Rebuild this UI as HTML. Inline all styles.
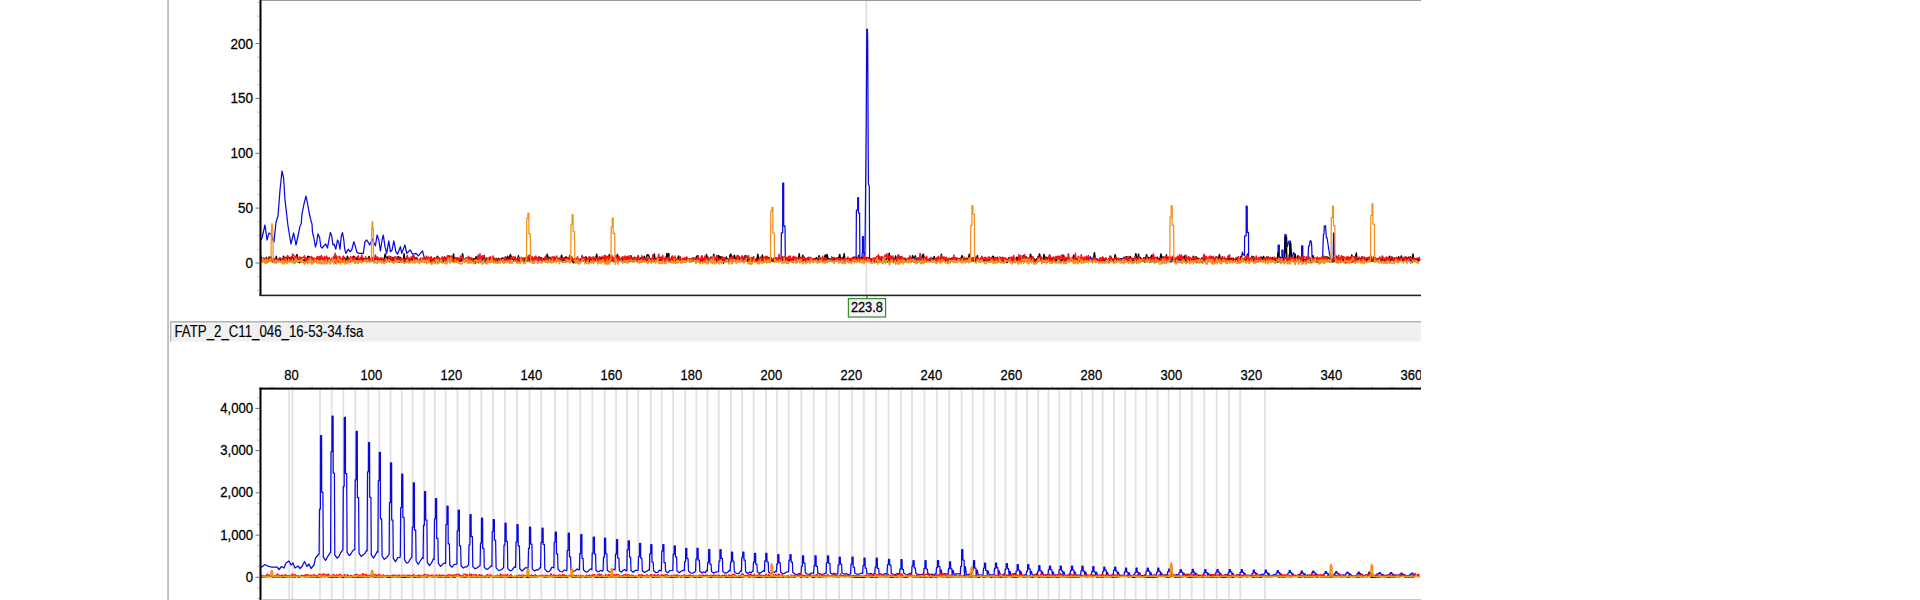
<!DOCTYPE html>
<html><head><meta charset="utf-8"><title>Electropherogram</title>
<style>
html,body{margin:0;padding:0;background:#fff;width:1920px;height:600px;overflow:hidden}
svg{display:block}
.t{font-family:"Liberation Sans",Arial,sans-serif;font-size:13.5px;fill:#000;stroke:#000;stroke-width:0.25px}
.h{font-family:"Liberation Sans",Arial,sans-serif;font-size:15px;fill:#000;stroke:#000;stroke-width:0.12px}
</style></head><body>
<svg width="1920" height="600" viewBox="0 0 1920 600">
<rect width="1920" height="600" fill="#fff"/>
<defs><clipPath id="c"><rect x="0" y="0" width="1421" height="600"/></clipPath></defs>
<g clip-path="url(#c)">
<rect x="167.3" y="0" width="1.5" height="600" fill="#b0b0b0"/>
<rect x="261.5" y="0" width="1159.5" height="1" fill="#9a9a9a"/>
<rect x="865.6" y="1" width="1.5" height="293.5" fill="#dcdcdc"/>
<rect x="257.5" y="289.9" width="2" height="1" fill="#b4b4b4"/>
<rect x="257.5" y="276.2" width="2" height="1" fill="#b4b4b4"/>
<rect x="255.5" y="262.5" width="4" height="1" fill="#707070"/>
<text transform="translate(253 268) scale(1 1.12)" class="t" text-anchor="end">0</text>
<rect x="257.5" y="248.8" width="2" height="1" fill="#b4b4b4"/>
<rect x="257.5" y="235.1" width="2" height="1" fill="#b4b4b4"/>
<rect x="257.5" y="221.3" width="2" height="1" fill="#b4b4b4"/>
<rect x="255.5" y="207.6" width="4" height="1" fill="#707070"/>
<text transform="translate(253 213.1) scale(1 1.12)" class="t" text-anchor="end">50</text>
<rect x="257.5" y="193.9" width="2" height="1" fill="#b4b4b4"/>
<rect x="257.5" y="180.2" width="2" height="1" fill="#b4b4b4"/>
<rect x="257.5" y="166.5" width="2" height="1" fill="#b4b4b4"/>
<rect x="255.5" y="152.8" width="4" height="1" fill="#707070"/>
<text transform="translate(253 158.2) scale(1 1.12)" class="t" text-anchor="end">100</text>
<rect x="257.5" y="139" width="2" height="1" fill="#b4b4b4"/>
<rect x="257.5" y="125.3" width="2" height="1" fill="#b4b4b4"/>
<rect x="257.5" y="111.6" width="2" height="1" fill="#b4b4b4"/>
<rect x="255.5" y="97.9" width="4" height="1" fill="#707070"/>
<text transform="translate(253 103.4) scale(1 1.12)" class="t" text-anchor="end">150</text>
<rect x="257.5" y="84.2" width="2" height="1" fill="#b4b4b4"/>
<rect x="257.5" y="70.4" width="2" height="1" fill="#b4b4b4"/>
<rect x="257.5" y="56.7" width="2" height="1" fill="#b4b4b4"/>
<rect x="255.5" y="43" width="4" height="1" fill="#707070"/>
<text transform="translate(253 48.5) scale(1 1.12)" class="t" text-anchor="end">200</text>
<rect x="257.5" y="29.3" width="2" height="1" fill="#b4b4b4"/>
<rect x="257.5" y="15.6" width="2" height="1" fill="#b4b4b4"/>
<rect x="257.5" y="1.8" width="2" height="1" fill="#b4b4b4"/>
<g fill="none" stroke-width="1.4" stroke-linejoin="round">
<polyline stroke="#00a000" stroke-width="0.8" points="261,261.4 263,261 265,262 267,261.8 269,261.5 271,261.1 273,261.2 275,261.9 277,261.9 279,261.3 281,261.8 283,262 285,261.6 287,261.5 289,261.5 291,262 293,261.6 295,262 297,262 299,261.5 301,261.6 303,261.1 305,261.9 307,261 309,261.2 311,261.5 313,262.1 315,261.4 317,261.7 319,261.3 321,261.3 323,262 325,261 327,261.8 329,261.2 331,261.1 333,261 335,262 337,261.8 339,260.9 341,262.1 343,261.4 345,261.6 347,261.3 349,261.4 351,261.4 353,261.3 355,261 357,261.8 359,261.2 361,262.1 363,261.1 365,261 367,261.7 369,260.9 371,261.2 373,261 375,261.8 377,262.1 379,261.2 381,260.9 383,261.2 385,261.9 387,260.9 389,261.2 391,261.2 393,261.1 395,262 397,262.1 399,262 401,261.8 403,261.5 405,261.2 407,262 409,261.3 411,261.9 413,261.9 415,261.7 417,261.2 419,262 421,262.1 423,261.7 425,262 427,262.1 429,261 431,261.7 433,261.8 435,261.2 437,262 439,262 441,261.9 443,262 445,262 447,261.7 449,262 451,261.5 453,260.9 455,261.6 457,261.9 459,261.1 461,261.8 463,260.9 465,261.9 467,261.6 469,261.8 471,261.2 473,262.1 475,261 477,262 479,261.4 481,261.8 483,262 485,261.3 487,261.4 489,261.1 491,261.1 493,261.5 495,261.6 497,261.8 499,261.3 501,261.5 503,261.5 505,261.2 507,261.3 509,262.1 511,261.7 513,261.3 515,261.5 517,261.3 519,261.8 521,261.4 523,261.8 525,261.7 527,261 529,261.9 531,262 533,261.6 535,261.6 537,261.4 539,261.1 541,261.3 543,260.9 545,262 547,261.9 549,262 551,261.6 553,261.6 555,261.8 557,261 559,261.7 561,261.6 563,261.3 565,261.4 567,262 569,261.3 571,261.3 573,262.1 575,261.4 577,261.9 579,261.4 581,261.1 583,261.7 585,261.3 587,261.6 589,261 591,262.1 593,261.6 595,261 597,261.2 599,262 601,261.1 603,261.3 605,261.1 607,261.7 609,262.1 611,261.5 613,261 615,261.3 617,261 619,261.2 621,261.7 623,261.7 625,262 627,261.6 629,261.8 631,261.5 633,261.9 635,261 637,261.9 639,261.4 641,261.9 643,261.4 645,260.9 647,260.9 649,261.1 651,261.9 653,261.2 655,261.5 657,261.1 659,262.1 661,262 663,261.4 665,261.9 667,261 669,262 671,261.7 673,261.6 675,261.7 677,261.9 679,261.3 681,261.7 683,261.9 685,262 687,261.7 689,261.6 691,262.1 693,261 695,261.5 697,261.6 699,261.1 701,261.8 703,261.7 705,262.1 707,261.5 709,261.9 711,261.6 713,261.8 715,261.5 717,261.3 719,261.8 721,261.3 723,261.6 725,261.4 727,261.8 729,261.3 731,261.8 733,261.4 735,260.9 737,262 739,261.8 741,261.7 743,261.3 745,261.2 747,260.9 749,261.2 751,261.1 753,261 755,261.1 757,261.2 759,261.7 761,261.5 763,261.3 765,262.1 767,261.2 769,261 771,261.3 773,261.7 775,261 777,261.1 779,260.9 781,261.1 783,260.9 785,261.3 787,261.6 789,262.1 791,261.2 793,262 795,262.1 797,262 799,261.7 801,261 803,261.1 805,261.6 807,261.3 809,261.9 811,260.9 813,261.2 815,261.6 817,261.6 819,261.3 821,262 823,261.3 825,261.2 827,261.1 829,261.8 831,261.5 833,261.3 835,261.4 837,261.4 839,261.3 841,261.1 843,261.8 845,261.4 847,261.3 849,262 851,262.1 853,261.1 855,261.6 857,261.8 859,261.4 861,261.1 863,261.1 865,261.4 867,261.7 869,261.3 871,261.6 873,262 875,261.3 877,261.6 879,261.9 881,261.5 883,262 885,262.1 887,261.8 889,261 891,261.9 893,262 895,261.6 897,261.2 899,261.5 901,261.2 903,261.2 905,262.1 907,261.2 909,260.9 911,261.9 913,261 915,261 917,262 919,261.9 921,261.9 923,262 925,262.1 927,260.9 929,261.5 931,261 933,261.7 935,261.5 937,261.7 939,261.4 941,261 943,261.3 945,261.2 947,261 949,261 951,261.1 953,261.6 955,261.3 957,261.8 959,261.5 961,261.6 963,261.5 965,261.6 967,261.6 969,262 971,261.8 973,261.4 975,261.3 977,261.3 979,261.2 981,261.3 983,261.7 985,261.9 987,261.3 989,261.1 991,262.1 993,260.9 995,260.9 997,261.6 999,261.2 1001,261.4 1003,261.4 1005,261.2 1007,261.8 1009,261 1011,262.1 1013,261.8 1015,262.1 1017,261.3 1019,260.9 1021,261.8 1023,261.5 1025,261.4 1027,261.4 1029,261.4 1031,260.9 1033,261.1 1035,261.8 1037,262 1039,261.7 1041,261.4 1043,261 1045,262 1047,261.9 1049,261.4 1051,262 1053,261.6 1055,261.2 1057,260.9 1059,261.7 1061,261.2 1063,261.5 1065,261.3 1067,261.4 1069,261 1071,260.9 1073,261.8 1075,261.8 1077,261.1 1079,261.2 1081,261.6 1083,262.1 1085,261.8 1087,262 1089,261.3 1091,261.8 1093,262 1095,261.7 1097,261.6 1099,261.7 1101,260.9 1103,261.9 1105,261 1107,261.8 1109,261.9 1111,261.6 1113,261 1115,261.4 1117,261.7 1119,261.9 1121,261.6 1123,260.9 1125,261.9 1127,260.9 1129,261.3 1131,261.6 1133,262 1135,261.7 1137,261.2 1139,261.9 1141,261.8 1143,261.4 1145,261.2 1147,261.4 1149,261.9 1151,261.9 1153,261.8 1155,261.7 1157,261.9 1159,261 1161,261.1 1163,261.9 1165,261.9 1167,261.6 1169,261.7 1171,260.9 1173,261.6 1175,261.2 1177,261.9 1179,261.8 1181,262.1 1183,261.4 1185,261.7 1187,261.1 1189,261.5 1191,261.3 1193,261.5 1195,261.5 1197,261.9 1199,261.1 1201,261.6 1203,262 1205,261.4 1207,261.1 1209,262 1211,261.8 1213,262.1 1215,261.1 1217,261.3 1219,261.2 1221,261.5 1223,261.1 1225,261.3 1227,261.9 1229,261.3 1231,261.7 1233,261.9 1235,261.2 1237,261.7 1239,262 1241,261.5 1243,262.1 1245,261.3 1247,261.6 1249,261.1 1251,261.1 1253,261.1 1255,261.7 1257,261.1 1259,261.7 1261,261.2 1263,261.7 1265,261.7 1267,262 1269,261.9 1271,261.5 1273,261.8 1275,261.1 1277,261.8 1279,261.3 1281,261.3 1283,261.4 1285,261.5 1287,261.8 1289,262 1291,261.3 1293,261 1295,261.1 1297,261.5 1299,261 1301,261.9 1303,261.7 1305,261.8 1307,260.9 1309,261.5 1311,262 1313,261.1 1315,261.9 1317,261.6 1319,261.9 1321,261.7 1323,261.8 1325,262 1327,260.9 1329,261.2 1331,261 1333,261.4 1335,261 1337,261 1339,261.2 1341,261 1343,261.8 1345,261.4 1347,261.1 1349,261.5 1351,261.3 1353,261.7 1355,261.5 1357,261.9 1359,261.3 1361,261.7 1363,261.4 1365,261.8 1367,261.3 1369,261.3 1371,261.3 1373,261.6 1375,262.1 1377,261.4 1379,261.7 1381,261.6 1383,261.9 1385,261.8 1387,262 1389,262 1391,261 1393,261.1 1395,261.6 1397,261.4 1399,262 1401,261.5 1403,261.1 1405,261.3 1407,261.6 1409,261.5 1411,261.6 1413,261.1 1415,261.4 1417,261.1 1419,261.3"/>
<polyline stroke="#0a0ade" stroke-width="1.25" points="261,240 262,238 265,225 267,240 269,233 271,234 274,242 276,222 278,216 280,190 282,171 283.6,178 285,200 288,226 291,244 293.6,233 296,245 298,236 300,226 301.2,224 302,214 304,204 306,196 308,206 309.2,213 310.8,220 312,224.2 312.5,232.5 313.8,237.5 315.4,247 316.7,242.5 317.9,233.8 319.6,237.5 320.8,246.7 322,248 324,245.8 325.8,244 327.5,248 329.2,238.3 330.4,232.5 331.7,235.8 333,245 334.2,244.2 335.8,249.2 337.5,240 338.8,242.5 340,249.2 341.2,236.7 342.5,232.5 343.8,240 344.6,248.3 345.8,253.3 348.3,249.2 350,251.7 351.7,250 353.8,241.7 355,245 356.7,251.7 358.3,253.3 363.3,253.3 365,241.7 366.7,240 368.3,242.5 369.6,245 370.8,242.5 372.5,239.2 373.8,242.5 375.4,245.8 377.1,235 378.8,240 380.4,250.8 382.1,240 383.3,235 385,246.7 386.7,253.3 388.8,240.8 390.4,251.7 392.1,250 393.8,240.8 395.8,251.7 397.5,254.2 400.4,246.7 401.7,253.3 405,245 406.7,253.3 410.4,250 412.5,254.2 416.2,253.3 418.3,255.8 422.5,250.8 424.2,257.5 426,260.5 427.5,260.4 429,258.7 430.5,260.9 432,260.8 433.5,259.7 435,259.9 436.5,258.6 438,259.3 439.5,260.4 441,260.5 442.5,260.1 444,258.6 445.5,259.1 447,261 448.5,259.3 450,259.9 451.5,259.1 453,260.3 454.5,260.7 456,259.5 457.5,258.9 459,259.3 460.5,258.6 462,259.4 463.5,260.6 465,259.4 466.5,260.3 468,258.7 469.5,258.3 471,259.5 472.5,258.6 474,259 475.5,259.1 477,260.8 478.5,259.4 480,259.9 481.5,258.9 483,260.5 484.5,258.7 486,258.8 487.5,260.1 489,259.4 490.5,259.9 492,259.4 493.5,258.8 495,260.3 496.5,259 498,261 499.5,259.6 501,260 502.5,259.7 504,258.7 505.5,258.7 507,260.6 508.5,260.4 510,260.1 511.5,258.9 513,259 514.5,259.3 516,261 517.5,260.9 519,259.8 520.5,259.7 522,259.6 523.5,259.5 525,260.9 526.5,259.8 528,258.8 529.5,260.5 531,259.5 532.5,260.5 534,260.2 535.5,259.5 537,259.3 538.5,260.4 540,259.3 541.5,260.2 543,258.6 544.5,259.2 546,259.7 547.5,260.2 549,259.4 550.5,260.4 552,259.4 553.5,260.7 555,260.9 556.5,259.8 558,259 559.5,260.8 561,260.3 562.5,260.4 564,260.5 565.5,260.2 567,260.1 568.5,260.1 570,258.7 571.5,259.7 573,259.1 574.5,260.1 576,259.7 577.5,258.7 579,259.4 580.5,259.1 582,259.7 583.5,260.1 585,259.2 586.5,258.6 588,259.3 589.5,258.9 591,259.5 592.5,260.1 594,259.9 595.5,260 597,260.6 598.5,260.6 600,259.5 601.5,260 603,260.9 604.5,260.1 606,260.4 607.5,260 609,258.9 610.5,260.7 612,259.6 613.5,259.3 615,259.5 616.5,260.8 618,259.2 619.5,259.8 621,259.4 622.5,259.8 624,259.7 625.5,260.1 627,259.3 628.5,259 630,259.3 631.5,260.5 633,259.2 634.5,261 636,260.1 637.5,260.1 639,260.4 640.5,260.4 642,259.9 643.5,259.3 645,259.7 646.5,260.4 648,258.7 649.5,259.7 651,260.7 652.5,258.6 654,259.6 655.5,260.3 657,259.8 658.5,259.5 660,260.6 661.5,259.3 663,258.8 664.5,260.3 666,259.3 667.5,260.8 669,259.7 670.5,259.8 672,259 673.5,260.5 675,259.2 676.5,260.5 678,258.7 679.5,260.9 681,260.3 682.5,260.6 684,260.1 685.5,260.3 687,259.3 688.5,259 690,259.6 691.5,260.1 693,258.9 694.5,258.8 696,260 697.5,260.7 699,259.6 700.5,260 702,260.9 703.5,258.7 705,259 706.5,259.8 708,259.9 709.5,259.2 711,259.2 712.5,259.8 714,259.2 715.5,260.4 717,260.3 718.5,258.8 720,258.8 721.5,260 723,260.7 724.5,259.4 726,258.7 727.5,258.7 729,260.9 730.5,259.1 732,260.9 733.5,260.6 735,260.1 736.5,259.2 738,260.1 739.5,259.5 741,260.6 742.5,260.5 744,260.6 745.5,260 747,260.4 748.5,258.8 750,259.1 751.5,260.7 753,259 754.5,260.7 756,259.6 757.5,258.8 759,259 760.5,259.5 762,259 763.5,259.3 765,259.3 766.5,259.8 768,260.8 769.5,260.9 771,260.2 772.5,260.9 774,260.2 775.5,260.2 777,259 778.5,258.7 780,258.8 781.1,259.5 781.4,232.8 782.7,232.8 782.7,183.2 783.7,183.2 783.7,225.9 785,225.9 785.3,259.5 786,260.3 787.5,259.2 789,260.9 790.5,259.6 792,258.6 793.5,260.5 795,258.7 796.5,261 798,259.4 799.5,258.8 801,259.8 802.5,258.7 804,258.7 805.5,258.7 807,259.6 808.5,258.7 810,260.9 811.5,259.8 813,259.9 814.5,259.4 816,259.9 817.5,260 819,257.5 820.5,259.8 822,259.5 823.5,260.3 825,259.3 826.5,260.6 828,258.9 829.5,258.8 831,260.6 832.5,258.9 834,259.2 835.5,259.6 837,259.2 838.5,260.3 840,259.1 841.5,259.5 843,259.6 844.5,260.4 846,260.8 847.5,260.4 849,259.7 850.5,260.2 852,260.3 853.5,259.2 855,259.5 856.1,259.5 856.4,210.1 857.7,210.1 857.7,197.7 858.5,197.7 858.5,213.1 859.6,213.1 859.9,259.5 861,260.4 861.9,259.5 862.2,252.6 862.5,252.6 862.5,236.6 863.5,236.6 863.5,252.6 863.8,252.6 864.1,259.5 864.9,259.5 865.5,200 866.2,130 866.8,29 867.4,29 867.7,40 868.1,130 868.4,184 869.3,186 869.6,259.5 871.5,260.6 873,258.8 874.5,259 876,259.7 877.5,260.5 879,259.4 880.5,259.7 882,259.7 883.5,260.8 885,260.9 886.5,258.8 888,259.6 889.5,260.9 891,260 892.5,260.7 894,259.1 895.5,259.1 897,259.5 898.5,259.2 900,259.2 901.5,260.6 903,260.1 904.5,258.9 906,259.8 907.5,259 909,260.3 910.5,259.1 912,259.4 913.5,260.7 915,260.5 916.5,258.6 918,260 919.5,259.5 921,258.7 922.5,259.5 924,260.3 925.5,261 927,260.8 928.5,260.2 930,260.5 931.5,260 933,259.9 934.5,258.8 936,259.5 937.5,260.4 939,259.3 940.5,259.3 942,258.8 943.5,260.2 945,260.8 946.5,260.6 948,260.1 949.5,259.8 951,259.2 952.5,259.9 954,258.6 955.5,259 957,260.8 958.5,260.1 960,258.9 961.5,259.9 963,259.5 964.5,259.1 966,259.2 967.5,260.8 969,260.1 970.5,259.1 972,260 973.5,260.7 975,259.6 976.5,259.9 978,259.3 979.5,260.1 981,259 982.5,258.9 984,260 985.5,259.1 987,260.2 988.5,260.3 990,259.8 991.5,260.9 993,260.6 994.5,260.8 996,260.3 997.5,259.7 999,259.1 1000.5,258.8 1002,260.1 1003.5,260.4 1005,260.6 1006.5,260.3 1008,260.9 1009.5,260.9 1011,258.8 1012.5,259.1 1014,259.7 1015.5,260.4 1017,259.6 1018.5,259.5 1020,260 1021.5,260.2 1023,260.9 1024.5,258.8 1026,260.3 1027.5,258.9 1029,259.4 1030.5,260.8 1032,259.3 1033.5,260.3 1035,260 1036.5,259.4 1038,259.8 1039.5,259.6 1041,260.2 1042.5,259.3 1044,259.7 1045.5,259.9 1047,260.8 1048.5,259.5 1050,258.6 1051.5,258.7 1053,259.7 1054.5,259.8 1056,259.1 1057.5,259.7 1059,258.8 1060.5,260.9 1062,259.8 1063.5,259.5 1065,259.6 1066.5,260.8 1068,260.1 1069.5,258.7 1071,259.6 1072.5,260.6 1074,259.5 1075.5,260.4 1077,259 1078.5,259.6 1080,261 1081.5,259.6 1083,259.7 1084.5,260.2 1086,259 1087.5,258.8 1089,260.8 1090.5,256.6 1092,260.9 1093.5,258.9 1095,260.8 1096.5,258.7 1098,259.6 1099.5,260.4 1101,260.5 1102.5,259.8 1104,260.3 1105.5,258.9 1107,259.5 1108.5,259.7 1110,260.9 1111.5,260 1113,259.9 1114.5,258.9 1116,258 1117.5,259.6 1119,260.1 1120.5,258.7 1122,258.7 1123.5,258.5 1125,259.7 1126.5,260.8 1128,259.9 1129.5,260.8 1131,261 1132.5,259 1134,258.8 1135.5,260.4 1137,259.5 1138.5,259.3 1140,260.6 1141.5,259.4 1143,260 1144.5,259.7 1146,258.8 1147.5,258.9 1149,259.2 1150.5,260.5 1152,259.2 1153.5,260.1 1155,260.1 1156.5,259.2 1158,259.7 1159.5,259 1161,258.7 1162.5,259.8 1164,260.6 1165.5,260.7 1167,260 1168.5,260.3 1170,260.1 1171.5,260.9 1173,258.8 1174.5,258.8 1176,259.7 1177.5,260.7 1179,258.8 1180.5,260.6 1182,260.4 1183.5,257 1185,259.8 1186.5,259.7 1188,259.1 1189.5,260.9 1191,258.8 1192.5,258.8 1194,260.1 1195.5,259 1197,259.8 1198.5,259.7 1200,260.8 1201.5,259.2 1203,259.9 1204.5,259.9 1206,259.6 1207.5,260.6 1209,258.9 1210.5,259.5 1212,259.2 1213.5,260.1 1215,258.9 1216.5,259.4 1218,260.1 1219.5,260 1221,260.9 1222.5,260.1 1224,259.2 1225.5,259.4 1227,258.8 1228.5,259.6 1230,258.8 1231.5,259 1233,260.5 1234.5,259.8 1236,259.6 1237.5,258.7 1239,259.3 1240.5,259.8 1241.2,259.5 1242.4,252.2 1243.4,255 1244.5,255.5 1244.6,235.8 1246.2,235.8 1246.2,206.1 1247.2,206.1 1247.3,232.3 1248.5,232.3 1248.6,259.5 1249.5,259.3 1251,260.9 1252.5,259.1 1254,260.8 1255.5,260.1 1257,259.4 1258.5,259.9 1260,258.7 1261.5,259.7 1263,260.8 1264.5,259.8 1266,260.4 1267.5,259.7 1269,260.1 1270.5,259.1 1272,260.3 1273.5,261 1275,259 1276.5,259.7 1277.6,259.5 1277.9,256.6 1278.1,256.6 1278.1,245 1279.3,245 1279.3,256.6 1279.5,256.6 1279.8,259.5 1281,260 1281.5,259.5 1281.8,257.6 1281.9,257.6 1281.9,250 1282.9,250 1282.9,257.6 1283,257.6 1283.3,259.5 1284.3,259.5 1284.9,234.6 1286,234.6 1286.6,237 1287.2,247 1288.8,241.2 1290.4,241.2 1291.2,250 1292,259.5 1293.6,252.5 1295.2,255 1296,259.5 1297.5,260.4 1299,258.6 1300.5,259.3 1301.1,259.5 1301.4,256.8 1301.6,256.8 1301.6,245.8 1302.8,245.8 1302.8,256.8 1303,256.8 1303.3,259.5 1305,259.4 1306.5,259.8 1308,259.5 1308.6,245.8 1309.6,245.8 1310,240.8 1311,240.8 1311.6,244 1312.2,259.5 1314,258.7 1315.5,259.7 1317,259.1 1318.5,260.6 1320,260.6 1321.5,259.5 1322.5,259.5 1323.5,234 1324,234 1324.3,225.8 1325.5,225.8 1326.3,237.5 1327,237.5 1329.5,254 1331,259.5 1332,260.4 1333.2,259.5 1333.5,233 1334.2,233 1334.5,259.5 1336.5,259 1338,258.6 1339.5,258.9 1341,259.7 1342.5,259.7 1344,258.7 1345.5,260.4 1347,260.6 1348.5,260.3 1350,257.4 1351.5,261 1353,258.8 1354.5,258.8 1356,258.8 1357.5,258.6 1359,259.3 1360.5,259.5 1362,260.9 1363.5,260.3 1365,259.6 1366.5,258.2 1368,260.4 1369.5,260.7 1371,260.4 1372.5,260.8 1374,259.6 1375.5,260.2 1377,260.3 1378.5,259.1 1380,259.2 1381.5,260.4 1383,259.9 1384.5,259.5 1386,260.1 1387.5,258.9 1389,258.6 1390.5,259.6 1392,258.6 1393.5,260.9 1395,259.4 1396.5,258.8 1398,258.6 1399.5,260 1401,259.7 1402.5,259.7 1404,260.1 1405.5,259 1407,259.7 1408.5,259.2 1410,260.6 1411.5,259.9 1413,260.2 1414.5,258.8 1416,259.6 1417.5,260.7 1419,259.3"/>
<polyline stroke="#000" stroke-width="1.5" points="261,258.8 261.9,260.3 262.8,261.7 263.7,257.9 264.6,259.4 265.5,259.5 266.4,257.4 267.3,261.9 268.2,261.1 269.1,256.9 270,260.2 270.9,256.8 271.8,259.4 272.7,261.8 273.6,262 274.5,261.3 275.4,262.1 276.3,256.3 277.2,262.2 278.1,260.3 279,259.6 279.9,258.8 280.8,260 281.7,260.6 282.6,261.5 283.5,256.2 284.4,262 285.3,260 286.2,258.1 287.1,260 288,257.3 288.9,258.3 289.8,257.6 290.7,261.1 291.6,257 292.5,257 293.4,258.6 294.3,262.5 295.2,262.6 296.1,257 297,254.6 297.9,260.1 298.8,262 299.7,262.6 300.6,258.8 301.5,259.7 302.4,260.2 303.3,260.4 304.2,259.6 305.1,261.1 306,258.2 306.9,259.7 307.8,256.3 308.7,257.1 309.6,257.3 310.5,259.4 311.4,258.6 312.3,260.8 313.2,260.7 314.1,258.1 315,260.2 315.9,258.8 316.8,258.9 317.7,258.5 318.6,258.2 319.5,260.8 320.4,258.2 321.3,256.2 322.2,258.9 323.1,258.8 324,259.3 324.9,258.2 325.8,260.2 326.7,259.4 327.6,258.1 328.5,258.4 329.4,259.5 330.3,260.7 331.2,260.7 332.1,258.3 333,260.6 333.9,259.1 334.8,259.3 335.7,261.1 336.6,261.2 337.5,261.4 338.4,261.2 339.3,258.6 340.2,260.9 341.1,259.7 342,259 342.9,257.9 343.8,258.7 344.7,257.7 345.6,260.4 346.5,261.3 347.4,256.2 348.3,258.2 349.2,260.3 350.1,259.2 351,260.1 351.9,258.5 352.8,259.5 353.7,256.3 354.6,257 355.5,261.4 356.4,257.8 357.3,259.8 358.2,258.6 359.1,259.3 360,260.4 360.9,257.8 361.8,261.4 362.7,258.1 363.6,258.9 364.5,259.1 365.4,259.9 366.3,258.6 367.2,258.4 368.1,260.2 369,256.5 369.9,259.9 370.8,259.3 371.7,259.9 372.6,259.3 373.5,260.1 374.4,260.1 375.3,258.9 376.2,258 377.1,259.4 378,260.8 378.9,260.7 379.8,258.9 380.7,258.5 381.6,260.1 382.5,260.5 383.4,260.4 384.3,258.2 385.2,253.9 386.1,257.4 387,261 387.9,256.8 388.8,260.3 389.7,261.6 390.6,257.1 391.5,259.7 392.4,257.7 393.3,260.2 394.2,259.9 395.1,257 396,260.2 396.9,259 397.8,259 398.7,256.6 399.6,262.3 400.5,257.6 401.4,261.1 402.3,259.7 403.2,260.4 404.1,253.8 405,262 405.9,259.3 406.8,257.8 407.7,257.9 408.6,258.6 409.5,260.7 410.4,258.5 411.3,259.1 412.2,260.1 413.1,255.7 414,257.2 414.9,258.7 415.8,257.8 416.7,259.5 417.6,259.4 418.5,261.2 419.4,259.5 420.3,261.4 421.2,260.8 422.1,259.4 423,258.3 423.9,260.5 424.8,261.4 425.7,258 426.6,257.9 427.5,261.5 428.4,258.2 429.3,258.5 430.2,260.5 431.1,261.6 432,258.7 432.9,259 433.8,259.2 434.7,257.8 435.6,262.6 436.5,258.5 437.4,256.3 438.3,257.7 439.2,258.7 440.1,261.4 441,260.8 441.9,261.8 442.8,261.4 443.7,260.8 444.6,256.9 445.5,258.6 446.4,260.9 447.3,257.4 448.2,256.1 449.1,256 450,257.2 450.9,261.1 451.8,260 452.7,259.3 453.6,254 454.5,261.1 455.4,261 456.3,258.3 457.2,259.1 458.1,258.2 459,258.8 459.9,259.1 460.8,260.9 461.7,259.9 462.6,253.8 463.5,259.7 464.4,259.2 465.3,261 466.2,258 467.1,258.3 468,259.9 468.9,258.6 469.8,257.7 470.7,261.1 471.6,259.1 472.5,259.9 473.4,261.5 474.3,258.8 475.2,259.5 476.1,256.7 477,260.3 477.9,259.7 478.8,258.3 479.7,257.6 480.6,260.2 481.5,259.9 482.4,257.4 483.3,258.4 484.2,255.7 485.1,261.6 486,261.3 486.9,257.9 487.8,260.1 488.7,260.6 489.6,258.9 490.5,261.6 491.4,259.3 492.3,259.3 493.2,257.7 494.1,258.1 495,260.5 495.9,259.3 496.8,258.8 497.7,260.6 498.6,258.3 499.5,260.4 500.4,259.1 501.3,259.9 502.2,257.9 503.1,258.2 504,258.6 504.9,258.6 505.8,258.1 506.7,258.7 507.6,256.2 508.5,259.4 509.4,258.4 510.3,254.5 511.2,256.5 512.1,258.8 513,259 513.9,260.2 514.8,260.3 515.7,260.7 516.6,259 517.5,260.4 518.4,255.8 519.3,260.9 520.2,257.7 521.1,258.3 522,260.1 522.9,258.6 523.8,259.5 524.7,261.1 525.6,257.8 526.5,260 527.4,257.9 528.3,259.1 529.2,258.9 530.1,257.9 531,260.7 531.9,259.9 532.8,258.9 533.7,258.2 534.6,259.5 535.5,257.9 536.4,260.2 537.3,259 538.2,257.7 539.1,257 540,261 540.9,257.4 541.8,261.5 542.7,261.6 543.6,259.3 544.5,260.8 545.4,256.9 546.3,259.1 547.2,254.3 548.1,257.5 549,260.3 549.9,257.2 550.8,261.9 551.7,259.9 552.6,261 553.5,261 554.4,257.7 555.3,261 556.2,257.3 557.1,257.7 558,258.3 558.9,260.1 559.8,260.8 560.7,258.9 561.6,255.2 562.5,260.1 563.4,258.1 564.3,259.4 565.2,257.4 566.1,256.8 567,260.9 567.9,260.4 568.8,258 569.7,262.5 570.6,258.1 571.5,257.5 572.4,261 573.3,262.7 574.2,262.4 575.1,259.1 576,262.3 576.9,259.5 577.8,259 578.7,262.6 579.6,262.2 580.5,261.2 581.4,259.7 582.3,256.3 583.2,258 584.1,258.5 585,261.4 585.9,256.8 586.8,258.2 587.7,261.4 588.6,262.8 589.5,262.1 590.4,257.4 591.3,259.4 592.2,259.9 593.1,261.8 594,259.4 594.9,261.4 595.8,258.1 596.7,254.2 597.6,259.5 598.5,258 599.4,259.4 600.3,261 601.2,257.3 602.1,259.3 603,257.5 603.9,257.7 604.8,258.5 605.7,259.2 606.6,257.6 607.5,260.2 608.4,261.4 609.3,254.7 610.2,260.9 611.1,261.1 612,258.5 612.9,260.2 613.8,261.4 614.7,260.4 615.6,261 616.5,259.2 617.4,254.6 618.3,262 619.2,259.2 620.1,259.4 621,259.4 621.9,257.9 622.8,259.7 623.7,261.4 624.6,261.8 625.5,257.2 626.4,259.9 627.3,258.5 628.2,258.3 629.1,259 630,261.5 630.9,255.7 631.8,258.1 632.7,261.1 633.6,258.6 634.5,261.6 635.4,259.1 636.3,258.1 637.2,260.4 638.1,255.8 639,260.5 639.9,260.1 640.8,257.9 641.7,259.8 642.6,259.5 643.5,258.6 644.4,256.4 645.3,258.7 646.2,260.1 647.1,254.9 648,254.7 648.9,255.7 649.8,259.7 650.7,258.7 651.6,260.8 652.5,258.1 653.4,259.2 654.3,253.9 655.2,260.9 656.1,258.9 657,260.8 657.9,260.2 658.8,258.2 659.7,260.3 660.6,259.8 661.5,259.7 662.4,259.7 663.3,258.5 664.2,261.2 665.1,258.4 666,259.6 666.9,253.5 667.8,259.2 668.7,253.6 669.6,260.9 670.5,260.5 671.4,258.2 672.3,256.3 673.2,258.7 674.1,259 675,258.9 675.9,262 676.8,261.4 677.7,258.5 678.6,255.9 679.5,260.8 680.4,260.3 681.3,261.9 682.2,259.5 683.1,261.4 684,259.7 684.9,258 685.8,261.2 686.7,257.6 687.6,259.1 688.5,259 689.4,259.8 690.3,259.3 691.2,260.5 692.1,258.7 693,259.2 693.9,260.3 694.8,258.9 695.7,259 696.6,256.4 697.5,255.9 698.4,261.5 699.3,260.7 700.2,261.2 701.1,259.3 702,257.8 702.9,259 703.8,261.6 704.7,258 705.6,260 706.5,254.6 707.4,257.8 708.3,259 709.2,259.2 710.1,260.6 711,257.1 711.9,258.6 712.8,261.3 713.7,254.3 714.6,259.1 715.5,261.8 716.4,259 717.3,262.3 718.2,255.6 719.1,256.2 720,259.8 720.9,256.6 721.8,259.4 722.7,259.9 723.6,263 724.5,259.8 725.4,258.2 726.3,257.1 727.2,260.4 728.1,261.4 729,262 729.9,255.5 730.8,254.1 731.7,257.8 732.6,257.7 733.5,259 734.4,255.3 735.3,258.9 736.2,259.4 737.1,257.7 738,258.4 738.9,257.7 739.8,259.3 740.7,258.3 741.6,258.2 742.5,256.4 743.4,259.1 744.3,260.1 745.2,255.4 746.1,261.3 747,260 747.9,261.5 748.8,258.3 749.7,261.9 750.6,262 751.5,258 752.4,258.8 753.3,257.4 754.2,261.4 755.1,259.8 756,259.3 756.9,260 757.8,254.2 758.7,259.9 759.6,261.7 760.5,259.8 761.4,261.4 762.3,255.1 763.2,260.9 764.1,259.5 765,258.2 765.9,259.9 766.8,257.5 767.7,258.6 768.6,257.9 769.5,258 770.4,259.7 771.3,259.5 772.2,259.1 773.1,259.8 774,261.2 774.9,257.8 775.8,258.8 776.7,258.1 777.6,259.5 778.5,258.7 779.4,258.5 780.3,258.5 781.2,261.2 782.1,260.3 783,258.4 783.9,260.3 784.8,259.5 785.7,259.1 786.6,258.7 787.5,259 788.4,259.3 789.3,260.2 790.2,260.1 791.1,260.4 792,259.7 792.9,258.5 793.8,260 794.7,260.3 795.6,260.8 796.5,260.2 797.4,258.3 798.3,260.4 799.2,253.8 800.1,260.4 801,257.7 801.9,260.2 802.8,255.2 803.7,261 804.6,258 805.5,259.2 806.4,261.7 807.3,258.6 808.2,257.4 809.1,260.3 810,259.7 810.9,257.7 811.8,259.1 812.7,259.3 813.6,258.8 814.5,259.4 815.4,258.9 816.3,257.6 817.2,259.9 818.1,260 819,255.7 819.9,258.2 820.8,258.6 821.7,260 822.6,260.6 823.5,259.3 824.4,257.8 825.3,255 826.2,259.9 827.1,254.4 828,258.3 828.9,259.1 829.8,259.5 830.7,261.2 831.6,257.7 832.5,257.7 833.4,261 834.3,257.8 835.2,258.8 836.1,258.8 837,258.1 837.9,257.9 838.8,257.6 839.7,254.5 840.6,259.7 841.5,259.6 842.4,257.6 843.3,259.7 844.2,253.7 845.1,261.9 846,260.8 846.9,259 847.8,258.7 848.7,261 849.6,259.4 850.5,258.7 851.4,261.2 852.3,259.4 853.2,257.3 854.1,260.2 855,257.3 855.9,257.4 856.8,257.9 857.7,260.1 858.6,255.4 859.5,261.4 860.4,261.2 861.3,257.6 862.2,257.5 863.1,260.6 864,256.9 864.9,259.5 865.8,259.6 866.7,257.6 867.6,260.5 868.5,257.8 869.4,261.5 870.3,258.7 871.2,259 872.1,262.2 873,261.6 873.9,258.2 874.8,261.4 875.7,258.6 876.6,261.9 877.5,257.1 878.4,258.6 879.3,262.1 880.2,257.5 881.1,258.3 882,261.8 882.9,261.6 883.8,258.6 884.7,259.8 885.6,259.1 886.5,258.6 887.4,261.9 888.3,260 889.2,253.2 890.1,261.8 891,257.8 891.9,257.2 892.8,258.3 893.7,262.1 894.6,262 895.5,256.1 896.4,259 897.3,260.5 898.2,255.3 899.1,256.8 900,257 900.9,257.3 901.8,259.9 902.7,258.6 903.6,259.5 904.5,259.2 905.4,258.6 906.3,261.6 907.2,259 908.1,261.5 909,258.9 909.9,257.1 910.8,259.5 911.7,259.4 912.6,255.7 913.5,257.9 914.4,258.2 915.3,255.9 916.2,261 917.1,261 918,258 918.9,258.2 919.8,259.4 920.7,260.6 921.6,260.2 922.5,255.3 923.4,254.3 924.3,259 925.2,258.3 926.1,257.6 927,260.8 927.9,260.1 928.8,259.9 929.7,259.2 930.6,259.7 931.5,258.8 932.4,258.6 933.3,259.4 934.2,256.4 935.1,260.5 936,258.9 936.9,258.5 937.8,259.4 938.7,259.7 939.6,259 940.5,260.6 941.4,254.2 942.3,260.5 943.2,259.2 944.1,259.3 945,257.9 945.9,260 946.8,261.5 947.7,259.4 948.6,260 949.5,259.6 950.4,259.6 951.3,258.2 952.2,258.7 953.1,257.7 954,259.3 954.9,258.3 955.8,258 956.7,259 957.6,258.3 958.5,259.4 959.4,258.8 960.3,260.8 961.2,257.7 962.1,255.6 963,258.9 963.9,260.1 964.8,259.6 965.7,259.7 966.6,258.1 967.5,259.1 968.4,258.9 969.3,254.2 970.2,259.9 971.1,260.3 972,258.1 972.9,258.6 973.8,258.3 974.7,258.7 975.6,260.8 976.5,258.2 977.4,255.8 978.3,261 979.2,260.5 980.1,261.7 981,257.8 981.9,257.3 982.8,259.1 983.7,260.9 984.6,260.1 985.5,258.9 986.4,260.6 987.3,261 988.2,260.8 989.1,259.6 990,261.6 990.9,258.7 991.8,257.8 992.7,256.3 993.6,256.7 994.5,259.4 995.4,262.2 996.3,262.1 997.2,257.3 998.1,261.9 999,261.4 999.9,257.6 1000.8,257.6 1001.7,260.1 1002.6,258.6 1003.5,262.3 1004.4,258.8 1005.3,259.2 1006.2,259.7 1007.1,262.6 1008,261.2 1008.9,257.8 1009.8,261.5 1010.7,257.9 1011.6,259.7 1012.5,260.1 1013.4,260.4 1014.3,259.4 1015.2,262 1016.1,260 1017,257.1 1017.9,260.2 1018.8,258.6 1019.7,257.6 1020.6,258.3 1021.5,261.2 1022.4,261 1023.3,255.4 1024.2,261 1025.1,257.3 1026,256.9 1026.9,257.4 1027.8,261.8 1028.7,258.5 1029.6,258.8 1030.5,254.2 1031.4,257 1032.3,258.5 1033.2,261.8 1034.1,258.7 1035,261.6 1035.9,260.4 1036.8,259 1037.7,261.6 1038.6,257.9 1039.5,253.9 1040.4,257.5 1041.3,259.3 1042.2,261.6 1043.1,261.4 1044,254.4 1044.9,260 1045.8,259.3 1046.7,257.2 1047.6,261.7 1048.5,257.7 1049.4,260.4 1050.3,257.2 1051.2,260.2 1052.1,258 1053,259.6 1053.9,260.8 1054.8,261.1 1055.7,259.8 1056.6,260.4 1057.5,258.9 1058.4,258.7 1059.3,258.3 1060.2,259.9 1061.1,260.9 1062,260.8 1062.9,254.9 1063.8,260.8 1064.7,259.3 1065.6,258.5 1066.5,259.4 1067.4,258.4 1068.3,258.2 1069.2,258.8 1070.1,260.6 1071,259.5 1071.9,259 1072.8,258.4 1073.7,255.2 1074.6,257.7 1075.5,258 1076.4,260.3 1077.3,260.1 1078.2,260.8 1079.1,259.2 1080,258.3 1080.9,258.4 1081.8,258.9 1082.7,259.8 1083.6,258.2 1084.5,260.4 1085.4,260.3 1086.3,259.1 1087.2,260.1 1088.1,259.7 1089,257.8 1089.9,259.9 1090.8,260.3 1091.7,260.8 1092.6,258.1 1093.5,260.1 1094.4,252.7 1095.3,259.1 1096.2,260 1097.1,259.4 1098,261.4 1098.9,260.6 1099.8,260.3 1100.7,260.4 1101.6,258.2 1102.5,260 1103.4,258.3 1104.3,260.7 1105.2,260.2 1106.1,259.2 1107,260.2 1107.9,260.3 1108.8,258.9 1109.7,258.3 1110.6,256.2 1111.5,259.7 1112.4,259.2 1113.3,260.5 1114.2,261.2 1115.1,254.7 1116,258.4 1116.9,260.3 1117.8,260.2 1118.7,260.8 1119.6,260.2 1120.5,260.2 1121.4,260 1122.3,260.8 1123.2,260.7 1124.1,257.2 1125,258.1 1125.9,256.9 1126.8,256.8 1127.7,258.4 1128.6,260 1129.5,257.5 1130.4,256.5 1131.3,261.9 1132.2,258.5 1133.1,259.9 1134,262.5 1134.9,259.4 1135.8,253.7 1136.7,258.4 1137.6,261.7 1138.5,254.2 1139.4,259.2 1140.3,257.5 1141.2,259.2 1142.1,260.4 1143,259.6 1143.9,257.7 1144.8,262 1145.7,258.1 1146.6,254.7 1147.5,261.5 1148.4,257.4 1149.3,257.7 1150.2,262.3 1151.1,256.7 1152,255.1 1152.9,259.6 1153.8,261.7 1154.7,258.6 1155.6,259.3 1156.5,261.5 1157.4,257.3 1158.3,260 1159.2,260 1160.1,258 1161,254 1161.9,259.7 1162.8,257 1163.7,261.5 1164.6,262 1165.5,259.7 1166.4,254.8 1167.3,258.8 1168.2,257.8 1169.1,258.5 1170,256.9 1170.9,261.9 1171.8,258 1172.7,256.9 1173.6,259.2 1174.5,258.2 1175.4,261.5 1176.3,258.1 1177.2,257.2 1178.1,261.9 1179,258.1 1179.9,259.7 1180.8,258.8 1181.7,258.1 1182.6,258.1 1183.5,258.7 1184.4,256 1185.3,261.9 1186.2,259.3 1187.1,262.2 1188,258.2 1188.9,259.6 1189.8,258.8 1190.7,258.3 1191.6,260.1 1192.5,259.5 1193.4,256.2 1194.3,259.4 1195.2,261.5 1196.1,256.8 1197,259.4 1197.9,258.1 1198.8,258.7 1199.7,259.7 1200.6,260.7 1201.5,258.2 1202.4,258.1 1203.3,260.9 1204.2,258.9 1205.1,258.6 1206,257.6 1206.9,259.4 1207.8,260.7 1208.7,259.9 1209.6,259.4 1210.5,258 1211.4,258.4 1212.3,260.8 1213.2,258.5 1214.1,259.7 1215,259 1215.9,258.5 1216.8,257 1217.7,258.8 1218.6,257.9 1219.5,254.6 1220.4,261.3 1221.3,260.2 1222.2,259.8 1223.1,260.3 1224,261.2 1224.9,258.3 1225.8,260 1226.7,261.2 1227.6,260.4 1228.5,256.4 1229.4,258.1 1230.3,260.1 1231.2,258.4 1232.1,259.5 1233,258.1 1233.9,259.3 1234.8,260.5 1235.7,259.4 1236.6,258.2 1237.5,260.2 1238.4,260.7 1239.3,259.7 1240.2,260.3 1241.1,256.2 1242,259.1 1242.9,259 1243.8,259.3 1244.7,259.1 1245.6,260.4 1246.5,260.3 1247.4,254.2 1248.3,257 1249.2,260.8 1250.1,260.4 1251,260.5 1251.9,256.3 1252.8,260.3 1253.7,256.8 1254.6,261.3 1255.5,261.1 1256.4,258.2 1257.3,261.4 1258.2,261.6 1259.1,260.5 1260,261.5 1260.9,257.4 1261.8,257.2 1262.7,260.1 1263.6,256.5 1264.5,259.7 1265.4,260.7 1266.3,257.2 1267.2,260.4 1268.1,256.9 1269,258.6 1269.9,259 1270.8,258.4 1271.7,258.1 1272.6,257.6 1273.5,260 1274.4,260.2 1275.3,260.5 1276.2,258.4 1277.1,262.3 1278,252.9 1278.9,261.8 1279.8,259.6 1280.7,257.4 1281.6,262.5 1282.5,260.2 1283.4,260.4 1284.5,259.5 1284.8,252.8 1285.2,252.8 1285.2,237 1286,237 1286,248.2 1286.5,248.2 1286.8,259.5 1287.9,261 1289.1,259.5 1289.4,254.6 1289.8,254.6 1289.8,243 1290.6,243 1290.6,252.9 1291,252.9 1291.3,259.5 1292.4,259.9 1293.3,261.4 1294.2,259.7 1295.1,254.3 1296,260.9 1296.9,259.6 1297.8,255.8 1298.7,256.9 1299.6,258.9 1300.5,261.1 1301.4,257.9 1302.3,262.4 1303.2,260.1 1304.1,261.3 1305,261.7 1305.9,261.7 1306.8,259.1 1307.7,260.6 1308.6,262.4 1309.5,258.3 1310.4,261 1311.3,262.4 1312.2,259.6 1313.1,255.8 1314,261.2 1314.9,261 1315.8,258.3 1316.7,261.7 1317.6,262.1 1318.5,260.4 1319.4,258.5 1320.3,262.5 1321.2,259.4 1322.1,260.8 1323,259.4 1323.9,256.2 1324.8,259.8 1325.7,257.1 1326.6,257.3 1327.5,257 1328.4,257.7 1329.3,258.9 1330.2,259.3 1331.1,261.3 1332,259.7 1332.9,261.9 1333.8,257.6 1334.7,261.5 1335.6,257.7 1336.5,256.2 1337.4,258.7 1338.3,260.3 1339.2,259.7 1340.1,258.7 1341,260.1 1341.9,256.3 1342.8,260 1343.7,261.1 1344.6,259.6 1345.5,258.5 1346.4,259.4 1347.3,260.6 1348.2,261.4 1349.1,259.1 1350,257.6 1350.9,261.5 1351.8,254.9 1352.7,261.7 1353.6,261.4 1354.5,257.3 1355.4,258.1 1356.3,253.1 1357.2,261.2 1358.1,258.9 1359,259.8 1359.9,258.7 1360.8,259.8 1361.7,256.9 1362.6,258.2 1363.5,258 1364.4,257.9 1365.3,260 1366.2,260.7 1367.1,258.7 1368,260.7 1368.9,260 1369.8,260.5 1370.7,258.7 1371.6,260.4 1372.5,261 1373.4,259.8 1374.3,256.6 1375.2,258.4 1376.1,259.4 1377,260.7 1377.9,258.8 1378.8,259.5 1379.7,258.4 1380.6,258.9 1381.5,259.1 1382.4,259.1 1383.3,259.7 1384.2,260.3 1385.1,260.7 1386,260.1 1386.9,260.2 1387.8,258.8 1388.7,260 1389.6,256.2 1390.5,260.8 1391.4,258.4 1392.3,257.4 1393.2,258.6 1394.1,258 1395,260.9 1395.9,260.7 1396.8,258.2 1397.7,261.2 1398.6,256.7 1399.5,259 1400.4,260.4 1401.3,256 1402.2,260.6 1403.1,260.3 1404,260.9 1404.9,260.9 1405.8,256.9 1406.7,260.8 1407.6,258.5 1408.5,257.2 1409.4,259.3 1410.3,256.8 1411.2,257.7 1412.1,262.4 1413,253.9 1413.9,261.1 1414.8,261.3 1415.7,261.1 1416.6,258.6 1417.5,260.7 1418.4,259.9 1419.3,261.2"/>
<polyline stroke="#ff1010" stroke-width="1.5" points="261,255.6 261.6,260.1 262.3,258.9 262.9,259.7 263.6,258.5 264.2,259.1 264.9,260.7 265.5,259.5 266.2,258.7 266.8,259.3 267.5,259.1 268.1,259.5 268.8,257.7 269.4,258.4 270.1,260.9 270.7,258.4 271.4,260.3 272,260.7 272.7,260.3 273.3,261 274,258.2 274.6,260.2 275.3,259.5 275.9,261 276.6,260.7 277.2,260.9 277.9,259.2 278.5,261.2 279.2,258.4 279.8,257.6 280.5,258.3 281.1,258.5 281.8,260.4 282.4,259.5 283.1,259.8 283.7,257.9 284.4,261.7 285,257.1 285.7,260.6 286.3,257.7 287,256.9 287.6,255.5 288.3,257.1 288.9,260.8 289.6,261.6 290.2,259.6 290.9,257.5 291.5,256.9 292.2,256.6 292.8,254.1 293.5,255.3 294.1,255.8 294.8,256.3 295.4,260.1 296.1,257.1 296.7,256.7 297.4,260.9 298,261.7 298.7,261.5 299.3,257.3 300,257 300.6,259.7 301.3,258.8 301.9,257.5 302.6,258.1 303.2,257.3 303.9,257.4 304.5,255.7 305.2,259.4 305.8,261.7 306.5,258 307.1,258.1 307.8,260 308.4,259.2 309.1,259.4 309.7,256.8 310.4,257.5 311,256.5 311.7,259.2 312.3,257.4 313,261.8 313.6,259 314.3,258.6 314.9,259.3 315.6,261.1 316.2,259.5 316.9,257.1 317.5,256.6 318.2,257.1 318.8,261.4 319.5,256.5 320.1,258.9 320.8,257.6 321.4,255.6 322.1,259.9 322.7,257.4 323.4,258.7 324,261.1 324.7,256.6 325.3,261.8 326,262.6 326.6,256 327.3,261.4 327.9,259.4 328.6,259.1 329.2,257.7 329.9,259.2 330.5,261.7 331.2,261.3 331.8,258 332.5,260.8 333.1,260.1 333.8,256.3 334.4,262 335.1,253.3 335.7,263.2 336.4,255.8 337,260.7 337.7,258.9 338.3,256.4 339,262.8 339.6,256.4 340.3,258.3 340.9,259.1 341.6,258.7 342.2,261.4 342.9,256.9 343.5,256.1 344.2,260.5 344.8,259.3 345.5,260.8 346.1,260.7 346.8,262.3 347.4,260.9 348.1,261 348.7,257.7 349.4,258.8 350,262.2 350.7,256.6 351.3,260.6 352,260.2 352.6,256.8 353.3,260.6 353.9,261.5 354.6,257.4 355.2,258.5 355.9,257.4 356.5,257.6 357.2,257.4 357.8,256.3 358.5,255.9 359.1,261 359.8,260.6 360.4,260.2 361.1,258.3 361.7,254.9 362.4,257.9 363,260.7 363.7,260.2 364.3,260.6 365,258.8 365.6,256.7 366.3,261.7 366.9,259.6 367.6,259.1 368.2,258.4 368.9,259.3 369.5,259 370.2,258.4 370.8,260.9 371.5,258.8 372.1,257.2 372.8,258.8 373.4,261.3 374.1,260.1 374.7,257.9 375.4,255.1 376,257.3 376.7,258.7 377.3,257 378,257.6 378.6,258.3 379.3,261.7 379.9,260.2 380.6,257.7 381.2,257.7 381.9,258.7 382.5,258.5 383.2,260.1 383.8,261.1 384.5,261.3 385.1,259.4 385.8,261.6 386.4,260.6 387.1,261.5 387.7,259.7 388.4,260.2 389,256.1 389.7,258.8 390.3,258.2 391,256.8 391.6,258.8 392.3,260.9 392.9,259.2 393.6,258.5 394.2,257.1 394.9,258.2 395.5,260.4 396.2,257.2 396.8,258.6 397.5,256.8 398.1,258.9 398.8,259.7 399.4,260.4 400.1,258.6 400.7,260.3 401.4,260.1 402,259.1 402.7,259.1 403.3,259.7 404,260.3 404.6,259.6 405.3,260.7 405.9,260.3 406.6,259.2 407.2,255.2 407.9,258.4 408.5,259.9 409.2,258.2 409.8,260 410.5,258.5 411.1,257 411.8,257.2 412.4,258.5 413.1,258.1 413.7,255.1 414.4,260.6 415,260.1 415.7,258 416.3,257.6 417,257.6 417.6,258.9 418.3,261 418.9,260.4 419.6,261 420.2,260.9 420.9,258 421.5,258.4 422.2,259 422.8,260.9 423.5,259.7 424.1,258.3 424.8,259.8 425.4,260.5 426.1,256.9 426.7,256.1 427.4,260.2 428,260.7 428.7,256.9 429.3,261.2 430,259.3 430.6,257.3 431.3,256.8 431.9,262 432.6,258.6 433.2,261.1 433.9,258.2 434.5,259.8 435.2,259 435.8,259.2 436.5,257.4 437.1,258.2 437.8,257.9 438.4,259.6 439.1,259.5 439.7,257.9 440.4,260.3 441,259.1 441.7,258.7 442.3,256.8 443,257.9 443.6,259.7 444.3,257.8 444.9,259.2 445.6,260.1 446.2,260.3 446.9,258 447.5,255.8 448.2,258 448.8,256.4 449.5,258.6 450.1,259 450.8,257 451.4,255.8 452.1,257 452.7,261.5 453.4,259.4 454,260.7 454.7,261.9 455.3,257.8 456,261.5 456.6,260.5 457.3,257.7 457.9,258.5 458.6,258.7 459.2,262.3 459.9,259.2 460.5,256 461.2,258.6 461.8,258.4 462.5,258.7 463.1,256.7 463.8,259.5 464.4,260 465.1,261 465.7,258.8 466.4,258.1 467,260.3 467.7,261 468.3,256.3 469,258 469.6,260.6 470.3,262.8 470.9,258.2 471.6,257.9 472.2,258.3 472.9,260.5 473.5,262.5 474.2,262 474.8,260 475.5,263.3 476.1,260.6 476.8,260.2 477.4,258.8 478.1,255.1 478.7,262.9 479.4,258 480,253.7 480.7,262.2 481.3,260.5 482,255.8 482.6,256 483.3,257.4 483.9,256.4 484.6,259.6 485.2,260.8 485.9,259.1 486.5,262.4 487.2,259.5 487.8,259 488.5,261.2 489.1,257.4 489.8,257.3 490.4,256.7 491.1,262.1 491.7,258.5 492.4,259.2 493,255.9 493.7,261.8 494.3,259.1 495,261.2 495.6,259.6 496.3,258.2 496.9,258.7 497.6,259.2 498.2,259.7 498.9,259.2 499.5,260.7 500.2,259.4 500.8,260.7 501.5,260 502.1,260 502.8,261.8 503.4,258.8 504.1,260.8 504.7,258.7 505.4,256.6 506,260.2 506.7,259.4 507.3,261.1 508,261.7 508.6,258.9 509.3,261 509.9,260.4 510.6,257.5 511.2,257.1 511.9,258.6 512.5,258.3 513.2,256.6 513.8,258.8 514.5,259 515.1,256.6 515.8,259.7 516.4,259.3 517.1,262.2 517.7,260.2 518.4,257.8 519,257.5 519.7,261.3 520.3,260.7 521,258.2 521.6,257.3 522.3,261.3 522.9,261.1 523.6,258 524.2,258.1 524.9,259.8 525.5,257.7 526.2,259.3 526.8,255.8 527.5,261.3 528.1,259.9 528.8,255.7 529.4,255 530.1,257 530.7,258.1 531.4,258.7 532,256.4 532.7,258.2 533.3,260.7 534,260.5 534.6,256.9 535.3,259.5 535.9,256.1 536.6,258.5 537.2,258.3 537.9,259.2 538.5,258.9 539.2,256.6 539.8,259.8 540.5,259.8 541.1,258.5 541.8,257.8 542.4,260.1 543.1,260.5 543.7,260.6 544.4,259 545,258.4 545.7,256.1 546.3,260 547,257.9 547.6,260.8 548.3,259.2 548.9,259.8 549.6,258.2 550.2,260.7 550.9,259.7 551.5,259.6 552.2,256.7 552.8,259.7 553.5,258.4 554.1,256.5 554.8,259 555.4,260.8 556.1,261.2 556.7,255.9 557.4,258 558,258.9 558.7,259.8 559.3,259.6 560,257.5 560.6,258.5 561.3,260 561.9,259.6 562.6,258 563.2,258.2 563.9,258.6 564.5,259.7 565.2,258.2 565.8,258.2 566.5,261.7 567.1,260.6 567.8,257.4 568.4,257.8 569.1,260.4 569.7,255.5 570.4,258.8 571,256.9 571.7,256.7 572.3,260.9 573,259 573.6,261 574.3,259.3 574.9,258.4 575.6,259.5 576.2,258.6 576.9,261.3 577.5,256.7 578.2,259.4 578.8,259.4 579.5,260.8 580.1,261.5 580.8,261.4 581.4,259.4 582.1,255.5 582.7,257.9 583.4,260.4 584,258.2 584.7,257.5 585.3,261.1 586,258.6 586.6,260.4 587.3,261.1 587.9,259.7 588.6,258.6 589.2,256.5 589.9,258.9 590.5,257.3 591.2,257.9 591.8,258.4 592.5,260.1 593.1,256.7 593.8,261.9 594.4,260.3 595.1,257 595.7,257.8 596.4,258.3 597,258.2 597.7,257.5 598.3,258.9 599,262.3 599.6,256.4 600.3,262.5 600.9,261.1 601.6,262.3 602.2,260.2 602.9,256.1 603.5,260.9 604.2,261.3 604.8,255.3 605.5,255.9 606.1,262.6 606.8,256.5 607.4,260.7 608.1,256.1 608.7,262.5 609.4,258.9 610,256.8 610.7,260.7 611.3,256.9 612,255.6 612.6,260 613.3,257.7 613.9,261.9 614.6,261.3 615.2,258.7 615.9,255.3 616.5,259.9 617.2,257.9 617.8,262.7 618.5,256.1 619.1,256.5 619.8,260.5 620.4,258.4 621.1,260.2 621.7,258.9 622.4,256.7 623,258.5 623.7,257 624.3,260.1 625,256.1 625.6,260.3 626.3,257.6 626.9,256.5 627.6,259.2 628.2,256.5 628.9,255.9 629.5,261.1 630.2,258.4 630.8,256.4 631.5,259.8 632.1,260.1 632.8,260.8 633.4,257.6 634.1,261.7 634.7,257.1 635.4,259.5 636,258.1 636.7,261.1 637.3,258.3 638,257.1 638.6,256.5 639.3,260.3 639.9,259.2 640.6,259.9 641.2,262.1 641.9,255.7 642.5,258.1 643.2,261 643.8,258.9 644.5,261.5 645.1,258 645.8,261.7 646.4,257.4 647.1,259 647.7,260.4 648.4,261.4 649,259 649.7,260.5 650.3,261.8 651,258.8 651.6,259.8 652.3,259.6 652.9,254.7 653.6,261.9 654.2,261 654.9,259.4 655.5,261.7 656.2,258 656.8,258.7 657.5,260.8 658.1,257.2 658.8,254.3 659.4,259.6 660.1,257.5 660.7,257.2 661.4,259.7 662,257.2 662.7,255.4 663.3,260.3 664,259.5 664.6,261.7 665.3,257.1 665.9,259.5 666.6,259.5 667.2,257.6 667.9,260.3 668.5,258.3 669.2,256.8 669.8,260.5 670.5,259.8 671.1,259 671.8,259.7 672.4,256.1 673.1,261 673.7,257.9 674.4,258.5 675,256.1 675.7,259.4 676.3,260 677,259.2 677.6,258.7 678.3,260.3 678.9,260 679.6,259.3 680.2,256.4 680.9,260.1 681.5,260.6 682.2,259.2 682.8,258.2 683.5,260.7 684.1,258.4 684.8,258.5 685.4,258.1 686.1,258.9 686.7,256.9 687.4,258.7 688,259 688.7,259.6 689.3,258.6 690,259.5 690.6,259.6 691.3,259 691.9,261.3 692.6,257.8 693.2,260.5 693.9,257.7 694.5,259.2 695.2,258.4 695.8,259.3 696.5,259.5 697.1,258.7 697.8,257.2 698.4,255.9 699.1,261.6 699.7,260.7 700.4,258.2 701,259.7 701.7,255.7 702.3,256.5 703,260.8 703.6,260.6 704.3,261.3 704.9,255.9 705.6,257.6 706.2,258.3 706.9,261.6 707.5,259 708.2,257.4 708.8,257.8 709.5,260.8 710.1,260.3 710.8,261.2 711.4,258.2 712.1,257.3 712.7,261 713.4,258.1 714,255.8 714.7,259.7 715.3,258.1 716,258.8 716.6,255.5 717.3,257.7 717.9,259.5 718.6,260.4 719.2,258.4 719.9,259.3 720.5,259.9 721.2,258.8 721.8,258 722.5,256.9 723.1,259.8 723.8,257.7 724.4,259.9 725.1,257.8 725.7,260.2 726.4,259.5 727,261.3 727.7,259.1 728.3,260.7 729,260.6 729.6,258.1 730.3,257.2 730.9,260.5 731.6,259.3 732.2,256.3 732.9,258.6 733.5,259.9 734.2,261.3 734.8,259.8 735.5,260.4 736.1,259.2 736.8,256.6 737.4,255.4 738.1,259.1 738.7,256 739.4,256.9 740,257.5 740.7,258.9 741.3,261.5 742,255.8 742.6,258.5 743.3,257.4 743.9,257.9 744.6,261.2 745.2,259.7 745.9,256 746.5,255.7 747.2,257.5 747.8,258 748.5,255.7 749.1,260.3 749.8,262.8 750.4,262.4 751.1,259.6 751.7,258.9 752.4,259.3 753,261.3 753.7,256.4 754.3,260.8 755,260.6 755.6,261.1 756.3,261.8 756.9,260.1 757.6,261.1 758.2,259.1 758.9,258.9 759.5,262.2 760.2,257.1 760.8,257.4 761.5,258.9 762.1,260.3 762.8,259.9 763.4,257.2 764.1,257.8 764.7,257.6 765.4,256.4 766,256.7 766.7,260.9 767.3,256.3 768,257.9 768.6,260.1 769.3,259 769.9,258.9 770.6,257.1 771.2,257.9 771.9,259.3 772.5,259.7 773.2,260.1 773.8,257.9 774.5,262.1 775.1,258.2 775.8,261.1 776.4,259 777.1,258.3 777.7,258.2 778.4,261.4 779,254.3 779.7,258.8 780.3,258.4 781,258.5 781.6,258.4 782.3,256.7 782.9,256.6 783.6,260 784.2,257.9 784.9,256.9 785.5,256.5 786.2,260 786.8,257.7 787.5,260.7 788.1,257.3 788.8,256.3 789.4,258.1 790.1,255.9 790.7,259.7 791.4,260.4 792,261.2 792.7,257 793.3,258.4 794,256.3 794.6,259.2 795.3,258.8 795.9,256.9 796.6,261.4 797.2,260.8 797.9,258 798.5,261.1 799.2,261.4 799.8,257.5 800.5,261.9 801.1,258 801.8,261.4 802.4,260.1 803.1,256.9 803.7,259.1 804.4,256.9 805,259.6 805.7,261.6 806.3,260.6 807,259.5 807.6,258.2 808.3,257.9 808.9,258.5 809.6,259.3 810.2,257.3 810.9,259.8 811.5,259.6 812.2,259 812.8,260.2 813.5,258.9 814.1,258.7 814.8,259.1 815.4,259.4 816.1,260.3 816.7,260 817.4,260.8 818,259.2 818.7,258.8 819.3,257.2 820,259.6 820.6,258.7 821.3,259.4 821.9,259.1 822.6,256.2 823.2,260 823.9,259.1 824.5,257.9 825.2,261.1 825.8,257.7 826.5,259.7 827.1,260.5 827.8,261.2 828.4,260.9 829.1,261 829.7,260.3 830.4,261.2 831,261.4 831.7,256.8 832.3,259.6 833,259.2 833.6,257.4 834.3,257.9 834.9,258 835.6,259.2 836.2,259.9 836.9,258 837.5,259.9 838.2,257.8 838.8,261.1 839.5,260.7 840.1,259.7 840.8,259.7 841.4,258.3 842.1,258.6 842.7,261.3 843.4,261.2 844,260.3 844.7,258.1 845.3,259.8 846,259.4 846.6,260.9 847.3,258.1 847.9,257.2 848.6,261 849.2,258.5 849.9,259.5 850.5,260 851.2,258.2 851.8,259.2 852.5,258.2 853.1,260.1 853.8,260.6 854.4,259.6 855.1,256.8 855.7,260.8 856.4,259.1 857,259 857.7,258.9 858.3,257.2 859,259.1 859.6,260.9 860.3,258 860.9,260.3 861.6,261 862.2,259 862.9,261.1 863.5,258 864.2,255.8 864.8,260.8 865.5,258.7 866.1,258.1 866.8,261.1 867.4,258.1 868.1,260.4 868.7,258.4 869.4,260.8 870,260.3 870.7,258.8 871.3,261.7 872,261 872.6,260.8 873.3,257.9 873.9,260.6 874.6,258.7 875.2,258.1 875.9,260.2 876.5,256.7 877.2,256.2 877.8,260.4 878.5,254.7 879.1,257.8 879.8,256.7 880.4,259.5 881.1,259 881.7,256.4 882.4,257.6 883,262.8 883.7,257.2 884.3,258.7 885,254.9 885.6,256.2 886.3,256.6 886.9,253.7 887.6,259.3 888.2,256.9 888.9,256.3 889.5,255.9 890.2,261.8 890.8,255.7 891.5,259.6 892.1,258 892.8,255.9 893.4,258.8 894.1,261.7 894.7,260 895.4,259.6 896,261.6 896.7,258.5 897.3,257.1 898,260 898.6,254.7 899.3,257.8 899.9,257.4 900.6,261.2 901.2,262.4 901.9,256.2 902.5,260.2 903.2,258.1 903.8,260.5 904.5,257.9 905.1,259.2 905.8,260 906.4,261.5 907.1,260.6 907.7,258.9 908.4,258 909,261.7 909.7,255.8 910.3,261.9 911,257.4 911.6,261.4 912.3,259.2 912.9,259.6 913.6,261.9 914.2,262.2 914.9,259.1 915.5,257.8 916.2,262 916.8,261.7 917.5,260.3 918.1,257.8 918.8,261.4 919.4,260 920.1,253.5 920.7,256.4 921.4,257.9 922,257.9 922.7,260.5 923.3,258.5 924,260.3 924.6,257.4 925.3,259.7 925.9,258 926.6,256.2 927.2,259.8 927.9,260.3 928.5,259.3 929.2,258.7 929.8,259.2 930.5,257.7 931.1,257.3 931.8,262 932.4,260.7 933.1,260.4 933.7,261.3 934.4,259.6 935,258.5 935.7,260.6 936.3,261.3 937,257.5 937.6,261.8 938.3,256.5 938.9,257.4 939.6,261.8 940.2,260.1 940.9,257.2 941.5,255.6 942.2,260.9 942.8,259.6 943.5,257.4 944.1,256.9 944.8,259.8 945.4,258.1 946.1,258.7 946.7,257.4 947.4,260.9 948,260.7 948.7,259.6 949.3,258.1 950,260.6 950.6,261 951.3,260.1 951.9,258.4 952.6,259.5 953.2,259.2 953.9,255.1 954.5,260.4 955.2,257.8 955.8,258.2 956.5,258.3 957.1,258.4 957.8,260.3 958.4,258.5 959.1,258.5 959.7,259.3 960.4,258.8 961,260.9 961.7,260.6 962.3,260.4 963,257.9 963.6,258 964.3,257.2 964.9,260.4 965.6,258.8 966.2,259.3 966.9,259 967.5,260.1 968.2,259.7 968.8,258.8 969.5,258.7 970.1,261.2 970.8,259.6 971.4,258.7 972.1,260.8 972.7,258.1 973.4,258.5 974,257.7 974.7,258.6 975.3,257.3 976,257.5 976.6,258.4 977.3,258.4 977.9,260.4 978.6,258.9 979.2,259.5 979.9,260.7 980.5,258.6 981.2,260.5 981.8,256.3 982.5,257.7 983.1,259.9 983.8,259.1 984.4,257.4 985.1,259.8 985.7,257.2 986.4,258.7 987,261.1 987.7,259.6 988.3,257 989,257.1 989.6,257.7 990.3,259.5 990.9,258 991.6,258.4 992.2,257.8 992.9,260.4 993.5,258.9 994.2,259.1 994.8,260.7 995.5,257.5 996.1,258 996.8,259 997.4,258.2 998.1,260.7 998.7,259.4 999.4,257 1000,259 1000.7,258.7 1001.3,260.4 1002,257.8 1002.6,257.3 1003.3,261 1003.9,257.5 1004.6,260.4 1005.2,258.6 1005.9,258 1006.5,260.7 1007.2,259.7 1007.8,259.1 1008.5,260.3 1009.1,261.5 1009.8,257.2 1010.4,259.7 1011.1,259.7 1011.7,257.1 1012.4,257.3 1013,261.6 1013.7,255.5 1014.3,261.5 1015,258 1015.6,260.7 1016.3,260.1 1016.9,261.5 1017.6,261.3 1018.2,261.6 1018.9,254.5 1019.5,259.7 1020.2,261.2 1020.8,255.5 1021.5,260.6 1022.1,258.9 1022.8,260.6 1023.4,256.3 1024.1,262.1 1024.7,254.5 1025.4,259.4 1026,259.1 1026.7,260 1027.3,258.2 1028,260.8 1028.6,258.1 1029.3,262.3 1029.9,256.7 1030.6,257.8 1031.2,258.7 1031.9,258 1032.5,256.8 1033.2,257 1033.8,259.6 1034.5,261.4 1035.1,261.2 1035.8,261.3 1036.4,261.4 1037.1,260.4 1037.7,256.5 1038.4,259.3 1039,257.8 1039.7,259.7 1040.3,256.6 1041,257.5 1041.6,257.1 1042.3,260.9 1042.9,260.7 1043.6,260.1 1044.2,261.3 1044.9,262 1045.5,257 1046.2,259.7 1046.8,259.2 1047.5,261.3 1048.1,259.4 1048.8,256.7 1049.4,254.9 1050.1,255.1 1050.7,261.3 1051.4,259.5 1052,261.3 1052.7,261.1 1053.3,257.1 1054,257.6 1054.6,260.5 1055.3,257.2 1055.9,256.6 1056.6,258 1057.2,256.2 1057.9,257.9 1058.5,256.4 1059.2,256.1 1059.8,260.3 1060.5,258.3 1061.1,255.9 1061.8,255.1 1062.4,258 1063.1,257.8 1063.7,262.8 1064.4,255.9 1065,259.3 1065.7,258.6 1066.3,257.8 1067,257.8 1067.6,261.1 1068.3,253.7 1068.9,256.9 1069.6,260.8 1070.2,259.5 1070.9,260.3 1071.5,257.6 1072.2,258.5 1072.8,259.1 1073.5,259.3 1074.1,258.5 1074.8,258.2 1075.4,253.6 1076.1,259.4 1076.7,262.1 1077.4,262.3 1078,257.5 1078.7,256.4 1079.3,261.8 1080,261.7 1080.6,260.1 1081.3,254.7 1081.9,257.2 1082.6,258.1 1083.2,260.1 1083.9,260.2 1084.5,257 1085.2,260.4 1085.8,257.8 1086.5,256.2 1087.1,259.3 1087.8,258.3 1088.4,255.4 1089.1,258.6 1089.7,260.9 1090.4,260 1091,260.4 1091.7,259.9 1092.3,258.8 1093,259.3 1093.6,257.8 1094.3,260.6 1094.9,257.4 1095.6,261.2 1096.2,259.4 1096.9,260 1097.5,258.8 1098.2,261 1098.8,261.1 1099.5,259.2 1100.1,257.8 1100.8,260.3 1101.4,257.9 1102.1,260 1102.7,256.8 1103.4,258.3 1104,258.7 1104.7,259.2 1105.3,259.2 1106,257.5 1106.6,261.3 1107.3,261.6 1107.9,260.3 1108.6,260.4 1109.2,259.5 1109.9,256.2 1110.5,257.5 1111.2,260.5 1111.8,259.8 1112.5,258.6 1113.1,260.9 1113.8,261.2 1114.4,259.2 1115.1,258.3 1115.7,257.4 1116.4,257.8 1117,258.7 1117.7,260 1118.3,258.1 1119,259.4 1119.6,258.9 1120.3,261.5 1120.9,260.3 1121.6,260.3 1122.2,260.7 1122.9,260.3 1123.5,257.6 1124.2,257.8 1124.8,260.6 1125.5,258.5 1126.1,257.6 1126.8,261.1 1127.4,257.2 1128.1,256.5 1128.7,260 1129.4,258 1130,259.6 1130.7,258.9 1131.3,258.2 1132,259.3 1132.6,259.4 1133.3,259.5 1133.9,258.4 1134.6,260.1 1135.2,256.4 1135.9,259.7 1136.5,260.3 1137.2,258.7 1137.8,258.6 1138.5,260.7 1139.1,256.8 1139.8,260.5 1140.4,259.1 1141.1,259.4 1141.7,258.5 1142.4,259.4 1143,260.1 1143.7,259.6 1144.3,257.8 1145,260.6 1145.6,259.3 1146.3,258.7 1146.9,256.9 1147.6,259.3 1148.2,260.4 1148.9,260.9 1149.5,257.9 1150.2,259.3 1150.8,258.3 1151.5,261.6 1152.1,257.5 1152.8,260.7 1153.4,254 1154.1,257.9 1154.7,260.9 1155.4,257.3 1156,257.2 1156.7,259.1 1157.3,258.9 1158,261.4 1158.6,260.5 1159.3,260 1159.9,260.9 1160.6,258.6 1161.2,260 1161.9,259.3 1162.5,257.8 1163.2,258.8 1163.8,256.6 1164.5,259.8 1165.1,256.7 1165.8,257 1166.4,256.5 1167.1,259.1 1167.7,262.1 1168.4,259 1169,256.7 1169.7,256.5 1170.3,256.7 1171,260.6 1171.6,258.3 1172.3,257.4 1172.9,256 1173.6,257.1 1174.2,258.2 1174.9,259.7 1175.5,260.7 1176.2,257.8 1176.8,260.6 1177.5,256.4 1178.1,257.7 1178.8,258.5 1179.4,254.7 1180.1,257.1 1180.7,258.8 1181.4,255 1182,260.3 1182.7,256.4 1183.3,259.5 1184,260.3 1184.6,260.1 1185.3,259.3 1185.9,254.9 1186.6,256.7 1187.2,261.8 1187.9,257.6 1188.5,256.8 1189.2,259.6 1189.8,257.2 1190.5,257.8 1191.1,261.1 1191.8,260.8 1192.4,258.9 1193.1,258.2 1193.7,257.7 1194.4,259.3 1195,257 1195.7,256.7 1196.3,262.8 1197,260.7 1197.6,261.8 1198.3,262.2 1198.9,258.6 1199.6,261.4 1200.2,260.8 1200.9,261.7 1201.5,259.2 1202.2,262.9 1202.8,261.9 1203.5,255.6 1204.1,254.3 1204.8,258.6 1205.4,259.4 1206.1,256.1 1206.7,257.2 1207.4,261.7 1208,258.2 1208.7,258.2 1209.3,256.4 1210,258.4 1210.6,256 1211.3,261.2 1211.9,256.8 1212.6,259.6 1213.2,256.3 1213.9,262.5 1214.5,258.6 1215.2,257.9 1215.9,256.6 1216.5,262.1 1217.2,257.9 1217.8,261.9 1218.5,259.1 1219.1,258.1 1219.8,261.7 1220.4,261.3 1221.1,260.5 1221.7,257.2 1222.4,256.6 1223,260.3 1223.7,261.6 1224.3,256.9 1225,261 1225.6,258.6 1226.3,258.8 1226.9,261.5 1227.6,259.4 1228.2,255.9 1228.9,255.7 1229.5,254.8 1230.2,260.8 1230.8,261.4 1231.5,260.4 1232.1,260.4 1232.8,258.7 1233.4,260.7 1234.1,260.9 1234.7,260.3 1235.4,258.4 1236,257.7 1236.7,258.2 1237.3,257.4 1238,261.6 1238.6,256.5 1239.3,260.3 1239.9,258.9 1240.6,258.5 1241.2,258.6 1241.9,257.7 1242.5,259.3 1243.2,259.1 1243.8,259.1 1244.5,260.8 1245.1,256.9 1245.8,256.6 1246.4,256.5 1247.1,258.4 1247.7,255.7 1248.4,257 1249,260.9 1249.7,260.4 1250.3,258.2 1251,259.4 1251.6,257.3 1252.3,259.6 1252.9,259.5 1253.6,257.4 1254.2,259.5 1254.9,260.7 1255.5,261.2 1256.2,256 1256.8,261.3 1257.5,258.6 1258.1,261.5 1258.8,257.5 1259.4,257.4 1260.1,259.7 1260.7,257.1 1261.4,258.8 1262,260.9 1262.7,261.3 1263.3,260.3 1264,258.4 1264.6,259.3 1265.3,261.1 1265.9,260.1 1266.6,257.8 1267.2,256.5 1267.9,257.9 1268.5,260.9 1269.2,258 1269.8,258.3 1270.5,257.3 1271.1,259.4 1271.8,258.6 1272.4,260.4 1273.1,260.3 1273.7,258.7 1274.4,257 1275,257.9 1275.7,259.1 1276.3,260.1 1277,258.8 1277.6,258.7 1278.3,259.6 1278.9,257.5 1279.6,259 1280.2,259.9 1280.9,258.3 1281.5,260.5 1282.2,260.4 1282.8,261 1283.5,260 1284.1,259.5 1284.8,257.9 1285.4,257.8 1286.1,258 1286.7,260.1 1287.4,260.4 1288,258.1 1288.7,261.4 1289.3,260.9 1290,258.5 1290.6,257.3 1291.3,260.7 1291.9,257.2 1292.6,258.5 1293.2,257.1 1293.9,258.5 1294.5,260.7 1295.2,258.8 1295.8,260.1 1296.5,260.4 1297.1,260.6 1297.8,259 1298.4,257.6 1299.1,256.4 1299.7,260.4 1300.4,258.4 1301,257.2 1301.7,261.3 1302.3,259.9 1303,256.4 1303.6,256.4 1304.3,256.9 1304.9,256.9 1305.6,258.8 1306.2,260.1 1306.9,256.6 1307.5,261.3 1308.2,258 1308.8,258.6 1309.5,257.1 1310.1,259 1310.8,258.9 1311.4,259.8 1312.1,259.3 1312.7,258.4 1313.4,257.7 1314,260.2 1314.7,257.6 1315.3,257.9 1316,259 1316.6,260 1317.3,257 1317.9,261.8 1318.6,260.1 1319.2,257.8 1319.9,261.6 1320.5,259.2 1321.2,257.2 1321.8,259.1 1322.5,256.2 1323.1,258.8 1323.8,257 1324.4,258.9 1325.1,257.7 1325.7,261.4 1326.4,258.7 1327,257.5 1327.7,261.1 1328.3,260.7 1329,260 1329.6,262 1330.3,261.7 1330.9,259.9 1331.6,261.7 1332.2,259 1332.9,260.6 1333.5,258 1334.2,256.1 1334.8,255.7 1335.5,256.5 1336.1,262 1336.8,257.2 1337.4,262.9 1338.1,262.8 1338.7,255.2 1339.4,260.3 1340,261.2 1340.7,258.2 1341.3,255.8 1342,258.2 1342.6,258.4 1343.3,257 1343.9,256.7 1344.6,258.3 1345.2,263.1 1345.9,257.5 1346.5,262.6 1347.2,256.4 1347.8,262.8 1348.5,257.1 1349.1,260.3 1349.8,258.1 1350.4,258.9 1351.1,256.8 1351.7,262.5 1352.4,256.7 1353,260.2 1353.7,257.2 1354.3,256.5 1355,260.7 1355.6,257.1 1356.3,260 1356.9,257.7 1357.6,258.6 1358.2,257.8 1358.9,257.2 1359.5,257.3 1360.2,261.7 1360.8,259.5 1361.5,260.6 1362.1,256.7 1362.8,257.3 1363.4,259.4 1364.1,257 1364.7,260.2 1365.4,258.4 1366,257.9 1366.7,257.8 1367.3,258.4 1368,258.1 1368.6,257.3 1369.3,261.5 1369.9,257 1370.6,259 1371.2,256.2 1371.9,258 1372.5,260.9 1373.2,258.9 1373.8,260.4 1374.5,261.2 1375.1,260.5 1375.8,257.8 1376.4,260.7 1377.1,259.9 1377.7,259 1378.4,261.6 1379,259 1379.7,257 1380.3,260.2 1381,258.3 1381.6,258.8 1382.3,256 1382.9,256.9 1383.6,259.5 1384.2,261.6 1384.9,258 1385.5,259.8 1386.2,257.1 1386.8,258.5 1387.5,260.7 1388.1,257.2 1388.8,259.4 1389.4,258.1 1390.1,260 1390.7,257.9 1391.4,256.9 1392,257.8 1392.7,258.1 1393.3,261 1394,259.9 1394.6,258.9 1395.3,261.1 1395.9,257.9 1396.6,257.3 1397.2,260.4 1397.9,260.2 1398.5,258.6 1399.2,260.3 1399.8,259.5 1400.5,258.8 1401.1,258 1401.8,260.3 1402.4,257.8 1403.1,258.8 1403.7,257.2 1404.4,257.2 1405,258.7 1405.7,256.7 1406.3,260.2 1407,260 1407.6,259.4 1408.3,259.1 1408.9,258 1409.6,259.4 1410.2,257.3 1410.9,258.1 1411.5,260.4 1412.2,259.1 1412.8,258.6 1413.5,258.2 1414.1,258.2 1414.8,259.2 1415.4,258.9 1416.1,259 1416.7,258.4 1417.4,258.2 1418,258.6 1418.7,258.5 1419.3,257.4 1420,260.6"/>
<polyline stroke="#f29222" stroke-width="1.3" points="261,262.9 261.6,261.8 262.2,262.4 262.8,258 263.4,261.5 264,259.8 264.6,262.7 265.2,263.6 265.8,258.6 266.4,263.6 267,260.7 267.6,259.9 268.2,261.5 268.8,260.7 269.4,260.7 270,258.9 271,262 271.3,229.7 271.7,229.7 271.7,224 272.3,224 272.3,229.7 272.9,229.7 273.2,262 274.2,261 274.8,263.5 275.4,261.8 276,259.7 276.6,263.1 277.2,260.3 277.8,262.7 278.4,261.2 279,261.8 279.6,261.9 280.2,261.6 280.8,262.8 281.4,262.3 282,260.1 282.6,264.2 283.2,262 283.8,260.4 284.4,264.2 285,261.6 285.6,262.1 286.2,259.1 286.8,263.6 287.4,263.1 288,261.9 288.6,259.2 289.2,262.2 289.8,261.8 290.4,261 291,262 291.6,262.5 292.2,259 292.8,259.9 293.4,263.9 294,263.5 294.6,260.4 295.2,262.8 295.8,258.9 296.4,258.8 297,260.5 297.6,262 298.2,260.5 298.8,261.5 299.4,260.7 300,261.3 300.6,259.6 301.2,261.9 301.8,262.4 302.4,258.7 303,263 303.6,262.9 304.2,262 304.8,264.4 305.4,261.9 306,262.6 306.6,262.2 307.2,261.7 307.8,264.2 308.4,260.8 309,260.8 309.6,263 310.2,258.3 310.8,259.5 311.4,264.1 312,260.2 312.6,264.1 313.2,261.8 313.8,261.1 314.4,262.6 315,258.7 315.6,260.8 316.2,261 316.8,263.2 317.4,261 318,263.1 318.6,260.4 319.2,263.4 319.8,261.1 320.4,262.7 321,264.1 321.6,262.5 322.2,263.8 322.8,263.1 323.4,263.5 324,261 324.6,263.6 325.2,264 325.8,260 326.4,259.6 327,263.6 327.6,263.5 328.2,262.4 328.8,261.2 329.4,259.7 330,263.8 330.6,264 331.2,260.6 331.8,261.8 332.4,257.4 333,259.4 333.6,264.4 334.2,259.8 334.8,260.4 335.4,259.7 336,261.2 336.6,264 337.2,260.5 337.8,259.7 338.4,256.9 339,260.7 339.6,261.5 340.2,259.5 340.8,264.2 341.4,259.8 342,262.4 342.6,262 343.2,262.6 343.8,262 344.4,259.8 345,264.2 345.6,262.5 346.2,263.9 346.8,260.9 347.4,260.9 348,263.6 348.6,261 349.2,262.2 349.8,260.1 350.4,259.9 351,258.4 351.6,260.9 352.2,261.8 352.8,260.4 353.4,260.6 354,260.5 354.6,263.7 355.2,259.8 355.8,263.4 356.4,261 357,260.1 357.6,263.3 358.2,263.3 358.8,262.7 359.4,260.7 360,260.6 360.6,262.4 361.2,260.3 361.8,262.9 362.4,261.9 363,261.6 363.6,261.3 364.2,260.2 364.8,261.5 365.4,260.3 366,259.9 366.6,262.9 367.2,261.5 367.8,259.6 368.4,261.8 369,261.6 369.6,262.6 370.2,261.8 370.8,260.8 371.4,262 371.7,228 372.1,228 372.1,222 372.7,222 372.7,228 373.3,228 373.6,262 374.4,263.3 375,262.5 375.6,261.3 376.2,262.7 376.8,263.2 377.4,263.7 378,260.5 378.6,260.6 379.2,261.2 379.8,262.7 380.4,261.9 381,260.3 381.6,263.1 382.2,260.8 382.8,261.8 383.4,263.3 384,262.7 384.6,263.6 385.2,261.3 385.8,261.5 386.4,258.8 387,262.3 387.6,260.7 388.2,260.7 388.8,259.6 389.4,260 390,262.3 390.6,260.5 391.2,262 391.8,262.2 392.4,262.6 393,263.1 393.6,262 394.2,263.3 394.8,262.1 395.4,258.9 396,260.2 396.6,262 397.2,262.8 397.8,260.3 398.4,262.1 399,261.8 399.6,260.8 400.2,261.6 400.8,261.4 401.4,262.5 402,262.4 402.6,260 403.2,262.2 403.8,263 404.4,263.6 405,263.1 405.6,262.7 406.2,261.1 406.8,262.3 407.4,260.3 408,261.5 408.6,263.2 409.2,262.7 409.8,262.8 410.4,262.8 411,262.4 411.6,261.4 412.2,262.3 412.8,263 413.4,262.9 414,262.2 414.6,260.8 415.2,263.4 415.8,260.3 416.4,261.7 417,259.8 417.6,262.9 418.2,261.1 418.8,259.5 419.4,263.9 420,261.3 420.6,262.3 421.2,260.4 421.8,258.6 422.4,261.9 423,261.9 423.6,260.1 424.2,262.9 424.8,260.6 425.4,260.4 426,260 426.6,263.8 427.2,260.3 427.8,262.9 428.4,259.2 429,262.5 429.6,261.4 430.2,263.4 430.8,262.5 431.4,264.5 432,264.2 432.6,262.4 433.2,261.6 433.8,263 434.4,263.2 435,263.1 435.6,259.7 436.2,261.3 436.8,259.3 437.4,264 438,259.2 438.6,263.6 439.2,262.4 439.8,261.9 440.4,259.6 441,261.8 441.6,260 442.2,263.5 442.8,262.2 443.4,262.9 444,262.3 444.6,262.4 445.2,263.7 445.8,261.2 446.4,264 447,263.7 447.6,260 448.2,257.7 448.8,259.6 449.4,260 450,263.5 450.6,257.4 451.2,259.5 451.8,259.9 452.4,262.5 453,262.7 453.6,262.6 454.2,262.4 454.8,262.5 455.4,259.7 456,262.2 456.6,262.3 457.2,261 457.8,261.4 458.4,263.7 459,262.6 459.6,263 460.2,263.1 460.8,264.2 461.4,263.9 462,263.4 462.6,263.4 463.2,261.1 463.8,259.4 464.4,260.5 465,262.9 465.6,259.3 466.2,259.6 466.8,258.6 467.4,263 468,259.8 468.6,263.5 469.2,260.7 469.8,260.4 470.4,260.9 471,263.4 471.6,260.6 472.2,261.5 472.8,263 473.4,262.9 474,264 474.6,260.6 475.2,261.1 475.8,259.6 476.4,260.2 477,262.6 477.6,260.7 478.2,260.9 478.8,261.8 479.4,259.9 480,260.9 480.6,259.5 481.2,261.7 481.8,264 482.4,263.4 483,264 483.6,260 484.2,262.2 484.8,263.2 485.4,263 486,263.9 486.6,261.3 487.2,264 487.8,258.5 488.4,262.1 489,260.4 489.6,262.6 490.2,262 490.8,260.1 491.4,262.4 492,257.9 492.6,262.4 493.2,262.3 493.8,263.2 494.4,261 495,262.2 495.6,263.3 496.2,262.5 496.8,263.5 497.4,262.6 498,263.6 498.6,260.7 499.2,262.8 499.8,261.8 500.4,263.2 501,260 501.6,261.7 502.2,261.1 502.8,259.3 503.4,263.2 504,263.5 504.6,262.1 505.2,261.9 505.8,262.9 506.4,261.5 507,261.1 507.6,261.8 508.2,262 508.8,260.5 509.4,263.7 510,262 510.6,261.4 511.2,263.3 511.8,263.3 512.4,263.2 513,261.7 513.6,261.3 514.2,261.7 514.8,260.7 515.4,261 516,260.8 516.6,262.2 517.2,263.9 517.8,261.9 518.4,262.6 519,263 519.6,262.7 520.2,263.8 520.8,257.6 521.4,260 522,261.7 522.6,261.4 523.2,261.7 523.8,263.9 524.4,261.9 525,263.7 525.6,260.1 526.5,262 526.8,218.1 527.9,218.1 527.9,213.2 528.9,213.2 528.9,233.7 530.3,233.7 530.6,262 531.6,260.2 532.2,263.4 532.8,261.9 533.4,263.3 534,261 534.6,263.3 535.2,260.7 535.8,261.2 536.4,259.9 537,262.4 537.6,263.5 538.2,261.9 538.8,262.8 539.4,260.8 540,262.5 540.6,260.5 541.2,262 541.8,263.4 542.4,261.2 543,261 543.6,261 544.2,261.3 544.8,261.2 545.4,260.7 546,262.5 546.6,260.2 547.2,262.5 547.8,263 548.4,261.1 549,260.8 549.6,259.5 550.2,262.6 550.8,262.5 551.4,260.6 552,263.3 552.6,259 553.2,261.7 553.8,262.6 554.4,261.1 555,261.1 555.6,260.2 556.2,263 556.8,257.9 557.4,260 558,260.7 558.6,260.1 559.2,263.9 559.8,260.6 560.4,260.7 561,260.9 561.6,261.1 562.2,262.5 562.8,262.3 563.4,261.3 564,262.4 564.6,262.1 565.2,261.2 565.8,262.5 566.4,259.4 567,260 567.6,261.4 568.2,260.4 568.8,262 569.4,260.3 570,262.7 570.7,262 571,224.2 572.1,224.2 572.1,214.7 573.1,214.7 573.1,231.3 574.5,231.3 574.8,262 575.4,263.7 576,260 576.6,260.5 577.2,263.4 577.8,259.1 578.4,264.1 579,261.2 579.6,263.8 580.2,263.3 580.8,261.4 581.4,261.3 582,259.5 582.6,259.4 583.2,259 583.8,260 584.4,261.1 585,264.2 585.6,262.6 586.2,263.4 586.8,263.3 587.4,262.1 588,260.1 588.6,263.8 589.2,263.7 589.8,262.6 590.4,262 591,261.2 591.6,263.3 592.2,262.8 592.8,260.2 593.4,263.7 594,262.5 594.6,261 595.2,261.9 595.8,261.2 596.4,260.2 597,259.8 597.6,264.2 598.2,263.2 598.8,261.7 599.4,263.2 600,260.2 600.6,262 601.2,264 601.8,260 602.4,259.5 603,260.1 603.6,262.7 604.2,260.7 604.8,264.4 605.4,263.3 606,262.5 606.6,264.1 607.2,259.2 607.8,264.5 608.4,262.7 609,260.3 609.6,264.3 610.2,260 610.9,262 611.2,227 612.3,227 612.3,218.2 613.2,218.2 613.2,233.5 614.7,233.5 615,262 615.6,264.5 616.2,259.1 616.8,260.7 617.4,261.3 618,264.5 618.6,260.8 619.2,261.5 619.8,261.4 620.4,261.2 621,260.2 621.6,261.1 622.2,262.1 622.8,263.2 623.4,263 624,260 624.6,261.1 625.2,261.3 625.8,260.6 626.4,263.2 627,260.4 627.6,263.5 628.2,262 628.8,260.4 629.4,259.9 630,259.9 630.6,261.3 631.2,260.8 631.8,260 632.4,261.3 633,262.5 633.6,261.2 634.2,260.7 634.8,261.2 635.4,260.2 636,260.7 636.6,261 637.2,262.2 637.8,262.8 638.4,260.1 639,261.1 639.6,263.5 640.2,260.3 640.8,262.3 641.4,260.7 642,260.4 642.6,262.6 643.2,261.4 643.8,260.4 644.4,260.6 645,260.7 645.6,261.3 646.2,262.2 646.8,262.3 647.4,263.5 648,263.2 648.6,262.9 649.2,258.8 649.8,260.3 650.4,261.1 651,263.1 651.6,263.6 652.2,260.1 652.8,259.9 653.4,261.6 654,262.2 654.6,261.8 655.2,260.5 655.8,263.4 656.4,260.7 657,261.6 657.6,258.1 658.2,259.6 658.8,263.9 659.4,261.3 660,263.1 660.6,262.4 661.2,263.6 661.8,263.7 662.4,263.6 663,261.5 663.6,259.5 664.2,263.3 664.8,263.3 665.4,263 666,263.9 666.6,260.7 667.2,259.8 667.8,261.1 668.4,262 669,262.1 669.6,262.3 670.2,261.6 670.8,262.6 671.4,261.1 672,263 672.6,261.1 673.2,263 673.8,263.1 674.4,258.5 675,263 675.6,263.5 676.2,262.1 676.8,260.3 677.4,263.3 678,260.4 678.6,262.6 679.2,260.8 679.8,261.7 680.4,261.1 681,263.4 681.6,260.4 682.2,263.2 682.8,260.5 683.4,261.3 684,260.2 684.6,262.7 685.2,260.2 685.8,262.4 686.4,261.5 687,260.4 687.6,261.4 688.2,258.3 688.8,261.2 689.4,262.6 690,261 690.6,260 691.2,260.1 691.8,260.2 692.4,259.9 693,260.6 693.6,261.8 694.2,261.3 694.8,260.5 695.4,262.6 696,263.7 696.6,261.6 697.2,260 697.8,262.6 698.4,261.5 699,260 699.6,262.8 700.2,264 700.8,262.1 701.4,261.8 702,262.7 702.6,263.6 703.2,261.7 703.8,262.7 704.4,262.1 705,262.4 705.6,260.8 706.2,259.4 706.8,263.9 707.4,261.5 708,264.1 708.6,262.5 709.2,261.5 709.8,261 710.4,259.2 711,263.1 711.6,259.2 712.2,262.3 712.8,263.8 713.4,257.1 714,260.8 714.6,264.2 715.2,260.4 715.8,262.8 716.4,263.2 717,262.2 717.6,260.7 718.2,261.9 718.8,263.2 719.4,264 720,262.4 720.6,260.5 721.2,260.4 721.8,264.2 722.4,261.9 723,260.9 723.6,261.7 724.2,262.1 724.8,261.9 725.4,262.3 726,260.8 726.6,259.9 727.2,259.8 727.8,261.8 728.4,263 729,264.1 729.6,261.2 730.2,259.9 730.8,259.5 731.4,264.1 732,259.7 732.6,263.5 733.2,262 733.8,258.9 734.4,260.3 735,262.1 735.6,260.5 736.2,263.8 736.8,262.1 737.4,260.9 738,259.3 738.6,262.5 739.2,260.3 739.8,262 740.4,261.8 741,259.2 741.6,260.9 742.2,261.5 742.8,262.2 743.4,260.8 744,263.6 744.6,260.6 745.2,261.4 745.8,259.1 746.4,260 747,261.5 747.6,262.7 748.2,263.9 748.8,261.4 749.4,263.7 750,264.2 750.6,257.5 751.2,264.1 751.8,264.3 752.4,263.3 753,261.5 753.6,261.2 754.2,258.6 754.8,262.2 755.4,261.9 756,262.3 756.6,262.4 757.2,262.6 757.8,263.8 758.4,261.4 759,263.9 759.6,263.7 760.2,259.5 760.8,262 761.4,263 762,261.1 762.6,261.8 763.2,263.6 763.8,262.4 764.4,258.6 765,259.5 765.6,262.3 766.2,260.4 766.8,263.4 767.4,261.4 768,259.7 768.6,262.4 769.2,260.2 769.8,262.9 770.5,262 770.8,211.2 771.9,211.2 771.9,207.4 772.9,207.4 772.9,233.1 774.3,233.1 774.6,262 775.2,260.4 775.8,260 776.4,262.2 777,261.7 777.6,260.6 778.2,262.1 778.8,262.5 779.4,259.9 780,261.6 780.6,261.3 781.2,259.5 781.8,262.8 782.4,263.8 783,263.4 783.6,261.7 784.2,258.4 784.8,262.8 785.4,261.1 786,263.2 786.6,261 787.2,263.7 787.8,261.3 788.4,263.6 789,261.2 789.6,262.1 790.2,262.3 790.8,261 791.4,261.3 792,262.1 792.6,261.3 793.2,263.3 793.8,260.7 794.4,260.7 795,259.7 795.6,262.1 796.2,263.7 796.8,262.1 797.4,259.6 798,262.1 798.6,260.3 799.2,259.8 799.8,263.2 800.4,262.6 801,259 801.6,261.2 802.2,261.6 802.8,263.7 803.4,263.8 804,261.2 804.6,261.7 805.2,261.8 805.8,263.2 806.4,263.8 807,260.5 807.6,262.3 808.2,262 808.8,261.6 809.4,260.5 810,263.5 810.6,262.9 811.2,258.1 811.8,260.4 812.4,262.4 813,262.2 813.6,262.9 814.2,261.2 814.8,260.4 815.4,261.6 816,261.6 816.6,260.2 817.2,263.4 817.8,261.4 818.4,262.7 819,262.1 819.6,262.7 820.2,260.5 820.8,260.9 821.4,261.6 822,259.3 822.6,263.2 823.2,261.8 823.8,261.9 824.4,263.1 825,261.4 825.6,263.4 826.2,260.8 826.8,260.8 827.4,262.9 828,260.2 828.6,261.3 829.2,259.8 829.8,261.6 830.4,261 831,261.1 831.6,260.5 832.2,261.6 832.8,262 833.4,261 834,263.7 834.6,262.4 835.2,261 835.8,261.6 836.4,261.3 837,260.5 837.6,260.4 838.2,260.6 838.8,263.7 839.4,261 840,261.1 840.6,262.3 841.2,261.4 841.8,263.5 842.4,260.4 843,262.8 843.6,260.2 844.2,263.8 844.8,262.3 845.4,263.5 846,259.6 846.6,261.2 847.2,260.8 847.8,262.3 848.4,260 849,263 849.6,262 850.2,262 850.8,262.8 851.4,264 852,260.1 852.6,260.1 853.2,259.9 853.8,259.1 854.4,263.2 855,260 855.6,260.2 856.2,261.8 856.8,262.5 857.4,261.2 858,260.1 858.6,259.9 859.2,261.9 859.8,262.8 860.4,262 861,259.7 861.6,260.4 862.2,263.3 862.8,260 863.4,260 864,264.1 864.6,262.5 865.2,260.1 865.8,261.1 866.4,261.4 867,262 867.6,259.8 868.2,259.5 868.8,261.6 869.4,260.1 870,262.2 870.6,263.2 871.2,263.5 871.8,262.6 872.4,263.2 873,259.6 873.6,262.7 874.2,262.2 874.8,263.5 875.4,262.5 876,259.7 876.6,260.7 877.2,257.3 877.8,264.4 878.4,261.6 879,259.6 879.6,262.8 880.2,262.6 880.8,261.3 881.4,261.9 882,263.1 882.6,259.3 883.2,263.9 883.8,257.2 884.4,259.5 885,259.4 885.6,264.2 886.2,260.7 886.8,262.2 887.4,259.7 888,260.5 888.6,261.4 889.2,264.8 889.8,264.6 890.4,262 891,259.9 891.6,261.5 892.2,259.9 892.8,262.7 893.4,262.8 894,262.9 894.6,261.7 895.2,260.3 895.8,264.5 896.4,263.7 897,263.7 897.6,262 898.2,259.6 898.8,264.5 899.4,261.5 900,264 900.6,259.8 901.2,262 901.8,261.3 902.4,259.3 903,264.1 903.6,260.4 904.2,262.3 904.8,262.7 905.4,261.5 906,261.9 906.6,262.6 907.2,259.6 907.8,262.1 908.4,263.1 909,260.2 909.6,260 910.2,262.6 910.8,259.3 911.4,260.7 912,260.8 912.6,259.7 913.2,260.9 913.8,261.5 914.4,260.5 915,259.8 915.6,263.2 916.2,263.3 916.8,261.2 917.4,263.9 918,260.7 918.6,261.2 919.2,261 919.8,260.8 920.4,263.9 921,260.1 921.6,263.5 922.2,259.6 922.8,263 923.4,264 924,263.1 924.6,259.3 925.2,261.6 925.8,260.1 926.4,262.5 927,262.7 927.6,261.3 928.2,262.1 928.8,261.1 929.4,262.2 930,261.5 930.6,261.4 931.2,262.4 931.8,259.4 932.4,262.3 933,260.4 933.6,262.2 934.2,261.4 934.8,260.2 935.4,263.1 936,262 936.6,263.7 937.2,261.6 937.8,260.8 938.4,261.4 939,259.7 939.6,260.2 940.2,263.9 940.8,263.3 941.4,259.8 942,259.7 942.6,262 943.2,261 943.8,259.9 944.4,261 945,262.3 945.6,263.2 946.2,262.3 946.8,260.8 947.4,263.7 948,262.6 948.6,263.6 949.2,261.2 949.8,260 950.4,263.1 951,260.6 951.6,260.6 952.2,260.8 952.8,262 953.4,263 954,261.2 954.6,260.3 955.2,262.8 955.8,261.2 956.4,262.2 957,262.8 957.6,259.9 958.2,261.9 958.8,259.6 959.4,261.7 960,260.8 960.6,260.9 961.2,263.1 961.8,261.3 962.4,258.3 963,263.2 963.6,261.6 964.2,260.9 964.8,260.7 965.4,263.2 966,262.5 966.6,260.1 967.2,260.1 967.8,261.7 968.4,263.1 969,257.7 969.6,260.2 970.5,262 970.8,225.4 971.9,225.4 971.9,205.7 972.9,205.7 972.9,214.1 974.3,214.1 974.6,262 975.6,262.8 976.2,263.3 976.8,259.8 977.4,260.1 978,261.3 978.6,259.7 979.2,262.8 979.8,262.3 980.4,260.3 981,262 981.6,259.8 982.2,259.7 982.8,261.7 983.4,262 984,261.7 984.6,263.3 985.2,263.3 985.8,264.1 986.4,262.8 987,261.7 987.6,261.2 988.2,262.2 988.8,261.5 989.4,261.1 990,262.1 990.6,260.7 991.2,262.3 991.8,259.8 992.4,260.3 993,263.7 993.6,263 994.2,261.6 994.8,263.6 995.4,260.8 996,263 996.6,260.1 997.2,262.6 997.8,262.8 998.4,261.3 999,260.7 999.6,258.1 1000.2,262.5 1000.8,262.9 1001.4,261.2 1002,263 1002.6,263.2 1003.2,262.5 1003.8,262.1 1004.4,263.7 1005,259.7 1005.6,262 1006.2,260.4 1006.8,260.6 1007.4,261.1 1008,261.5 1008.6,261.3 1009.2,260.5 1009.8,258.9 1010.4,262.4 1011,263.4 1011.6,263.9 1012.2,264.1 1012.8,263.5 1013.4,262.9 1014,261.9 1014.6,261 1015.2,259.6 1015.8,263.1 1016.4,261.4 1017,261.8 1017.6,261.8 1018.2,264.5 1018.8,260.6 1019.4,263 1020,262.1 1020.6,261 1021.2,264 1021.8,258.6 1022.4,260.4 1023,259.8 1023.6,263.6 1024.2,258.9 1024.8,259.5 1025.4,261.1 1026,259.4 1026.6,262.7 1027.2,258 1027.8,263.2 1028.4,260.1 1029,264 1029.6,259.1 1030.2,261.5 1030.8,261.4 1031.4,263.1 1032,260.4 1032.6,259.2 1033.2,263 1033.8,264.5 1034.4,262.7 1035,263.2 1035.6,264.3 1036.2,262.5 1036.8,263 1037.4,260.7 1038,259.8 1038.6,261.7 1039.2,258.4 1039.8,260 1040.4,261.5 1041,261.4 1041.6,264 1042.2,259.7 1042.8,263.2 1043.4,262.1 1044,260.2 1044.6,260.7 1045.2,261.3 1045.8,260.7 1046.4,263.8 1047,260.3 1047.6,260.6 1048.2,260.9 1048.8,259.6 1049.4,262.4 1050,263 1050.6,263.6 1051.2,261.5 1051.8,263 1052.4,263.5 1053,262.7 1053.6,259.8 1054.2,261.6 1054.8,262.5 1055.4,262.9 1056,261.7 1056.6,263 1057.2,263 1057.8,259 1058.4,263.2 1059,262.3 1059.6,260.3 1060.2,262.8 1060.8,264 1061.4,262.6 1062,261.3 1062.6,261 1063.2,261.3 1063.8,263.8 1064.4,262.6 1065,262.5 1065.6,264 1066.2,261.3 1066.8,263.3 1067.4,260.1 1068,260.7 1068.6,260.3 1069.2,262.6 1069.8,259.9 1070.4,261.6 1071,257.5 1071.6,258.2 1072.2,259.6 1072.8,261.2 1073.4,263.8 1074,262.3 1074.6,260.2 1075.2,263.6 1075.8,260.2 1076.4,261.3 1077,263.2 1077.6,261 1078.2,263.8 1078.8,258.3 1079.4,257.8 1080,259.8 1080.6,260.9 1081.2,263.7 1081.8,259.2 1082.4,260.6 1083,263 1083.6,263.4 1084.2,261.3 1084.8,260.2 1085.4,262.5 1086,261.3 1086.6,260.7 1087.2,260.5 1087.8,262.2 1088.4,263 1089,260.5 1089.6,261.5 1090.2,259.7 1090.8,261.9 1091.4,260.8 1092,260.9 1092.6,263 1093.2,260.8 1093.8,260.5 1094.4,261.1 1095,259.9 1095.6,262.8 1096.2,262.8 1096.8,261.1 1097.4,261.2 1098,261.5 1098.6,263.2 1099.2,262.1 1099.8,263.2 1100.4,262.5 1101,261.4 1101.6,262.4 1102.2,262.9 1102.8,263.4 1103.4,261.2 1104,262.8 1104.6,262.1 1105.2,263.4 1105.8,261 1106.4,260.2 1107,263.1 1107.6,261.7 1108.2,259.5 1108.8,263.6 1109.4,262.8 1110,261.9 1110.6,261.5 1111.2,260 1111.8,262.2 1112.4,261.7 1113,261.8 1113.6,263 1114.2,263.5 1114.8,260.6 1115.4,261.3 1116,263.1 1116.6,262.5 1117.2,260.1 1117.8,261 1118.4,260.9 1119,262.1 1119.6,260.7 1120.2,263.2 1120.8,260.2 1121.4,262.6 1122,263.3 1122.6,260.3 1123.2,259.7 1123.8,264 1124.4,261.9 1125,259.9 1125.6,262.7 1126.2,260.6 1126.8,261.5 1127.4,261.8 1128,261.5 1128.6,263.2 1129.2,263.2 1129.8,260.5 1130.4,260.9 1131,259.8 1131.6,263.8 1132.2,262.5 1132.8,261.5 1133.4,263.9 1134,262.2 1134.6,260.5 1135.2,260.1 1135.8,261.4 1136.4,263 1137,263.7 1137.6,260.1 1138.2,262.5 1138.8,263 1139.4,259.2 1140,262.9 1140.6,261 1141.2,259.9 1141.8,260.8 1142.4,259.9 1143,259.7 1143.6,259.7 1144.2,260.1 1144.8,260.7 1145.4,262.6 1146,261.9 1146.6,260.5 1147.2,258.6 1147.8,262.3 1148.4,261.1 1149,261.3 1149.6,259.1 1150.2,262 1150.8,262.6 1151.4,262.3 1152,260.5 1152.6,260.6 1153.2,260 1153.8,261.1 1154.4,261.8 1155,263.7 1155.6,259.2 1156.2,260 1156.8,260 1157.4,262.4 1158,260.4 1158.6,261.1 1159.2,263.9 1159.8,264.3 1160.4,263.8 1161,263.9 1161.6,260.6 1162.2,263.9 1162.8,259.8 1163.4,259 1164,263.4 1164.6,263.1 1165.2,258.9 1165.8,262.5 1166.4,263.7 1167,261.3 1167.6,262.4 1168.2,260 1168.8,261.2 1169.8,262 1170.1,217 1171.2,217 1171.2,205.7 1172.2,205.7 1172.2,225.4 1173.6,225.4 1173.9,262 1174.8,261.8 1175.4,263.8 1176,264.2 1176.6,260.1 1177.2,262.8 1177.8,259.8 1178.4,261.4 1179,262.8 1179.6,260.9 1180.2,262.3 1180.8,262.9 1181.4,263.1 1182,260.4 1182.6,263.5 1183.2,259.7 1183.8,260.4 1184.4,260.6 1185,262.3 1185.6,262 1186.2,264.1 1186.8,262.2 1187.4,259.8 1188,260.3 1188.6,261.5 1189.2,262.2 1189.8,263.8 1190.4,260 1191,262.9 1191.6,261.5 1192.2,261.3 1192.8,261.8 1193.4,264.1 1194,261.6 1194.6,261.6 1195.2,260.2 1195.8,261.7 1196.4,260.4 1197,260.8 1197.6,259.8 1198.2,261.4 1198.8,263.4 1199.4,259.6 1200,262.8 1200.6,260.8 1201.2,259.4 1201.8,260.9 1202.4,259.8 1203,263 1203.6,262.8 1204.2,261.7 1204.8,261.4 1205.4,262.3 1206,264.2 1206.6,259.3 1207.2,264.2 1207.8,260.3 1208.4,259.4 1209,259.9 1209.6,259.5 1210.2,261.8 1210.8,259.5 1211.4,263.5 1212,259.5 1212.6,264.1 1213.2,260.2 1213.8,264.2 1214.4,262.8 1215,263.4 1215.6,262.3 1216.2,260.5 1216.8,258.5 1217.4,264.1 1218,261 1218.6,260.3 1219.2,260 1219.8,263.1 1220.4,260.2 1221,263.7 1221.6,263.8 1222.2,261.4 1222.8,260.1 1223.4,259.8 1224,261.2 1224.6,260.3 1225.2,262.8 1225.8,260.6 1226.4,263.4 1227,261.2 1227.6,263.5 1228.2,260.7 1228.8,261.5 1229.4,261.9 1230,263.4 1230.6,260.9 1231.2,260.1 1231.8,261.5 1232.4,263.1 1233,261.4 1233.6,261.5 1234.2,261.9 1234.8,260.6 1235.4,262.7 1236,260.9 1236.6,263.1 1237.2,263.3 1237.8,263 1238.4,263 1239,258.8 1239.6,263.4 1240.2,260.6 1240.8,263 1241.4,261 1242,258 1242.6,260.2 1243.2,262.6 1243.8,260 1244.4,261.3 1245,261 1245.6,263 1246.2,263.1 1246.8,260.4 1247.4,259.8 1248,260.8 1248.6,263 1249.2,263.6 1249.8,263.2 1250.4,260.5 1251,260.1 1251.6,261.1 1252.2,260.2 1252.8,262 1253.4,263.1 1254,263.1 1254.6,261.5 1255.2,263.5 1255.8,260 1256.4,262.6 1257,262.3 1257.6,259.8 1258.2,260.7 1258.8,261.2 1259.4,261.9 1260,259.9 1260.6,261.1 1261.2,260.3 1261.8,260.6 1262.4,262.5 1263,260.4 1263.6,262.3 1264.2,260.5 1264.8,260.8 1265.4,263.7 1266,262 1266.6,260.7 1267.2,259.9 1267.8,263.8 1268.4,262.8 1269,259.6 1269.6,261.8 1270.2,260 1270.8,263.2 1271.4,260.5 1272,260.6 1272.6,260.8 1273.2,262.4 1273.8,260.5 1274.4,260.7 1275,263.6 1275.6,263.2 1276.2,262 1276.8,261.1 1277.4,260.2 1278,261.5 1278.6,258.3 1279.2,260 1279.8,261 1280.4,263.6 1281,261 1281.6,258.6 1282.2,262.4 1282.8,261.5 1283.4,262.3 1284,263.6 1284.6,263.8 1285.2,260.9 1285.8,261.6 1286.4,262.8 1287,261.6 1287.6,263.9 1288.2,262.4 1288.8,260.8 1289.4,264.1 1290,263.8 1290.6,263.5 1291.2,260.4 1291.8,259.4 1292.4,261.8 1293,259.2 1293.6,261 1294.2,261.2 1294.8,264.1 1295.4,264.4 1296,261.2 1296.6,258.6 1297.2,259.9 1297.8,260.2 1298.4,264 1299,264.2 1299.6,259.7 1300.2,261.4 1300.8,262.3 1301.4,261 1302,264.6 1302.6,261.6 1303.2,263.6 1303.8,262.5 1304.4,261.6 1305,261.5 1305.6,264.1 1306.2,263.7 1306.8,261.9 1307.4,260.3 1308,263 1308.6,260.2 1309.2,259.8 1309.8,262.4 1310.4,263.5 1311,262.4 1311.6,258.7 1312.2,260.6 1312.8,262.8 1313.4,262.7 1314,259.6 1314.6,261.9 1315.2,258.1 1315.8,260.8 1316.4,260.8 1317,261 1317.6,260.3 1318.2,260.6 1318.8,264.3 1319.4,263.4 1320,259.5 1320.6,261.2 1321.2,263.3 1321.8,259.5 1322.4,259.4 1323,262.1 1323.6,263.4 1324.2,259.5 1324.8,263.5 1325.4,260 1326,259.5 1326.6,261.8 1327.2,262.2 1327.8,261.7 1328.4,259.1 1329,260.6 1329.6,259.9 1330.2,261.9 1331,262 1331.3,217.4 1332.5,217.4 1332.5,206.2 1333.4,206.2 1333.4,225.7 1334.8,225.7 1335.1,262 1336.2,260.7 1336.8,259.6 1337.4,263.4 1338,261.1 1338.6,261.9 1339.2,260.1 1339.8,262.8 1340.4,262.6 1341,263.1 1341.6,259.3 1342.2,261.8 1342.8,262.4 1343.4,262 1344,262.8 1344.6,259 1345.2,261.1 1345.8,260.6 1346.4,261.5 1347,261.2 1347.6,262.7 1348.2,260.3 1348.8,262.3 1349.4,263.9 1350,260.9 1350.6,262.5 1351.2,259.5 1351.8,261.2 1352.4,259.5 1353,257.5 1353.6,259.5 1354.2,261.5 1354.8,262.6 1355.4,263.4 1356,261.4 1356.6,261.4 1357.2,261.8 1357.8,260.6 1358.4,262.3 1359,259.9 1359.6,260.3 1360.2,261.9 1360.8,263.1 1361.4,262.5 1362,261.2 1362.6,263.8 1363.2,259.6 1363.8,260.8 1364.4,263.5 1365,261.8 1365.6,260.4 1366.2,262.3 1366.8,262.8 1367.4,262.1 1368,260.4 1368.6,260.7 1369.2,262.3 1369.8,260.4 1370.5,262 1370.8,215.4 1372,215.4 1372,203.8 1372.9,203.8 1372.9,224.2 1374.3,224.2 1374.6,262 1375.2,260.1 1375.8,261.7 1376.4,260.8 1377,262 1377.6,261.9 1378.2,260.6 1378.8,262.7 1379.4,259.7 1380,263.4 1380.6,261.6 1381.2,261.6 1381.8,263.2 1382.4,262.2 1383,261.3 1383.6,263.4 1384.2,263.1 1384.8,262.7 1385.4,263.3 1386,261.1 1386.6,263.3 1387.2,260.6 1387.8,263 1388.4,261 1389,262.5 1389.6,263.5 1390.2,262.6 1390.8,262.2 1391.4,263.1 1392,263.4 1392.6,263.7 1393.2,262.9 1393.8,261.6 1394.4,263.5 1395,261.6 1395.6,259.5 1396.2,262.2 1396.8,260 1397.4,262 1398,263.2 1398.6,262.7 1399.2,261.1 1399.8,261.3 1400.4,261.3 1401,259.9 1401.6,261.8 1402.2,261.8 1402.8,261.5 1403.4,263.4 1404,260.7 1404.6,261.4 1405.2,260.2 1405.8,261.5 1406.4,262.1 1407,263.6 1407.6,260.6 1408.2,259.9 1408.8,260.4 1409.4,261.7 1410,261.8 1410.6,263.3 1411.2,263 1411.8,261.7 1412.4,261.5 1413,260 1413.6,260.2 1414.2,262.2 1414.8,260.8 1415.4,260.6 1416,261.9 1416.6,260.2 1417.2,263.3 1417.8,261.5 1418.4,263 1419,261.4 1419.6,261"/>
</g>
<rect x="259.5" y="0" width="2" height="296" fill="#000"/>
<rect x="259.5" y="294.6" width="1161.5" height="1.6" fill="#262626"/>
<rect x="866.2" y="296" width="1.5" height="2.5" fill="#2a9a2a"/>
<rect x="848.4" y="298.6" width="37.2" height="18.4" fill="#f6f3f8" stroke="#2f8f2f" stroke-width="1.2"/>
<text transform="translate(866.9 312.4) scale(0.95 1.12)" class="t" text-anchor="middle">223.8</text>
<rect x="171.5" y="322.6" width="1249.5" height="19" fill="#ffffff"/>
<rect x="172.4" y="323.4" width="1248.6" height="18.2" fill="#f0f0f0"/>
<rect x="170" y="321" width="1251" height="1.6" fill="#b4b4b4"/>
<rect x="170" y="321" width="1.5" height="20.6" fill="#b4b4b4"/>
<text class="h" transform="translate(174.5 337.2) scale(0.885 1.06)">FATP_2_C11_046_16-53-34.fsa</text>
<rect x="288.3" y="389.5" width="1.8" height="210.5" fill="#e2e0e5"/>
<rect x="291.6" y="389.5" width="1.8" height="210.5" fill="#e2e0e5"/>
<rect x="319.1" y="389.5" width="1.8" height="210.5" fill="#e2e0e5"/>
<rect x="330.8" y="389.5" width="1.8" height="210.5" fill="#e2e0e5"/>
<rect x="342.4" y="389.5" width="1.8" height="210.5" fill="#e2e0e5"/>
<rect x="354.4" y="389.5" width="1.8" height="210.5" fill="#e2e0e5"/>
<rect x="367.4" y="389.5" width="1.8" height="210.5" fill="#e2e0e5"/>
<rect x="378.3" y="389.5" width="1.8" height="210.5" fill="#e2e0e5"/>
<rect x="389.6" y="389.5" width="1.8" height="210.5" fill="#e2e0e5"/>
<rect x="400.8" y="389.5" width="1.8" height="210.5" fill="#e2e0e5"/>
<rect x="411.6" y="389.5" width="1.8" height="210.5" fill="#e2e0e5"/>
<rect x="423.3" y="389.5" width="1.8" height="210.5" fill="#e2e0e5"/>
<rect x="433.9" y="389.5" width="1.8" height="210.5" fill="#e2e0e5"/>
<rect x="444.7" y="389.5" width="1.8" height="210.5" fill="#e2e0e5"/>
<rect x="456.6" y="389.5" width="1.8" height="210.5" fill="#e2e0e5"/>
<rect x="468.6" y="389.5" width="1.8" height="210.5" fill="#e2e0e5"/>
<rect x="480.4" y="389.5" width="1.8" height="210.5" fill="#e2e0e5"/>
<rect x="492.1" y="389.5" width="1.8" height="210.5" fill="#e2e0e5"/>
<rect x="504.1" y="389.5" width="1.8" height="210.5" fill="#e2e0e5"/>
<rect x="516.1" y="389.5" width="1.8" height="210.5" fill="#e2e0e5"/>
<rect x="528.6" y="389.5" width="1.8" height="210.5" fill="#e2e0e5"/>
<rect x="540.4" y="389.5" width="1.8" height="210.5" fill="#e2e0e5"/>
<rect x="554.1" y="389.5" width="1.8" height="210.5" fill="#e2e0e5"/>
<rect x="566.7" y="389.5" width="1.8" height="210.5" fill="#e2e0e5"/>
<rect x="579.3" y="389.5" width="1.8" height="210.5" fill="#e2e0e5"/>
<rect x="591.4" y="389.5" width="1.8" height="210.5" fill="#e2e0e5"/>
<rect x="603.8" y="389.5" width="1.8" height="210.5" fill="#e2e0e5"/>
<rect x="615.2" y="389.5" width="1.8" height="210.5" fill="#e2e0e5"/>
<rect x="626.1" y="389.5" width="1.8" height="210.5" fill="#e2e0e5"/>
<rect x="637.4" y="389.5" width="1.8" height="210.5" fill="#e2e0e5"/>
<rect x="649.9" y="389.5" width="1.8" height="210.5" fill="#e2e0e5"/>
<rect x="660.8" y="389.5" width="1.8" height="210.5" fill="#e2e0e5"/>
<rect x="672.2" y="389.5" width="1.8" height="210.5" fill="#e2e0e5"/>
<rect x="684.4" y="389.5" width="1.8" height="210.5" fill="#e2e0e5"/>
<rect x="695.4" y="389.5" width="1.8" height="210.5" fill="#e2e0e5"/>
<rect x="706.6" y="389.5" width="1.8" height="210.5" fill="#e2e0e5"/>
<rect x="717.9" y="389.5" width="1.8" height="210.5" fill="#e2e0e5"/>
<rect x="730" y="389.5" width="1.8" height="210.5" fill="#e2e0e5"/>
<rect x="741.3" y="389.5" width="1.8" height="210.5" fill="#e2e0e5"/>
<rect x="752.7" y="389.5" width="1.8" height="210.5" fill="#e2e0e5"/>
<rect x="765.2" y="389.5" width="1.8" height="210.5" fill="#e2e0e5"/>
<rect x="776.1" y="389.5" width="1.8" height="210.5" fill="#e2e0e5"/>
<rect x="787.9" y="389.5" width="1.8" height="210.5" fill="#e2e0e5"/>
<rect x="800.4" y="389.5" width="1.8" height="210.5" fill="#e2e0e5"/>
<rect x="812.9" y="389.5" width="1.8" height="210.5" fill="#e2e0e5"/>
<rect x="825.4" y="389.5" width="1.8" height="210.5" fill="#e2e0e5"/>
<rect x="838.2" y="389.5" width="1.8" height="210.5" fill="#e2e0e5"/>
<rect x="851.1" y="389.5" width="1.8" height="210.5" fill="#e2e0e5"/>
<rect x="862.9" y="389.5" width="1.8" height="210.5" fill="#e2e0e5"/>
<rect x="875.1" y="389.5" width="1.8" height="210.5" fill="#e2e0e5"/>
<rect x="887.7" y="389.5" width="1.8" height="210.5" fill="#e2e0e5"/>
<rect x="900" y="389.5" width="1.8" height="210.5" fill="#e2e0e5"/>
<rect x="911.1" y="389.5" width="1.8" height="210.5" fill="#e2e0e5"/>
<rect x="923.5" y="389.5" width="1.8" height="210.5" fill="#e2e0e5"/>
<rect x="935.9" y="389.5" width="1.8" height="210.5" fill="#e2e0e5"/>
<rect x="948.3" y="389.5" width="1.8" height="210.5" fill="#e2e0e5"/>
<rect x="960.7" y="389.5" width="1.8" height="210.5" fill="#e2e0e5"/>
<rect x="971.9" y="389.5" width="1.8" height="210.5" fill="#e2e0e5"/>
<rect x="982.8" y="389.5" width="1.8" height="210.5" fill="#e2e0e5"/>
<rect x="993.9" y="389.5" width="1.8" height="210.5" fill="#e2e0e5"/>
<rect x="1004.5" y="389.5" width="1.8" height="210.5" fill="#e2e0e5"/>
<rect x="1015.3" y="389.5" width="1.8" height="210.5" fill="#e2e0e5"/>
<rect x="1026.1" y="389.5" width="1.8" height="210.5" fill="#e2e0e5"/>
<rect x="1037.3" y="389.5" width="1.8" height="210.5" fill="#e2e0e5"/>
<rect x="1047.6" y="389.5" width="1.8" height="210.5" fill="#e2e0e5"/>
<rect x="1058.3" y="389.5" width="1.8" height="210.5" fill="#e2e0e5"/>
<rect x="1069.6" y="389.5" width="1.8" height="210.5" fill="#e2e0e5"/>
<rect x="1080.8" y="389.5" width="1.8" height="210.5" fill="#e2e0e5"/>
<rect x="1091.8" y="389.5" width="1.8" height="210.5" fill="#e2e0e5"/>
<rect x="1101.8" y="389.5" width="1.8" height="210.5" fill="#e2e0e5"/>
<rect x="1113.1" y="389.5" width="1.8" height="210.5" fill="#e2e0e5"/>
<rect x="1124.3" y="389.5" width="1.8" height="210.5" fill="#e2e0e5"/>
<rect x="1134.8" y="389.5" width="1.8" height="210.5" fill="#e2e0e5"/>
<rect x="1145.3" y="389.5" width="1.8" height="210.5" fill="#e2e0e5"/>
<rect x="1156.6" y="389.5" width="1.8" height="210.5" fill="#e2e0e5"/>
<rect x="1167.8" y="389.5" width="1.8" height="210.5" fill="#e2e0e5"/>
<rect x="1179.1" y="389.5" width="1.8" height="210.5" fill="#e2e0e5"/>
<rect x="1190.9" y="389.5" width="1.8" height="210.5" fill="#e2e0e5"/>
<rect x="1203.3" y="389.5" width="1.8" height="210.5" fill="#e2e0e5"/>
<rect x="1215.8" y="389.5" width="1.8" height="210.5" fill="#e2e0e5"/>
<rect x="1228.1" y="389.5" width="1.8" height="210.5" fill="#e2e0e5"/>
<rect x="1239.3" y="389.5" width="1.8" height="210.5" fill="#e2e0e5"/>
<rect x="1264.1" y="389.5" width="1.8" height="210.5" fill="#e2e0e5"/>
<rect x="271.5" y="386.2" width="1" height="1.5" fill="#a8a8a8"/>
<rect x="291.5" y="386.2" width="1" height="1.5" fill="#a8a8a8"/>
<text transform="translate(291.4 379.6) scale(0.96 1.12)" class="t" text-anchor="middle">80</text>
<rect x="311.5" y="386.2" width="1" height="1.5" fill="#a8a8a8"/>
<rect x="331.5" y="386.2" width="1" height="1.5" fill="#a8a8a8"/>
<rect x="351.5" y="386.2" width="1" height="1.5" fill="#a8a8a8"/>
<rect x="371.5" y="386.2" width="1" height="1.5" fill="#a8a8a8"/>
<text transform="translate(371.4 379.6) scale(0.96 1.12)" class="t" text-anchor="middle">100</text>
<rect x="391.5" y="386.2" width="1" height="1.5" fill="#a8a8a8"/>
<rect x="411.5" y="386.2" width="1" height="1.5" fill="#a8a8a8"/>
<rect x="431.5" y="386.2" width="1" height="1.5" fill="#a8a8a8"/>
<rect x="451.5" y="386.2" width="1" height="1.5" fill="#a8a8a8"/>
<text transform="translate(451.4 379.6) scale(0.96 1.12)" class="t" text-anchor="middle">120</text>
<rect x="471.5" y="386.2" width="1" height="1.5" fill="#a8a8a8"/>
<rect x="491.5" y="386.2" width="1" height="1.5" fill="#a8a8a8"/>
<rect x="511.5" y="386.2" width="1" height="1.5" fill="#a8a8a8"/>
<rect x="531.5" y="386.2" width="1" height="1.5" fill="#a8a8a8"/>
<text transform="translate(531.4 379.6) scale(0.96 1.12)" class="t" text-anchor="middle">140</text>
<rect x="551.5" y="386.2" width="1" height="1.5" fill="#a8a8a8"/>
<rect x="571.5" y="386.2" width="1" height="1.5" fill="#a8a8a8"/>
<rect x="591.5" y="386.2" width="1" height="1.5" fill="#a8a8a8"/>
<rect x="611.5" y="386.2" width="1" height="1.5" fill="#a8a8a8"/>
<text transform="translate(611.4 379.6) scale(0.96 1.12)" class="t" text-anchor="middle">160</text>
<rect x="631.5" y="386.2" width="1" height="1.5" fill="#a8a8a8"/>
<rect x="651.5" y="386.2" width="1" height="1.5" fill="#a8a8a8"/>
<rect x="671.5" y="386.2" width="1" height="1.5" fill="#a8a8a8"/>
<rect x="691.5" y="386.2" width="1" height="1.5" fill="#a8a8a8"/>
<text transform="translate(691.4 379.6) scale(0.96 1.12)" class="t" text-anchor="middle">180</text>
<rect x="711.5" y="386.2" width="1" height="1.5" fill="#a8a8a8"/>
<rect x="731.5" y="386.2" width="1" height="1.5" fill="#a8a8a8"/>
<rect x="751.5" y="386.2" width="1" height="1.5" fill="#a8a8a8"/>
<rect x="771.5" y="386.2" width="1" height="1.5" fill="#a8a8a8"/>
<text transform="translate(771.4 379.6) scale(0.96 1.12)" class="t" text-anchor="middle">200</text>
<rect x="791.5" y="386.2" width="1" height="1.5" fill="#a8a8a8"/>
<rect x="811.5" y="386.2" width="1" height="1.5" fill="#a8a8a8"/>
<rect x="831.5" y="386.2" width="1" height="1.5" fill="#a8a8a8"/>
<rect x="851.5" y="386.2" width="1" height="1.5" fill="#a8a8a8"/>
<text transform="translate(851.4 379.6) scale(0.96 1.12)" class="t" text-anchor="middle">220</text>
<rect x="871.5" y="386.2" width="1" height="1.5" fill="#a8a8a8"/>
<rect x="891.5" y="386.2" width="1" height="1.5" fill="#a8a8a8"/>
<rect x="911.5" y="386.2" width="1" height="1.5" fill="#a8a8a8"/>
<rect x="931.5" y="386.2" width="1" height="1.5" fill="#a8a8a8"/>
<text transform="translate(931.4 379.6) scale(0.96 1.12)" class="t" text-anchor="middle">240</text>
<rect x="951.5" y="386.2" width="1" height="1.5" fill="#a8a8a8"/>
<rect x="971.5" y="386.2" width="1" height="1.5" fill="#a8a8a8"/>
<rect x="991.5" y="386.2" width="1" height="1.5" fill="#a8a8a8"/>
<rect x="1011.5" y="386.2" width="1" height="1.5" fill="#a8a8a8"/>
<text transform="translate(1011.4 379.6) scale(0.96 1.12)" class="t" text-anchor="middle">260</text>
<rect x="1031.5" y="386.2" width="1" height="1.5" fill="#a8a8a8"/>
<rect x="1051.5" y="386.2" width="1" height="1.5" fill="#a8a8a8"/>
<rect x="1071.5" y="386.2" width="1" height="1.5" fill="#a8a8a8"/>
<rect x="1091.5" y="386.2" width="1" height="1.5" fill="#a8a8a8"/>
<text transform="translate(1091.4 379.6) scale(0.96 1.12)" class="t" text-anchor="middle">280</text>
<rect x="1111.5" y="386.2" width="1" height="1.5" fill="#a8a8a8"/>
<rect x="1131.5" y="386.2" width="1" height="1.5" fill="#a8a8a8"/>
<rect x="1151.5" y="386.2" width="1" height="1.5" fill="#a8a8a8"/>
<rect x="1171.5" y="386.2" width="1" height="1.5" fill="#a8a8a8"/>
<text transform="translate(1171.4 379.6) scale(0.96 1.12)" class="t" text-anchor="middle">300</text>
<rect x="1191.5" y="386.2" width="1" height="1.5" fill="#a8a8a8"/>
<rect x="1211.5" y="386.2" width="1" height="1.5" fill="#a8a8a8"/>
<rect x="1231.5" y="386.2" width="1" height="1.5" fill="#a8a8a8"/>
<rect x="1251.5" y="386.2" width="1" height="1.5" fill="#a8a8a8"/>
<text transform="translate(1251.4 379.6) scale(0.96 1.12)" class="t" text-anchor="middle">320</text>
<rect x="1271.5" y="386.2" width="1" height="1.5" fill="#a8a8a8"/>
<rect x="1291.5" y="386.2" width="1" height="1.5" fill="#a8a8a8"/>
<rect x="1311.5" y="386.2" width="1" height="1.5" fill="#a8a8a8"/>
<rect x="1331.5" y="386.2" width="1" height="1.5" fill="#a8a8a8"/>
<text transform="translate(1331.4 379.6) scale(0.96 1.12)" class="t" text-anchor="middle">340</text>
<rect x="1351.5" y="386.2" width="1" height="1.5" fill="#a8a8a8"/>
<rect x="1371.5" y="386.2" width="1" height="1.5" fill="#a8a8a8"/>
<rect x="1391.5" y="386.2" width="1" height="1.5" fill="#a8a8a8"/>
<rect x="1411.5" y="386.2" width="1" height="1.5" fill="#a8a8a8"/>
<text transform="translate(1411.4 379.6) scale(0.96 1.12)" class="t" text-anchor="middle">360</text>
<rect x="257.5" y="597.9" width="2" height="1" fill="#b4b4b4"/>
<rect x="257.5" y="587.4" width="2" height="1" fill="#b4b4b4"/>
<rect x="255.5" y="576.8" width="4" height="1" fill="#707070"/>
<text transform="translate(253 581.9) scale(0.97 1.1)" class="t" text-anchor="end">0</text>
<rect x="257.5" y="566.2" width="2" height="1" fill="#b4b4b4"/>
<rect x="257.5" y="555.7" width="2" height="1" fill="#b4b4b4"/>
<rect x="257.5" y="545.1" width="2" height="1" fill="#b4b4b4"/>
<rect x="255.5" y="534.6" width="4" height="1" fill="#707070"/>
<text transform="translate(253 539.7) scale(0.97 1.1)" class="t" text-anchor="end">1,000</text>
<rect x="257.5" y="524" width="2" height="1" fill="#b4b4b4"/>
<rect x="257.5" y="513.5" width="2" height="1" fill="#b4b4b4"/>
<rect x="257.5" y="502.9" width="2" height="1" fill="#b4b4b4"/>
<rect x="255.5" y="492.3" width="4" height="1" fill="#707070"/>
<text transform="translate(253 497.4) scale(0.97 1.1)" class="t" text-anchor="end">2,000</text>
<rect x="257.5" y="481.8" width="2" height="1" fill="#b4b4b4"/>
<rect x="257.5" y="471.2" width="2" height="1" fill="#b4b4b4"/>
<rect x="257.5" y="460.7" width="2" height="1" fill="#b4b4b4"/>
<rect x="255.5" y="450.1" width="4" height="1" fill="#707070"/>
<text transform="translate(253 455.2) scale(0.97 1.1)" class="t" text-anchor="end">3,000</text>
<rect x="257.5" y="439.6" width="2" height="1" fill="#b4b4b4"/>
<rect x="257.5" y="429" width="2" height="1" fill="#b4b4b4"/>
<rect x="257.5" y="418.4" width="2" height="1" fill="#b4b4b4"/>
<rect x="255.5" y="407.9" width="4" height="1" fill="#707070"/>
<text transform="translate(253 413) scale(0.97 1.1)" class="t" text-anchor="end">4,000</text>
<rect x="257.5" y="397.3" width="2" height="1" fill="#b4b4b4"/>
<g fill="none" stroke-width="1.4" stroke-linejoin="round">
<polyline stroke="#0a0ade" stroke-width="1.25" points="261,567.5 265,564.5 268,566.2 271,567 277,567 279,569.5 281.5,566.5 284,568 286,563 289,561 291,565 293,563 295,568 298,566 300,568.5 302,566.5 304.5,561.5 307,566.5 309,564 311,568.5 314,565 315.5,558 318,555 319.1,554.3 319.5,509.1 320.4,509.1 320.5,435.5 321.6,435.5 321.7,492.2 322.9,492.2 323.3,557.1 325.5,560.4 327.9,556.3 330.2,552.7 330.6,552.6 331,451.7 331.9,451.7 332,416.2 333.1,416.2 333.2,473.1 334.4,473.1 334.8,554.9 337,558.2 338.8,556.7 340.7,552.7 342.5,550.1 342.9,550.1 343.3,486.3 344.2,486.3 344.3,417.3 345.4,417.3 345.5,473.5 346.7,473.5 347.1,552.4 349.3,555.6 351,553.8 352.7,550.7 354.4,549.5 354.8,549.5 355.2,479.8 356.1,479.8 356.2,431.3 357.3,431.3 357.4,497.5 358.6,497.5 359,553.1 361.2,556.4 363,554.9 364.9,553.6 366.7,549.9 367.1,551 367.5,471.8 368.4,471.8 368.5,442.5 369.6,442.5 369.7,497.3 370.9,497.3 371.3,554.9 373.5,558.1 375.5,554.6 377.5,551.1 377.9,552.2 378.3,480.7 379.2,480.7 379.3,452.3 380.4,452.3 380.5,518.8 381.7,518.8 382.1,556 384.3,559.3 386.5,557.7 388.7,554.9 389.1,554.3 389.5,502.7 390.4,502.7 390.5,462.8 391.6,462.8 391.7,520.1 392.9,520.1 393.3,558.4 395.5,561.7 397.7,557.6 399.9,557.5 400.3,556.1 400.7,507.6 401.6,507.6 401.7,474 402.8,474 402.9,517.3 404.1,517.3 404.5,559.9 406.7,563.2 408.3,562.5 409.9,559.7 411.5,557.6 411.9,557.3 412.3,527.2 413.2,527.2 413.3,482.8 414.4,482.8 414.5,530.1 415.7,530.1 416.1,561 418.3,564.3 420.5,560.5 422.7,557.3 423.1,558.6 423.5,525.2 424.4,525.2 424.5,491.5 425.6,491.5 425.7,520 426.9,520 427.3,562.3 429.5,565.6 431.6,562.7 433.7,558.3 434.1,559.6 434.5,518.8 435.4,518.8 435.5,498.6 436.6,498.6 436.7,538.4 437.9,538.4 438.3,563.1 440.5,566.4 442.9,564 445.2,562.7 445.6,563.4 446,524.6 446.9,524.6 447,506.2 448.1,506.2 448.2,543.9 449.4,543.9 449.8,565 452,567.2 454.2,564.4 456.4,564.1 456.9,564.2 457.2,530.8 458.1,530.8 458.2,510 459.4,510 459.4,545.9 460.6,545.9 461.1,565.8 463.2,568 464.9,566.9 466.6,567 468.2,565.1 468.6,565 469,544.8 469.9,544.8 470,514.5 471.1,514.5 471.2,536.7 472.4,536.7 472.8,566.6 475,568.8 477.4,567.6 479.7,565.7 480.1,565.7 480.5,543.2 481.4,543.2 481.5,518.2 482.6,518.2 482.7,548.4 483.9,548.4 484.3,567.2 486.5,569.4 488.1,568.9 489.8,567.3 491.4,565.7 491.9,566.4 492.2,531.5 493.1,531.5 493.2,519.5 494.4,519.5 494.4,540 495.6,540 496.1,567.9 498.2,570.1 499.9,570.5 501.6,569.5 503.2,568 503.6,567 504,545.1 504.9,545.1 505,523.2 506.1,523.2 506.2,541.3 507.4,541.3 507.8,568.6 510,570.8 511.7,570.3 513.5,568 515.2,566.6 515.6,567.4 516,542.1 516.9,542.1 517,524.5 518.1,524.5 518.2,545.8 519.4,545.8 519.8,568.7 522,571 523.9,569.2 525.8,567.5 527.7,568.3 528.1,567.6 528.5,548.4 529.4,548.4 529.5,527 530.6,527 530.7,544 531.9,544 532.3,568.9 534.5,571.1 536.4,569.7 538.3,569.9 540.2,567.4 540.6,567.8 541,542.4 541.9,542.4 542,528.2 543.1,528.2 543.2,544.4 544.4,544.4 544.8,569.1 547,571.3 548.6,571.8 550.2,570.6 551.8,567.4 553.5,567.1 553.9,567.9 554.2,542.3 555.1,542.3 555.2,532 556.4,532 556.5,553.9 557.6,553.9 558,569.3 560.2,571.5 562.3,571.9 564.4,570 566.5,570.7 566.9,569.4 567.2,550.4 568.1,550.4 568.2,533.2 569.4,533.2 569.5,556.8 570.6,556.8 571,569.9 573.2,571.6 575.1,570.7 577.1,569 579,569.9 579.4,569.5 579.8,553.7 580.6,553.7 580.8,534.5 581.9,534.5 582,558.3 583.1,558.3 583.5,570 585.8,571.8 587.6,571.9 589.6,569.7 591.5,568.5 591.9,569.7 592.2,553.2 593.1,553.2 593.2,537 594.4,537 594.5,554 595.6,554 596,570.2 598.2,571.9 600.5,570.4 602.7,571.1 603.1,569.8 603.5,557.1 604.4,557.1 604.5,538.2 605.6,538.2 605.7,553.9 606.9,553.9 607.3,570.3 609.5,572 611.2,572.1 613,569.6 614.7,569.2 615.1,569.9 615.5,554.2 616.4,554.2 616.5,539.5 617.6,539.5 617.7,558 618.9,558 619.3,570.4 621.5,572.2 623.1,570.4 624.8,569.5 626.5,570.9 626.9,570.1 627.2,549.9 628.1,549.9 628.2,540.8 629.4,540.8 629.5,557 630.6,557 631,570.5 633.2,572.3 635.5,570.3 637.7,570.4 638.1,570.2 638.5,556.5 639.4,556.5 639.5,543.3 640.6,543.3 640.7,558.2 641.9,558.2 642.3,570.7 644.5,572.4 646.8,571.2 649,569.4 649.4,570.3 649.8,553.6 650.7,553.6 650.8,544.5 651.9,544.5 652,562.1 653.2,562.1 653.6,570.8 655.8,572.6 657.5,572.5 659.3,570.1 661,570.8 661.4,570.4 661.8,551.2 662.7,551.2 662.8,544.5 663.9,544.5 664,562.5 665.2,562.5 665.6,570.9 667.8,572.7 670.1,570.5 672.4,570.3 672.8,570.5 673.2,554.2 674.1,554.2 674.2,545.8 675.3,545.8 675.4,556.9 676.6,556.9 677,571 679.2,572.8 681.6,570.9 683.9,570 684.3,570.7 684.7,561.6 685.6,561.6 685.7,548.3 686.8,548.3 686.9,558.7 688.1,558.7 688.5,571.1 690.7,572.9 693,573.2 695.2,571.6 695.6,570.8 696,558.9 696.9,558.9 697,548.3 698.1,548.3 698.2,560.1 699.4,560.1 699.8,571.2 702,573 703.6,571.8 705.3,572.7 706.9,570.1 707.3,570.9 707.7,562.3 708.6,562.3 708.7,549.5 709.8,549.5 709.9,564.2 711.1,564.2 711.5,571.4 713.7,573.1 716,571.8 718.2,572 718.6,571 719,561 719.9,561 720,549.5 721.1,549.5 721.2,558.4 722.4,558.4 722.8,571.5 725,573.2 727.4,572.6 729.7,570 730.1,571.1 730.5,562.2 731.4,562.2 731.5,552 732.6,552 732.7,561 733.9,561 734.3,571.6 736.5,573.4 738.8,573.7 741,570.4 741.4,571.2 741.8,557.3 742.7,557.3 742.8,552 743.9,552 744,560 745.2,560 745.6,571.7 747.8,573.5 749.4,572.1 751.1,572.8 752.7,570.9 753.1,571.3 753.5,562 754.4,562 754.5,553.3 755.6,553.3 755.7,564 756.9,564 757.3,571.8 759.5,573.6 761.8,572 764,570.3 764.4,571.5 764.8,560.9 765.7,560.9 765.8,553.3 766.9,553.3 767,561.8 768.2,561.8 768.6,571.9 770.8,573.7 772.5,571.9 774.3,572.5 776,570.9 776.4,571.6 776.8,564.2 777.7,564.2 777.8,554.7 778.9,554.7 779,562.7 780.2,562.7 780.6,572.1 782.8,573.8 784.6,573.4 786.4,572.1 788.2,571.6 788.6,571.7 789,560.2 789.9,560.2 790,554.7 791.1,554.7 791.2,562.2 792.4,562.2 792.8,572.2 795,574 796.9,575 798.8,573.5 800.7,573.4 801.1,573.3 801.5,566.1 802.4,566.1 802.5,555.8 803.6,555.8 803.7,563.1 804.9,563.1 805.3,572.8 807.5,574 809.4,574.4 811.3,573.1 813.2,572.8 813.6,573.4 814,565.8 814.9,565.8 815,555.8 816.1,555.8 816.2,566.3 817.4,566.3 817.8,572.9 820,574.1 821.9,574.6 823.8,574.2 825.7,573 826.1,573.4 826.5,562.6 827.4,562.6 827.5,555.8 828.6,555.8 828.7,563.3 829.9,563.3 830.3,572.9 832.5,574.2 834.1,573.4 835.8,574.1 837.4,574.2 837.8,573.5 838.2,564.9 839.1,564.9 839.2,557 840.3,557 840.4,564 841.6,564 842,573 844.2,574.2 846.2,573.5 848.2,574.5 850.2,574.2 850.6,573.6 851,563.8 851.9,563.8 852,557 853.1,557 853.2,567 854.4,567 854.8,573 857,574.3 858.7,574.2 860.5,573.7 862.2,573 862.6,573.6 863,565.7 863.9,565.7 864,558.2 865.1,558.2 865.2,568.2 866.4,568.2 866.8,573.1 869,574.3 870.8,573.3 872.6,574.7 874.4,573.2 874.8,573.7 875.2,567.1 876.1,567.1 876.2,558.2 877.3,558.2 877.4,568.3 878.6,568.3 879,573.2 881.2,574.4 883,574.5 884.9,573.6 886.7,574.3 887.1,573.7 887.5,564.5 888.4,564.5 888.5,559.3 889.6,559.3 889.7,565.1 890.9,565.1 891.3,573.2 893.5,574.5 895.4,574.4 897.3,573.7 899.2,573.3 899.6,573.8 900,568.9 900.9,568.9 901,559.7 902.1,559.7 902.2,569.4 903.4,569.4 903.8,573.3 906,574.5 907.7,574.7 909.5,573.4 911.2,573.4 911.6,573.9 912,566 912.9,566 913,560.7 914.1,560.7 914.2,567.8 915.4,567.8 915.8,573.3 918,574.6 919.7,574.5 921.5,574.7 923.2,574.1 923.6,573.9 924,568.3 924.9,568.3 925,560.7 926.1,560.7 926.2,569 927.4,569 927.8,573.4 930,574.6 931.9,574.1 933.8,574.9 935.7,573.5 936.1,574 936.5,567.6 937.4,567.6 937.5,560.7 938.6,560.7 938.7,566.7 939.9,566.7 940.2,574.5 941.2,570 942.2,574.7 944,573.7 945.9,573.9 947.7,574 948.1,574 948.5,568.7 949.4,568.7 949.5,561.8 950.6,561.8 950.7,568.8 951.9,568.8 952.2,574.5 953.2,570.4 954.2,574.8 956.1,573.8 958,573.8 959.9,573.9 960.3,574.1 960.7,566.3 961.6,566.3 961.7,549.5 962.8,549.5 962.9,560 964.1,560 964.4,574.6 965.4,566.7 966.4,574.8 968.2,574.7 969.9,573.8 971.7,573.9 972.1,574.2 972.5,570 973.4,570 973.5,560.7 974.6,560.7 974.7,568.1 975.9,568.1 976.2,574.7 977.2,570.1 978.2,574.9 980.5,575.2 982.7,575 983.1,574.2 983.5,568 984.4,568 984.5,563 985.6,563 985.7,570.4 986.9,570.4 987.2,574.7 988.2,570.9 989.2,574.9 991.5,574.9 993.7,574.6 994.1,574.3 994.5,568.4 995.4,568.4 995.5,563 996.6,563 996.7,567.7 997.9,567.7 998.2,574.8 999.2,570.9 1000.2,575 1002.3,574.8 1004.5,573.7 1004.9,574.3 1005.2,569.1 1006.1,569.1 1006.2,563.7 1007.4,563.7 1007.5,568.6 1008.6,568.6 1009,574.8 1010,571.1 1011,575 1013.2,573.9 1015.4,573.5 1015.8,574.4 1016.2,571.1 1017.1,571.1 1017.2,564.5 1018.3,564.5 1018.4,570.1 1019.6,570.1 1019.9,574.9 1020.9,571.4 1021.9,575.1 1023.9,575.4 1025.9,574.7 1026.3,574.4 1026.7,571 1027.6,571 1027.7,564.5 1028.8,564.5 1028.9,568.9 1030.1,568.9 1030.4,574.9 1031.4,571.4 1032.4,575.1 1034.7,575.5 1037,573.6 1037.4,574.4 1037.8,571 1038.7,571 1038.8,565.7 1039.9,565.7 1040,570.6 1041.2,570.6 1041.5,574.9 1042.5,571.8 1043.5,575.1 1045.6,575 1047.7,574.4 1048.1,574.4 1048.5,569.4 1049.4,569.4 1049.5,566 1050.6,566 1050.7,569.8 1051.9,569.8 1052.2,574.9 1053.2,571.9 1054.2,575.2 1056.3,575.2 1058.5,574.2 1058.8,574.5 1059.2,569.5 1060.2,569.5 1060.2,566 1061.3,566 1061.5,570.8 1062.7,570.8 1063,575 1064,571.9 1065,575.2 1067.3,575.7 1069.7,573.8 1070.1,574.5 1070.5,570.7 1071.4,570.7 1071.5,566 1072.6,566 1072.7,570.1 1073.9,570.1 1074.2,575 1075.2,572 1076.2,575.2 1078.2,575 1080.2,574.9 1080.6,574.5 1081,570.8 1081.9,570.8 1082,566 1083.1,566 1083.2,571.2 1084.4,571.2 1084.7,575 1085.7,572 1086.7,575.3 1088.8,575.6 1091,575 1091.4,574.6 1091.8,571.3 1092.7,571.3 1092.8,566.7 1093.9,566.7 1094,571.9 1095.2,571.9 1095.5,575.1 1096.5,572.2 1097.5,575.3 1099.7,575.3 1102,575.1 1102.3,574.6 1102.8,571.6 1103.7,571.6 1103.8,567.2 1104.8,567.2 1105,570.2 1106.2,570.2 1106.5,575.1 1107.5,572.4 1108.5,575.3 1110.7,575.7 1112.9,574.4 1113.3,574.6 1113.7,570.3 1114.6,570.3 1114.7,567.2 1115.8,567.2 1115.9,571 1117.1,571 1117.4,575.1 1118.4,572.4 1119.4,575.4 1121.6,575.3 1123.7,575.4 1124.1,574.7 1124.5,571.8 1125.4,571.8 1125.5,568.2 1126.6,568.2 1126.7,572.1 1127.9,572.1 1128.2,575.2 1129.2,572.7 1130.2,575.4 1132.2,575.7 1134.2,574.6 1134.6,574.7 1135,572.6 1135.9,572.6 1136,568.2 1137.1,568.2 1137.2,572.2 1138.4,572.2 1138.7,575.2 1139.7,572.8 1140.7,575.4 1143.1,575.6 1145.5,575.4 1145.8,574.7 1146.2,571.2 1147.2,571.2 1147.2,568.2 1148.3,568.2 1148.5,571.1 1149.7,571.1 1150,575.2 1151,572.8 1152,575.5 1154,575.2 1156,575 1156.3,574.8 1156.8,572.1 1157.7,572.1 1157.8,568.2 1158.8,568.2 1159,571.3 1160.2,571.3 1160.5,575.3 1161.5,572.8 1162.5,575.5 1164.7,574.9 1166.9,574.9 1167.3,574.8 1167.7,571.7 1168.6,571.7 1168.7,569 1169.8,569 1169.9,571.9 1171.1,571.9 1171.4,575.3 1172.4,573.1 1173.4,575.5 1175.1,575.5 1176.8,574.4 1178.5,575.1 1178.8,574.8 1179.2,572.3 1180.2,572.3 1180.2,569.7 1181.3,569.7 1181.5,572.1 1182.7,572.1 1183,575.3 1184,573.3 1185,575.6 1186.8,576.2 1188.6,575.7 1190.5,575.3 1190.8,574.9 1191.2,572.6 1192.2,572.6 1192.2,569.3 1193.3,569.3 1193.5,572 1194.7,572 1195,575.4 1196,573.2 1197,575.6 1199,575.2 1201,575.5 1203,575 1203.4,574.9 1203.8,572.8 1204.7,572.8 1204.8,569.5 1205.9,569.5 1206,572.5 1207.2,572.5 1207.5,575.4 1208.5,573.3 1209.5,575.6 1211.4,575.3 1213.3,575.7 1215.2,574.2 1215.6,574.9 1216,572 1216.9,572 1217,569.5 1218.1,569.5 1218.2,572.2 1219.4,572.2 1219.7,575.4 1220.7,573.3 1221.7,575.6 1223.6,575.8 1225.5,574.4 1227.5,575.1 1227.8,574.9 1228.2,572.8 1229.2,572.8 1229.2,569.5 1230.3,569.5 1230.5,571.8 1231.7,571.8 1232,575.4 1233,573.3 1234,575.6 1235.8,575.4 1237.6,574.7 1239.5,575.3 1239.8,575 1240.2,572.3 1241.2,572.3 1241.2,569.5 1242.3,569.5 1242.5,572.4 1243.7,572.4 1244,575.5 1245,573.3 1246,575.7 1247.8,575.4 1249.6,575.4 1251.5,575.7 1251.8,575 1252.2,573.5 1253.2,573.5 1253.2,570 1254.3,570 1254.5,572.7 1255.7,572.7 1256,575.5 1257,573.5 1258,575.7 1259.8,575 1261.6,574.4 1263.5,574.7 1263.8,575 1264.2,573.1 1265.2,573.1 1265.2,570 1266.3,570 1266.5,572.5 1267.7,572.5 1268,575.5 1269,573.5 1270,575.7 1271.8,575.8 1273.6,574.7 1275.5,574.5 1275.8,575 1276.2,573 1277.2,573 1277.2,570.5 1278.3,570.5 1278.5,572.6 1279.7,572.6 1280,575.5 1281,573.7 1282,575.7 1283.8,576.2 1285.6,575.5 1287.5,574.9 1287.8,575 1288.2,572.8 1289.2,572.8 1289.2,570.5 1290.3,570.5 1290.5,572.6 1291.7,572.6 1292,575.5 1293,573.7 1294,575.7 1295.8,576.2 1297.6,575 1299.5,575.3 1299.8,575 1300.2,573.4 1301.2,573.4 1301.2,571 1302.3,571 1302.5,573 1303.7,573 1304,575.5 1305,573.8 1306,575.7 1307.6,575 1309.3,575.2 1311,575.6 1311.4,575.1 1311.8,572.9 1312.7,572.9 1312.8,571 1313.9,571 1314,572.8 1315.2,572.8 1315.5,575.6 1316.5,573.8 1317.5,575.8 1319.5,576.2 1321.5,575.9 1323.5,574.9 1323.8,575.1 1324.2,573.6 1325.2,573.6 1325.2,571.5 1326.3,571.5 1326.5,573.1 1327.7,573.1 1328,575.6 1329,574 1330,575.8 1332,575.6 1334,574.8 1334.3,575.1 1334.8,573.1 1335.7,573.1 1335.8,571.5 1336.8,571.5 1337,573.3 1338.2,573.3 1338.5,575.6 1339.5,574 1340.5,575.8 1342.8,574.8 1345.2,575.1 1345.6,575.1 1346,573.3 1346.9,573.3 1347,572 1348.1,572 1348.2,573.3 1349.4,573.3 1349.7,575.6 1350.7,574.2 1351.7,575.8 1354.1,576 1356.5,575.7 1356.8,575.1 1357.2,573.7 1358.2,573.7 1358.2,572 1359.3,572 1359.5,573.7 1360.7,573.7 1361,575.6 1362,574.2 1363,575.8 1365,575.8 1367,575.9 1367.3,575.1 1367.8,574 1368.7,574 1368.8,572 1369.8,572 1370,573.4 1371.2,573.4 1371.5,575.6 1372.5,574.2 1373.5,575.8 1375.5,575.1 1377.5,574.6 1377.8,575.1 1378.2,573.6 1379.2,573.6 1379.2,572.5 1380.3,572.5 1380.5,574 1381.7,574 1382,575.6 1383,574.4 1384,575.9 1386.3,575.4 1388.7,574.8 1389.1,575.2 1389.5,573.8 1390.4,573.8 1390.5,572.5 1391.6,572.5 1391.7,573.8 1392.9,573.8 1393.2,575.7 1394.2,574.4 1395.2,575.9 1397.2,575 1399.2,575 1399.6,575.2 1400,574 1400.9,574 1401,573 1402.1,573 1402.2,574.4 1403.4,574.4 1403.7,575.7 1404.7,574.5 1405.7,575.9 1407.7,575.7 1409.7,575.2 1410.1,575.2 1410.5,574 1411.4,574 1411.5,573 1412.6,573 1412.7,574.2 1413.9,574.2 1414.2,575.7 1415.2,574.5 1416.2,575.9 1417.8,575.4 1419.5,576.1"/>
<polyline stroke="#000" points="261,577.3 263,576.9 265,576.8 267,576.4 269,576.5 271,576.2 273,577.1 275,576.8 277,576.6 279,577.1 281,577 283,577.4 285,577.1 287,576.9 289,576.6 291,576.8 293,576.9 295,577 297,576.4 299,577.2 301,576.3 303,576.2 305,576.9 307,576.6 309,576.5 311,577.1 313,576.5 315,577.1 317,577.2 319,576.9 321,576.9 323,576.4 325,576.3 327,576.2 329,577 331,577.2 333,576.8 335,577.1 337,577.4 339,576.4 341,576.8 343,577.3 345,576.5 347,576.8 349,576.9 351,576.5 353,577.3 355,576.6 357,577.2 359,577 361,577 363,577 365,576.6 367,577.1 369,576.9 371,576.3 373,576.6 375,577.2 377,577.3 379,576.9 381,576.5 383,576.8 385,576.3 387,577.1 389,577.2 391,577 393,576.7 395,576.3 397,576.8 399,576.8 401,576.8 403,577.3 405,577.3 407,576.8 409,577 411,576.5 413,576.6 415,577.4 417,576.7 419,577.2 421,576.9 423,576.5 425,576.5 427,577.2 429,576.3 431,576.3 433,576.7 435,576.5 437,576.5 439,577 441,577.2 443,576.6 445,577.2 447,577.1 449,577 451,576.3 453,577 455,577.4 457,575.2 459,576.4 461,576.8 463,576.9 465,577.2 467,576.9 469,576.4 471,577.2 473,576.7 475,576.9 477,577.2 479,576.6 481,577.1 483,576.6 485,577.4 487,576.4 489,577.1 491,576.2 493,577.1 495,576.8 497,576.7 499,576.6 501,577.2 503,576.7 505,576.6 507,576.7 509,577.2 511,577.4 513,576.9 515,576.9 517,577.4 519,576.7 521,577.2 523,576.7 525,576.2 527,577.4 529,577.1 531,576.5 533,576.9 535,576.9 537,576.9 539,576.3 541,576.4 543,576.6 545,577.1 547,576.8 549,576.6 551,576.5 553,576.8 555,577.1 557,577.4 559,577.1 561,577.3 563,577 565,577 567,577.3 569,576.3 571,576.3 573,577.2 575,577.3 577,576.8 579,576.9 581,577 583,576.4 585,577.1 587,577.2 589,576.5 591,577 593,575.8 595,577.1 597,576.9 599,577 601,577.2 603,576.9 605,577.3 607,577.2 609,576.6 611,576.9 613,576.4 615,577.2 617,576.4 619,577.4 621,576.7 623,577.2 625,576.8 627,577.3 629,577.2 631,576.9 633,577.1 635,577.3 637,576.8 639,576.4 641,577.4 643,576.3 645,576.6 647,576.8 649,576.9 651,576.2 653,577.4 655,577.1 657,576.9 659,577.1 661,576.3 663,576.5 665,576.8 667,576.6 669,576.7 671,577.2 673,577 675,577.1 677,577.3 679,576.2 681,577.1 683,576.3 685,577.1 687,577.4 689,577 691,576.4 693,576.8 695,577.3 697,576.9 699,577.3 701,577.1 703,576.7 705,575.7 707,576.6 709,576.8 711,577.3 713,577 715,576.5 717,576.9 719,577.4 721,577.3 723,576.3 725,577 727,577.3 729,577 731,577.4 733,577.1 735,577.1 737,576.9 739,577.2 741,576.7 743,577.1 745,576.3 747,576.3 749,577.2 751,576.3 753,576.6 755,577.1 757,577.1 759,577.2 761,577.3 763,576.5 765,577.1 767,577.1 769,577.2 771,577 773,576.8 775,577.3 777,576.7 779,577.3 781,576.4 783,577.3 785,576.3 787,576.9 789,577.2 791,576.8 793,576.9 795,577.1 797,576.4 799,576.2 801,577.4 803,576.4 805,576.5 807,577 809,576.4 811,576.4 813,577.3 815,576.8 817,576.3 819,577.1 821,576.7 823,576.8 825,576.3 827,576.5 829,576.4 831,576.4 833,576.5 835,576.3 837,576.8 839,576.8 841,576.3 843,576 845,576.9 847,576.2 849,576.6 851,576.2 853,577.3 855,577 857,577.2 859,576.8 861,577.2 863,577 865,577.4 867,576.6 869,576.5 871,577.3 873,577.2 875,576.9 877,577.3 879,576.3 881,576.5 883,576.3 885,576.9 887,576.5 889,576.3 891,577.3 893,577.2 895,577.1 897,577.1 899,576.5 901,576.6 903,577.1 905,577.3 907,577.3 909,576.4 911,576.2 913,576.8 915,576.5 917,576.8 919,576.9 921,577.1 923,577.2 925,577.2 927,576.9 929,576.8 931,577.3 933,576.6 935,577.2 937,577 939,576.1 941,576.7 943,576.9 945,576.4 947,577.1 949,576.6 951,576.9 953,576.8 955,576.6 957,576.5 959,576.9 961,576.4 963,576.5 965,576.8 967,576.4 969,576.7 971,576.8 973,576.4 975,576.7 977,576.9 979,577.4 981,576.2 983,577 985,577.1 987,576.6 989,576.2 991,577.4 993,576.7 995,576.9 997,576.6 999,577 1001,577 1003,576.7 1005,576.5 1007,577.1 1009,575.2 1011,577 1013,577.3 1015,577.1 1017,577 1019,576.5 1021,576.2 1023,576.9 1025,577.1 1027,576.5 1029,576.5 1031,576.8 1033,577.2 1035,576.6 1037,576.3 1039,577.3 1041,576.6 1043,577.1 1045,576.5 1047,577 1049,576.8 1051,577.1 1053,576.9 1055,576.9 1057,577.4 1059,577.1 1061,576.6 1063,576.5 1065,576.7 1067,576.8 1069,577 1071,576.8 1073,577.2 1075,577 1077,576.7 1079,577 1081,576.3 1083,576.3 1085,576.6 1087,576.7 1089,576.5 1091,576.5 1093,576.8 1095,575.4 1097,577.3 1099,576.6 1101,577 1103,577.2 1105,576.4 1107,576.7 1109,576.3 1111,576.9 1113,577.2 1115,576.8 1117,577.1 1119,576.6 1121,576.2 1123,576.3 1125,575.7 1127,576.5 1129,576.8 1131,576.3 1133,577.4 1135,577 1137,576.5 1139,576.5 1141,576.7 1143,576.5 1145,577.1 1147,577.4 1149,577.2 1151,577.3 1153,577.2 1155,576.7 1157,577.1 1159,576.4 1161,576.4 1163,576.4 1165,576.6 1167,577.3 1169,577.1 1171,576.6 1173,575.9 1175,577.3 1177,576.8 1179,577.1 1181,576.8 1183,576.8 1185,575.4 1187,577.2 1189,577.2 1191,577 1193,576.9 1195,577.2 1197,576.9 1199,576.3 1201,576.6 1203,577.4 1205,576.4 1207,576.8 1209,576.5 1211,577.3 1213,576.9 1215,577.1 1217,577.1 1219,576.4 1221,577.4 1223,577.3 1225,577 1227,577.1 1229,576.6 1231,576.8 1233,577.2 1235,576.5 1237,576.5 1239,576.7 1241,577 1243,576.3 1245,576.3 1247,576.7 1249,576.2 1251,576.4 1253,577.2 1255,576.9 1257,576.5 1259,577 1261,577.3 1263,576.4 1265,576.4 1267,576.8 1269,576.6 1271,576.6 1273,576.4 1275,576.4 1277,576.2 1279,577.2 1281,576.6 1283,577.2 1285,576.9 1287,576.6 1289,576.5 1291,576.8 1293,576.4 1295,576.2 1297,576.4 1299,577.2 1301,577 1303,576.3 1305,577.1 1307,576.6 1309,577 1311,576.7 1313,576.9 1315,576.4 1317,577.3 1319,576.4 1321,576.9 1323,576.8 1325,577 1327,576.7 1329,576.8 1331,576.6 1333,576.9 1335,575.5 1337,576.4 1339,576.4 1341,576.8 1343,576.6 1345,576.6 1347,576.5 1349,577.1 1351,576.3 1353,576.4 1355,576.9 1357,577.1 1359,577 1361,576.3 1363,577.1 1365,576.2 1367,576.9 1369,575.9 1371,577.2 1373,577.2 1375,577.1 1377,577.2 1379,577.1 1381,576.5 1383,576.4 1385,576.8 1387,576.8 1389,577.3 1391,576.9 1393,577.3 1395,576.8 1397,576.4 1399,576.9 1401,576.4 1403,574.9 1405,577.1 1407,577.1 1409,577.3 1411,576.5 1413,577 1415,576.3 1417,576.2 1419,576.8"/>
<polyline stroke="#ff1010" points="261,575.1 261.9,575.3 262.8,575.8 263.7,576 264.6,576.1 265.5,575.7 266.4,575.8 267.3,574.1 268.2,575.7 269.1,575.1 270,575.7 270.9,576.1 271.8,575.7 272.7,575.8 273.6,576.5 274.5,576.1 275.4,575.9 276.3,576.3 277.2,573.9 278.1,574.6 279,575.6 279.9,575.4 280.8,576.5 281.7,575.3 282.6,575.1 283.5,575.7 284.4,576 285.3,574.7 286.2,575.3 287.1,575.4 288,576.6 288.9,575.4 289.8,576.5 290.7,575.7 291.6,575.2 292.5,573.9 293.4,576.2 294.3,575 295.2,574.7 296.1,576.2 297,575.5 297.9,575.6 298.8,575.8 299.7,576.1 300.6,576 301.5,575.3 302.4,576.2 303.3,575.5 304.2,575.9 305.1,574.9 306,575.5 306.9,574.6 307.8,575.3 308.7,575 309.6,576.5 310.5,575.1 311.4,575.5 312.3,575.2 313.2,576.7 314.1,574.3 315,576.2 315.9,575.6 316.8,576.3 317.7,575.5 318.6,574.8 319.5,574.2 320.4,574.5 321.3,575.1 322.2,575 323.1,574 324,573.9 324.9,577.3 325.8,574.7 326.7,574.3 327.6,576.9 328.5,573.9 329.4,576.1 330.3,576.6 331.2,575.8 332.1,576.8 333,574.6 333.9,574.5 334.8,575.6 335.7,576.6 336.6,574.7 337.5,576.7 338.4,575.3 339.3,574.7 340.2,574.4 341.1,574.9 342,576.8 342.9,575.7 343.8,575.8 344.7,574.4 345.6,576 346.5,576.4 347.4,574.6 348.3,575.6 349.2,576.5 350.1,575.9 351,575.2 351.9,576.6 352.8,576.5 353.7,575.9 354.6,575.1 355.5,574.6 356.4,574.5 357.3,574.7 358.2,575.2 359.1,575.5 360,575.2 360.9,575.1 361.8,576.5 362.7,573.4 363.6,575.6 364.5,574.6 365.4,575.1 366.3,574.4 367.2,576.4 368.1,575.5 369,575.6 369.9,575.2 370.8,576.7 371.7,575.5 372.6,574.4 373.5,576.4 374.4,575.3 375.3,574.4 376.2,574.8 377.1,576.2 378,575.5 378.9,574 379.8,575.8 380.7,575.1 381.6,576.4 382.5,575.4 383.4,575 384.3,576.3 385.2,576.1 386.1,576.1 387,575.2 387.9,575.8 388.8,575.7 389.7,575.7 390.6,575.9 391.5,576.1 392.4,575.3 393.3,575.2 394.2,575.2 395.1,575.4 396,575.3 396.9,575.8 397.8,575.3 398.7,575.7 399.6,575.1 400.5,575.9 401.4,576.1 402.3,575.2 403.2,575.4 404.1,575.2 405,575.6 405.9,575.5 406.8,575.9 407.7,575.2 408.6,575.9 409.5,574.9 410.4,575.7 411.3,575.8 412.2,575.5 413.1,575.1 414,574.7 414.9,575.7 415.8,576.4 416.7,575.6 417.6,576 418.5,574.9 419.4,576.5 420.3,575.4 421.2,575.9 422.1,575.4 423,575.8 423.9,574.9 424.8,574.3 425.7,575.2 426.6,575.5 427.5,574.7 428.4,575.1 429.3,576.1 430.2,575.2 431.1,576 432,574.9 432.9,575.1 433.8,575.4 434.7,576.3 435.6,576.3 436.5,574.8 437.4,576.1 438.3,576.2 439.2,574.8 440.1,575.3 441,576.2 441.9,575.3 442.8,575.1 443.7,575.4 444.6,575.9 445.5,576.4 446.4,575.5 447.3,575.3 448.2,574.8 449.1,575 450,575.3 450.9,575 451.8,575.1 452.7,576.7 453.6,574.8 454.5,574.9 455.4,576.9 456.3,574.2 457.2,575.9 458.1,575.3 459,574 459.9,576.2 460.8,575.6 461.7,575.7 462.6,575.6 463.5,574.7 464.4,574.1 465.3,574.7 466.2,575.6 467.1,574.3 468,576.2 468.9,575.6 469.8,574 470.7,576.6 471.6,574.3 472.5,576.7 473.4,574.4 474.3,576.7 475.2,574.8 476.1,574.4 477,575.9 477.9,576.6 478.8,575 479.7,574.6 480.6,576.3 481.5,575 482.4,576.2 483.3,576.3 484.2,576.2 485.1,576.2 486,576.8 486.9,575 487.8,574.6 488.7,576.3 489.6,575.7 490.5,574.6 491.4,575.6 492.3,576 493.2,576.3 494.1,576.1 495,576.8 495.9,575.8 496.8,575.4 497.7,575.3 498.6,576.2 499.5,576.2 500.4,573.9 501.3,576.3 502.2,575 503.1,575 504,576.6 504.9,575.1 505.8,574.8 506.7,575.5 507.6,574.4 508.5,576.9 509.4,575.6 510.3,576.4 511.2,574.4 512.1,576.6 513,576.6 513.9,576.8 514.8,576.5 515.7,576.4 516.6,575.6 517.5,576.1 518.4,575.8 519.3,574.9 520.2,576.2 521.1,575.3 522,575.3 522.9,575.2 523.8,575.2 524.7,575.9 525.6,575.8 526.5,575.8 527.4,575.5 528.3,575.9 529.2,575.1 530.1,575.8 531,575.5 531.9,575.1 532.8,575.9 533.7,575.6 534.6,575.7 535.5,574.6 536.4,576 537.3,576.1 538.2,575.7 539.1,575.7 540,575.4 540.9,576.1 541.8,575.4 542.7,575.1 543.6,576 544.5,575.9 545.4,575.3 546.3,576.3 547.2,575.1 548.1,575.8 549,576 549.9,576.5 550.8,573.6 551.7,574.9 552.6,575.8 553.5,575 554.4,575.1 555.3,576 556.2,575.5 557.1,575.7 558,576.4 558.9,574.9 559.8,574.9 560.7,575.4 561.6,575.6 562.5,574.7 563.4,575.4 564.3,574.9 565.2,575.9 566.1,575.5 567,576.4 567.9,576.1 568.8,576.2 569.7,575.3 570.6,576.2 571.5,575.6 572.4,574.7 573.3,575.3 574.2,575.8 575.1,575.6 576,575.3 576.9,575.4 577.8,575.7 578.7,575.5 579.6,576.2 580.5,575.1 581.4,576 582.3,575.7 583.2,575.9 584.1,576.3 585,576.5 585.9,576 586.8,575.1 587.7,576.5 588.6,575.7 589.5,574.9 590.4,576.2 591.3,575.8 592.2,575 593.1,575.2 594,574.5 594.9,574.9 595.8,575.5 596.7,576.3 597.6,574.5 598.5,576.5 599.4,574 600.3,576.5 601.2,574.2 602.1,575.3 603,576.1 603.9,576.7 604.8,576.9 605.7,574.5 606.6,577 607.5,576.4 608.4,574.4 609.3,575.6 610.2,574.5 611.1,576.8 612,576.2 612.9,576.7 613.8,574.7 614.7,574.7 615.6,575.6 616.5,574.9 617.4,574.4 618.3,574.6 619.2,575.1 620.1,576.6 621,576.5 621.9,575.5 622.8,576 623.7,575 624.6,574.9 625.5,574.4 626.4,576.4 627.3,574.8 628.2,575 629.1,574.8 630,576.3 630.9,576.1 631.8,575 632.7,575.5 633.6,575.4 634.5,576.4 635.4,576.3 636.3,576 637.2,576.9 638.1,576.3 639,574.6 639.9,575.8 640.8,575.1 641.7,574.5 642.6,575.7 643.5,576.3 644.4,575.8 645.3,575.7 646.2,575.2 647.1,574.6 648,575.6 648.9,576.4 649.8,575.5 650.7,574.7 651.6,574.6 652.5,575.3 653.4,575.8 654.3,574.6 655.2,575.8 656.1,575.2 657,576.7 657.9,574.7 658.8,575 659.7,575.6 660.6,575.4 661.5,574.9 662.4,575.3 663.3,575.1 664.2,575.5 665.1,574.9 666,575.1 666.9,574.4 667.8,576.1 668.7,575.7 669.6,576.1 670.5,575.9 671.4,575.4 672.3,575.8 673.2,575.5 674.1,575 675,576.1 675.9,575 676.8,576 677.7,575.1 678.6,575.8 679.5,576 680.4,576 681.3,575.4 682.2,575.9 683.1,576.3 684,574.8 684.9,575.9 685.8,575.3 686.7,575.7 687.6,575.6 688.5,575.2 689.4,576.3 690.3,574.9 691.2,576.2 692.1,576.4 693,575.4 693.9,576 694.8,576.2 695.7,576 696.6,576.1 697.5,576.2 698.4,575.9 699.3,575.3 700.2,575.2 701.1,575.4 702,576.2 702.9,574.8 703.8,575.7 704.7,576 705.6,575.2 706.5,575.1 707.4,575.4 708.3,576.1 709.2,575.6 710.1,575.8 711,575.1 711.9,576.2 712.8,575.1 713.7,575.2 714.6,575.5 715.5,575 716.4,576.1 717.3,575.5 718.2,575.3 719.1,575.2 720,576.2 720.9,576.2 721.8,575.8 722.7,575.4 723.6,575.8 724.5,575.2 725.4,575.7 726.3,575.1 727.2,576.7 728.1,576.4 729,574.8 729.9,576.1 730.8,575.7 731.7,575.9 732.6,574.4 733.5,574.3 734.4,574.3 735.3,576.1 736.2,576.2 737.1,576.6 738,576.7 738.9,575.4 739.8,576.2 740.7,576.8 741.6,574.3 742.5,573.7 743.4,574.6 744.3,575.6 745.2,576.2 746.1,576.2 747,575.4 747.9,576.2 748.8,574.6 749.7,575.3 750.6,574.3 751.5,575.2 752.4,575.7 753.3,576.9 754.2,574.3 755.1,576 756,576.6 756.9,575 757.8,576.1 758.7,574.9 759.6,574.7 760.5,576.1 761.4,575.1 762.3,575.4 763.2,575.8 764.1,575.7 765,576.4 765.9,574.3 766.8,575.5 767.7,576.3 768.6,574.4 769.5,576.2 770.4,576.1 771.3,576.1 772.2,576.9 773.1,574.2 774,575.1 774.9,575.9 775.8,574.2 776.7,577 777.6,576.2 778.5,574.1 779.4,574.5 780.3,575.4 781.2,576.4 782.1,574.2 783,576.6 783.9,576.7 784.8,576.3 785.7,576.7 786.6,576.6 787.5,575.7 788.4,576 789.3,577 790.2,576.8 791.1,575.1 792,575.8 792.9,575.5 793.8,575.4 794.7,575 795.6,576 796.5,576.1 797.4,575.3 798.3,575.7 799.2,575.2 800.1,574.1 801,575.4 801.9,574.9 802.8,575.2 803.7,575.9 804.6,575.5 805.5,575.5 806.4,575.5 807.3,575.7 808.2,575.3 809.1,576.1 810,575.8 810.9,574.9 811.8,576.3 812.7,575.9 813.6,575.2 814.5,575.5 815.4,575.2 816.3,575.7 817.2,574.3 818.1,576.2 819,576.4 819.9,575.4 820.8,574.1 821.7,575.6 822.6,575 823.5,575 824.4,575.9 825.3,575.8 826.2,575.7 827.1,575.3 828,574.6 828.9,576.3 829.8,576.4 830.7,576.2 831.6,575.4 832.5,575.7 833.4,574.7 834.3,574.7 835.2,576 836.1,575.9 837,575.9 837.9,575.9 838.8,576.2 839.7,576.3 840.6,573.8 841.5,576.1 842.4,576.1 843.3,575.8 844.2,576.2 845.1,575.3 846,575.1 846.9,576 847.8,575.3 848.7,575.3 849.6,575.9 850.5,575.8 851.4,575.9 852.3,576 853.2,575.9 854.1,575.4 855,575.7 855.9,575.7 856.8,575.8 857.7,575.4 858.6,575.9 859.5,575.4 860.4,576.2 861.3,575.8 862.2,576.1 863.1,576 864,576.1 864.9,575.4 865.8,575.9 866.7,574.8 867.6,576.5 868.5,576.3 869.4,575.8 870.3,574.6 871.2,575.9 872.1,575.8 873,574.5 873.9,576.9 874.8,575.2 875.7,574.9 876.6,574.6 877.5,574.8 878.4,575.5 879.3,574.4 880.2,574.2 881.1,574.2 882,575.4 882.9,574.9 883.8,575.2 884.7,576.3 885.6,575.9 886.5,576.6 887.4,576.7 888.3,574.4 889.2,576.6 890.1,575.2 891,575.2 891.9,576.1 892.8,576 893.7,576 894.6,574.7 895.5,575.8 896.4,576 897.3,574.8 898.2,574.4 899.1,574.9 900,574.6 900.9,575.6 901.8,573.7 902.7,575.7 903.6,576.2 904.5,576.4 905.4,576.6 906.3,576.9 907.2,574.7 908.1,576.8 909,575.9 909.9,574.4 910.8,574.1 911.7,575.5 912.6,576 913.5,576.4 914.4,575.6 915.3,577 916.2,576.7 917.1,574.5 918,576.9 918.9,575.7 919.8,574.1 920.7,576.4 921.6,576.9 922.5,576.8 923.4,575.5 924.3,574.6 925.2,574.8 926.1,574.6 927,573.7 927.9,574.6 928.8,576.6 929.7,575.1 930.6,574.2 931.5,575.6 932.4,576.3 933.3,574.9 934.2,575.4 935.1,576.8 936,575.5 936.9,575.9 937.8,574.6 938.7,574.9 939.6,575.3 940.5,573.2 941.4,575.9 942.3,574.2 943.2,576.3 944.1,576.2 945,575 945.9,574.8 946.8,576.4 947.7,574.4 948.6,574.9 949.5,575.1 950.4,575.9 951.3,575 952.2,575.4 953.1,575.7 954,575.9 954.9,575.9 955.8,574.9 956.7,575.9 957.6,576.5 958.5,576.2 959.4,575.8 960.3,574.7 961.2,576 962.1,576.2 963,575.6 963.9,575.5 964.8,576.2 965.7,574.7 966.6,576.2 967.5,576 968.4,576.3 969.3,575 970.2,576.3 971.1,574.7 972,574.9 972.9,576.4 973.8,576.2 974.7,576.2 975.6,575.3 976.5,576 977.4,574.7 978.3,575.3 979.2,575.1 980.1,575.8 981,575.7 981.9,575.3 982.8,575.8 983.7,575.8 984.6,576 985.5,575.7 986.4,575.9 987.3,575.9 988.2,576 989.1,575.9 990,575.3 990.9,575.5 991.8,575.9 992.7,575.9 993.6,575.5 994.5,575.4 995.4,575.3 996.3,575.1 997.2,576 998.1,575.2 999,575.4 999.9,573.4 1000.8,575.9 1001.7,576.2 1002.6,576.4 1003.5,576 1004.4,574.9 1005.3,576.5 1006.2,574.9 1007.1,574.9 1008,576.3 1008.9,575 1009.8,574.8 1010.7,576 1011.6,574.6 1012.5,574.3 1013.4,575.6 1014.3,574.8 1015.2,575 1016.1,575.8 1017,574.6 1017.9,576.8 1018.8,575.4 1019.7,574.4 1020.6,574.6 1021.5,574.8 1022.4,574.4 1023.3,576.1 1024.2,575.6 1025.1,576.3 1026,576.2 1026.9,575.7 1027.8,576.7 1028.7,576.4 1029.6,575.7 1030.5,576.3 1031.4,576.5 1032.3,576.5 1033.2,575.5 1034.1,574.8 1035,574.8 1035.9,575.2 1036.8,575 1037.7,575.2 1038.6,575.3 1039.5,576.4 1040.4,575.8 1041.3,573.1 1042.2,574.4 1043.1,574.7 1044,576 1044.9,575.6 1045.8,574.8 1046.7,575 1047.6,576.2 1048.5,575.8 1049.4,574.2 1050.3,575.3 1051.2,576.5 1052.1,575.3 1053,574.8 1053.9,576.8 1054.8,576.2 1055.7,574.8 1056.6,575.7 1057.5,575.3 1058.4,574.5 1059.3,576.4 1060.2,573.4 1061.1,574.1 1062,577.1 1062.9,576.2 1063.8,574.9 1064.7,575.8 1065.6,575.7 1066.5,575.9 1067.4,577 1068.3,574.6 1069.2,574.7 1070.1,576.5 1071,574.8 1071.9,574.3 1072.8,576.1 1073.7,575.3 1074.6,576.3 1075.5,573.2 1076.4,575.7 1077.3,575.7 1078.2,576.2 1079.1,575.6 1080,575.6 1080.9,575.6 1081.8,575.4 1082.7,575.4 1083.6,576.1 1084.5,574.7 1085.4,575.1 1086.3,575.7 1087.2,575.5 1088.1,574.9 1089,576.1 1089.9,576.1 1090.8,574.6 1091.7,576 1092.6,574.9 1093.5,575.2 1094.4,575.6 1095.3,576.6 1096.2,575.7 1097.1,576.6 1098,575.3 1098.9,575.7 1099.8,575.7 1100.7,574.9 1101.6,575 1102.5,574.6 1103.4,574.8 1104.3,576.5 1105.2,575 1106.1,575.1 1107,574.7 1107.9,574.8 1108.8,576.2 1109.7,576.1 1110.6,575.2 1111.5,575.6 1112.4,575.1 1113.3,576.3 1114.2,576 1115.1,574.9 1116,576.2 1116.9,575.4 1117.8,574.2 1118.7,575 1119.6,575.6 1120.5,576 1121.4,576.1 1122.3,575.4 1123.2,575.4 1124.1,575.2 1125,575.6 1125.9,575.8 1126.8,575.2 1127.7,575.6 1128.6,575.6 1129.5,575.4 1130.4,575.9 1131.3,575.9 1132.2,575.7 1133.1,575.4 1134,575.7 1134.9,575.3 1135.8,576 1136.7,576.1 1137.6,574.5 1138.5,575 1139.4,576.1 1140.3,575 1141.2,576.3 1142.1,576.4 1143,576.4 1143.9,575.5 1144.8,574.6 1145.7,575.1 1146.6,575.5 1147.5,575.6 1148.4,576.7 1149.3,575.8 1150.2,576 1151.1,576.5 1152,575.7 1152.9,575.6 1153.8,576.4 1154.7,574.8 1155.6,574.7 1156.5,576.5 1157.4,576.2 1158.3,575.9 1159.2,574.7 1160.1,576.2 1161,576.4 1161.9,575.3 1162.8,574.9 1163.7,576.4 1164.6,575 1165.5,576.3 1166.4,576.5 1167.3,575.1 1168.2,575.2 1169.1,575.2 1170,575.6 1170.9,575.4 1171.8,575.9 1172.7,575.9 1173.6,574.7 1174.5,576.4 1175.4,575 1176.3,575.7 1177.2,575.8 1178.1,574.7 1179,575.5 1179.9,576.1 1180.8,575.8 1181.7,576.4 1182.6,576.8 1183.5,575.4 1184.4,575.5 1185.3,574.6 1186.2,574.3 1187.1,574.5 1188,574.1 1188.9,574.1 1189.8,576.1 1190.7,575.1 1191.6,575.4 1192.5,575.2 1193.4,574 1194.3,577 1195.2,576.5 1196.1,575.3 1197,574.2 1197.9,576.2 1198.8,577.3 1199.7,576 1200.6,576.9 1201.5,576 1202.4,574.7 1203.3,575.3 1204.2,575 1205.1,575.1 1206,576.9 1206.9,576.4 1207.8,576.8 1208.7,576 1209.6,575.8 1210.5,574.3 1211.4,574.6 1212.3,574.8 1213.2,574.8 1214.1,574.7 1215,575.9 1215.9,574.9 1216.8,576.7 1217.7,574.5 1218.6,575.7 1219.5,574.1 1220.4,574.7 1221.3,575.6 1222.2,575.5 1223.1,575.3 1224,576 1224.9,575.4 1225.8,574.8 1226.7,576.4 1227.6,575.4 1228.5,575 1229.4,575.2 1230.3,576.5 1231.2,575.2 1232.1,575.5 1233,574.7 1233.9,576.1 1234.8,575.1 1235.7,576.3 1236.6,576.6 1237.5,575.1 1238.4,575.5 1239.3,574.9 1240.2,575.1 1241.1,574.7 1242,575.7 1242.9,576.2 1243.8,575.3 1244.7,575.2 1245.6,574.6 1246.5,576.7 1247.4,575.3 1248.3,575.5 1249.2,575.4 1250.1,575.6 1251,575.7 1251.9,574.7 1252.8,575.4 1253.7,576 1254.6,575.1 1255.5,575.3 1256.4,575.8 1257.3,573.9 1258.2,576 1259.1,575.6 1260,575.6 1260.9,575.7 1261.8,575.4 1262.7,575.6 1263.6,575.2 1264.5,576 1265.4,575.8 1266.3,576 1267.2,575.2 1268.1,576 1269,575.7 1269.9,575.7 1270.8,575.9 1271.7,575.4 1272.6,576 1273.5,576 1274.4,575.6 1275.3,575.5 1276.2,575.6 1277.1,575.5 1278,575.3 1278.9,576.2 1279.8,575.7 1280.7,574.9 1281.6,574.9 1282.5,574.7 1283.4,576.3 1284.3,574.8 1285.2,575.8 1286.1,574.9 1287,575.4 1287.9,576.3 1288.8,576 1289.7,575.3 1290.6,576.6 1291.5,576.1 1292.4,576.3 1293.3,574.6 1294.2,575.3 1295.1,575.1 1296,575.6 1296.9,576.2 1297.8,575.1 1298.7,574.5 1299.6,575.2 1300.5,575.6 1301.4,574.9 1302.3,576 1303.2,574.8 1304.1,575.6 1305,575.9 1305.9,576.3 1306.8,575.7 1307.7,575.5 1308.6,575.5 1309.5,575.8 1310.4,574.9 1311.3,575.1 1312.2,573.8 1313.1,575.8 1314,575.8 1314.9,574.8 1315.8,576.3 1316.7,576.4 1317.6,575.1 1318.5,574.7 1319.4,575.6 1320.3,574.4 1321.2,576.3 1322.1,575 1323,574.8 1323.9,575.3 1324.8,576.9 1325.7,576.7 1326.6,576.8 1327.5,576.9 1328.4,576.1 1329.3,575.2 1330.2,574.4 1331.1,577.2 1332,575.4 1332.9,575 1333.8,576.4 1334.7,576.9 1335.6,575.1 1336.5,576.1 1337.4,577 1338.3,575.1 1339.2,574.5 1340.1,575.4 1341,574.7 1341.9,576.5 1342.8,576.6 1343.7,575.2 1344.6,576.6 1345.5,576.2 1346.4,576.7 1347.3,577 1348.2,576.2 1349.1,574.7 1350,576 1350.9,576.1 1351.8,576.8 1352.7,576.8 1353.6,576.4 1354.5,576.2 1355.4,576.7 1356.3,576.2 1357.2,576.5 1358.1,576.2 1359,574.6 1359.9,575.1 1360.8,574.6 1361.7,575.6 1362.6,576 1363.5,575.3 1364.4,575.8 1365.3,574.6 1366.2,575.6 1367.1,574.6 1368,575.1 1368.9,574.6 1369.8,574.4 1370.7,574.6 1371.6,575.1 1372.5,575.4 1373.4,575.7 1374.3,576 1375.2,575.9 1376.1,576.8 1377,573.6 1377.9,575.9 1378.8,576.8 1379.7,575.8 1380.6,575.4 1381.5,576 1382.4,575.2 1383.3,575.6 1384.2,575.2 1385.1,576 1386,574.9 1386.9,575.9 1387.8,575.6 1388.7,575.7 1389.6,575.2 1390.5,574.8 1391.4,575.9 1392.3,576.2 1393.2,575.3 1394.1,575.3 1395,575 1395.9,575.6 1396.8,575 1397.7,576.2 1398.6,576 1399.5,576.1 1400.4,575.5 1401.3,574.5 1402.2,576 1403.1,575.3 1404,575.4 1404.9,575.3 1405.8,575.7 1406.7,575.5 1407.6,575.9 1408.5,575.8 1409.4,575.5 1410.3,575.6 1411.2,575.3 1412.1,575.8 1413,575.7 1413.9,575.9 1414.8,573.4 1415.7,575.2 1416.6,575.3 1417.5,574.9 1418.4,574.3 1419.3,574.8"/>
<polyline stroke="#f29222" stroke-width="1.6" points="261,576.6 262,576.2 263,576.8 264,576.5 265,576.1 266,576.6 267,576.8 268,576.3 269,576.9 270.8,576.4 271.1,571.4 271.4,571.4 271.4,570.5 271.9,570.5 271.9,571.4 272.5,571.4 272.8,576.4 275,576.2 276,576.5 277,576.4 278,576.2 279,576.8 280,576.8 281,576.9 282,576.7 283,576.6 284,576.2 285,576.8 286,576.9 287,576.4 288,576.5 289,576.9 290,576.1 291,576.7 292,576.5 293,576.5 294,576.2 295,576.6 296,576.2 297,576.4 298,576.4 299,576.3 300,576.1 301,576.7 302,576.7 303,576.9 304,576.4 305,576.9 306,576.8 307,576.4 308,576.8 309,576.1 310,576.7 311,576.8 312,576.3 313,576.4 314,576.1 315,576.9 316,576.7 317,576.3 318,576.5 319,576.1 320,576.8 321,576.8 322,576.4 323,576.8 324,576.5 325,576.1 326,576.3 327,576.6 328,576.6 329,576.4 330,576.9 331,576.1 332,576.1 333,576.2 334,576.6 335,576.5 336,576.5 337,576.2 338,576.4 339,576.5 340,576.7 341,576.7 342,576.1 343,576.1 344,576.2 345,576.3 346,576.3 347,576.4 348,576.9 349,576.5 350,576.9 351,576.6 352,576.7 353,576.3 354,576.5 355,576.1 356,576.9 357,576.3 358,576.1 359,576.1 360,576.7 361,576 362,576.4 363,576.4 364,576.3 365,576.4 366,576.7 367,576.7 368,576.3 369,576.5 371.2,576.4 371.5,571.4 371.8,571.4 371.8,570.5 372.3,570.5 372.3,571.4 372.9,571.4 373.2,576.4 375,576.8 376,576.7 377,576.9 378,576.6 379,576.9 380,576.1 381,576.3 382,576.2 383,576.1 384,576.9 385,576.5 386,576.9 387,576.2 388,576.6 389,576.3 390,576.3 391,576.8 392,576.7 393,576.6 394,576.4 395,576.5 396,576.6 397,576.2 398,576.3 399,576.9 400,576.8 401,576.2 402,576.1 403,576.7 404,576.1 405,576.1 406,576.5 407,576.4 408,576.8 409,576.5 410,576.2 411,576.5 412,576.8 413,576.9 414,576.1 415,576.1 416,576.7 417,576.2 418,576.8 419,576.6 420,576.8 421,576.3 422,576.3 423,576.9 424,576.1 425,576.7 426,576.3 427,576.1 428,576.7 429,576.2 430,576.9 431,576.4 432,576.7 433,576.1 434,576.2 435,576.4 436,576.6 437,576.7 438,576.2 439,576.8 440,576.7 441,576.7 442,576.5 443,576.9 444,576.9 445,576.4 446,576.6 447,576.7 448,576.2 449,576.5 450,576.2 451,576.5 452,576.7 453,576.4 454,576.4 455,576.5 456,576.4 457,576.1 458,575.9 459,576.2 460,576.9 461,576.9 462,576.2 463,576.4 464,576.7 465,576.6 466,576.4 467,576.5 468,576.5 469,576.1 470,576.6 471,576.7 472,576.9 473,575.7 474,576.6 475,576.9 476,576.3 477,576.8 478,576.1 479,576.8 480,576.5 481,576.6 482,576.7 483,576.7 484,576.3 485,576.8 486,576.2 487,576.9 488,576.3 489,576.2 490,576.3 491,576.3 492,576.2 493,576.7 494,576.7 495,576.6 496,576.2 497,576.1 498,576.4 499,576.8 500,576.1 501,576.6 502,576.5 503,576.4 504,576.6 505,576.4 506,576.6 507,576.5 508,576.1 509,576.5 510,576.6 511,576.1 512,576.2 513,576.3 514,576.2 515,576.2 516,576.6 517,576.2 518,576.5 519,576.4 520,576.2 521,576.5 522,576.3 523,576.1 524,576.6 525,576.5 526.8,576.4 527.1,570.1 527.5,570.1 527.5,569 528,569 528,570.1 528.5,570.1 528.8,576.4 531,576.6 532,576.9 533,576.9 534,576.7 535,576.2 536,576.6 537,576.4 538,576.1 539,576.1 540,576.8 541,576.2 542,576.2 543,576.4 544,576.4 545,576.4 546,576.6 547,576.6 548,576.2 549,576.3 550,576.2 551,576.4 552,576.1 553,576.8 554,576.7 555,576.6 556,576.7 557,576.4 558,576.6 559,576.7 560,576.3 561,576.8 562,576.7 563,576.7 564,576.8 565,576.9 566,576.4 567,576.2 568,576.6 569,576.3 570.8,576.4 571.1,569.7 571.5,569.7 571.5,568.5 572,568.5 572,569.7 572.5,569.7 572.8,576.4 575,576.9 576,576.4 577,576.3 578,576.4 579,576.1 580,576.5 581,576.1 582,576.2 583,576.3 584,576.7 585,576.4 586,576.2 587,576.7 588,576.9 589,576.6 590,576.7 591,576.2 592,576.9 593,576.6 594,576.3 595,576.1 596,576.2 597,575.4 598,576.2 599,576.5 600,576.8 601,576.2 602,576.1 603,576.3 604,576.2 605,576.8 606,576.7 607,576.3 608,576.3 609,576.8 610.8,576.4 611.1,569.7 611.5,569.7 611.5,568.5 612,568.5 612,569.7 612.5,569.7 612.8,576.4 615,576.9 616,576.7 617,576.9 618,576.5 619,576.8 620,576.1 621,576.2 622,576.6 623,576.9 624,576.4 625,576.4 626,576.4 627,576.7 628,576.3 629,576.3 630,576.9 631,576.4 632,576.3 633,576.5 634,576.5 635,576.1 636,576.3 637,576.3 638,576.6 639,576.7 640,576.3 641,576.7 642,576.7 643,576.9 644,576.7 645,576.5 646,576.1 647,576.3 648,576.4 649,576.3 650,576.8 651,576.6 652,576.3 653,576.2 654,576.7 655,576.5 656,576.8 657,576.4 658,576.7 659,576.3 660,576.1 661,576.4 662,576.7 663,576.9 664,576.8 665,576.6 666,576.1 667,576.4 668,576.4 669,576.7 670,576.3 671,576.4 672,576.3 673,576.2 674,576.7 675,576.1 676,576.8 677,576.8 678,576.2 679,576.8 680,576.1 681,576.2 682,576.6 683,576.4 684,576.4 685,576.2 686,576.2 687,576.4 688,576.4 689,576.5 690,576.5 691,576.7 692,576.7 693,576.5 694,576.4 695,576.3 696,576.4 697,576.8 698,576.8 699,576.4 700,576.1 701,576.7 702,576.5 703,576.8 704,576.8 705,576.7 706,576.4 707,576.9 708,576.4 709,576.7 710,576.5 711,576.1 712,576.6 713,576.9 714,576.8 715,576.3 716,576.3 717,576.2 718,576.9 719,576.6 720,576.9 721,576.5 722,576.7 723,576.8 724,576.9 725,576.5 726,576.3 727,576.2 728,576.7 729,576.6 730,576.7 731,576.9 732,576.1 733,576.3 734,576.9 735,576.8 736,576.5 737,576.4 738,576.5 739,576.1 740,576.2 741,576.5 742,576.3 743,576.7 744,576.6 745,576.6 746,576.7 747,576.7 748,576.6 749,576.1 750,576.8 751,576.5 752,576.9 753,576.7 754,576.8 755,576.5 756,576.3 757,576.6 758,576.3 759,576.2 760,576.5 761,576.6 762,576.2 763,576.5 764,576.9 765,576.3 766,576.6 767,576.3 768,576.6 769,576.9 770.8,576.4 771.1,565.9 771.5,565.9 771.5,564 772,564 772,565.9 772.5,565.9 772.8,576.4 775,576.2 776,576.4 777,576.8 778,576.5 779,576.6 780,576.6 781,575.6 782,576.6 783,576.2 784,576.5 785,576.8 786,576.4 787,576.2 788,576.5 789,576.5 790,576.9 791,576.3 792,576.1 793,576.5 794,576.1 795,576.7 796,576.2 797,576.4 798,576.5 799,576.5 800,576.8 801,576.5 802,576.4 803,576.8 804,576.7 805,576.5 806,576.5 807,576.1 808,576.6 809,576.5 810,576.4 811,576.8 812,576.1 813,576.1 814,576.2 815,576.2 816,576.1 817,576.7 818,576.1 819,576.4 820,576 821,576.9 822,576.6 823,576.7 824,576.2 825,576.8 826,576.6 827,576.4 828,576.3 829,576.6 830,576.8 831,576.2 832,576.4 833,576.3 834,576.5 835,576.6 836,576.9 837,576.9 838,576.5 839,576.6 840,576.4 841,576.5 842,576.8 843,576.5 844,576.8 845,576.4 846,576.2 847,576.4 848,576.7 849,576.8 850,576.4 851,576.4 852,576.7 853,576.9 854,576.5 855,576.5 856,576.2 857,576.4 858,576.3 859,576.3 860,576.1 861,576.6 862,576.3 863,576.1 864,576.4 865,576.4 866,576.6 867,576.5 868,576.6 869,576.6 870,576.8 871,576.3 872,576.5 873,576.5 874,576.9 875,576.3 876,576.2 877,576.7 878,576.1 879,576.4 880,576.5 881,576.8 882,576.6 883,576.2 884,576.8 885,576.4 886,576.6 887,576.9 888,576.9 889,576.1 890,576.3 891,576.5 892,576.4 893,576.2 894,576.8 895,576.9 896,576.7 897,576.8 898,576.1 899,576.8 900,576.8 901,576.4 902,576.3 903,576.9 904,576.7 905,576.4 906,575.5 907,576.2 908,576.9 909,576.3 910,576.5 911,576.2 912,576.9 913,576.7 914,575.3 915,576.9 916,576.5 917,576.5 918,576.3 919,576.5 920,576.3 921,576 922,576.9 923,576.7 924,576.6 925,576.9 926,576.4 927,576.9 928,576.8 929,576.6 930,576.6 931,576.3 932,576.2 933,576.7 934,576.7 935,576.9 936,576.5 937,576.8 938,576.5 939,576.6 940,576.5 941,576.1 942,576.9 943,576.1 944,576.2 945,576.8 946,576.6 947,576.1 948,576.3 949,576.5 950,576.1 951,576.3 952,576.6 953,576.2 954,576.8 955,576.6 956,576.9 957,576.4 958,576.4 959,576.5 960,576.9 961,576.2 962,576.1 963,576.2 964,576.8 965,576.9 966,576.7 967,576.3 968,576.6 969,576.1 970.8,576.4 971.1,568.4 971.5,568.4 971.5,567 972,567 972,568.4 972.5,568.4 972.8,576.4 975,576.8 976,576.3 977,576.8 978,576.4 979,576.1 980,576.1 981,576.1 982,576.9 983,576.3 984,576.7 985,576.2 986,576.9 987,576.1 988,576.9 989,576.2 990,576.7 991,576.1 992,576.1 993,576.1 994,576.1 995,576.8 996,576.4 997,576.6 998,576.5 999,576.8 1000,576.1 1001,575.5 1002,576.3 1003,576.8 1004,576.7 1005,576.5 1006,576.5 1007,576.8 1008,576.9 1009,576.8 1010,576.7 1011,576.6 1012,576.9 1013,576.8 1014,576.1 1015,576.2 1016,576.5 1017,576.3 1018,576.9 1019,576.1 1020,576.9 1021,576.2 1022,576.7 1023,576.1 1024,576.6 1025,576.8 1026,576.9 1027,576.4 1028,576.7 1029,576.9 1030,576.5 1031,576.1 1032,576.1 1033,576.2 1034,576.7 1035,576.2 1036,576.8 1037,576.2 1038,576.8 1039,576.4 1040,576.4 1041,576.4 1042,576.4 1043,576.8 1044,576.8 1045,576.5 1046,576.5 1047,576.2 1048,576.1 1049,576.5 1050,576.7 1051,576.2 1052,576.7 1053,576.6 1054,576.1 1055,576.8 1056,576.6 1057,576.4 1058,576.4 1059,576.8 1060,576.1 1061,576.9 1062,576.6 1063,576.7 1064,576.9 1065,576.1 1066,576.6 1067,576.5 1068,576.4 1069,576.7 1070,576.8 1071,576.2 1072,576.7 1073,576.5 1074,576.6 1075,576.8 1076,576.2 1077,576.8 1078,576.9 1079,576.1 1080,576.8 1081,576.7 1082,576.8 1083,576.1 1084,576.1 1085,576.8 1086,576.7 1087,576.4 1088,576.4 1089,576.3 1090,576.2 1091,576.1 1092,576.8 1093,576.7 1094,576.8 1095,576.5 1096,576.2 1097,576.4 1098,576.5 1099,576.2 1100,576.9 1101,576.2 1102,576.8 1103,576.6 1104,576.5 1105,576.2 1106,576.6 1107,576.6 1108,576.5 1109,576.7 1110,576.9 1111,576.5 1112,576.2 1113,576.3 1114,576.8 1115,576.9 1116,576.2 1117,576.7 1118,576.2 1119,576.9 1120,576.9 1121,576.5 1122,576.7 1123,576.1 1124,576.7 1125,576.4 1126,576.2 1127,576.5 1128,576.7 1129,576.8 1130,576.5 1131,576.5 1132,576.2 1133,576.1 1134,576.3 1135,576.1 1136,576.8 1137,576.6 1138,576.6 1139,576.3 1140,576.2 1141,576.9 1142,576.9 1143,576.7 1144,576.7 1145,576.5 1146,576.9 1147,576.1 1148,576.5 1149,576.1 1150,576.7 1151,576.3 1152,576.9 1153,576.1 1154,576.2 1155,576.1 1156,576.6 1157,576.6 1158,576.4 1159,576.3 1160,576.2 1161,576.9 1162,576.3 1163,576.3 1164,576.4 1165,576.7 1166,576.5 1167,576.7 1168,576.1 1170.3,576.4 1170.6,565 1171,565 1171,563 1171.5,563 1171.5,565 1172,565 1172.3,576.4 1175,576.4 1176,576.4 1177,576.8 1178,576.1 1179,576.2 1180,576.4 1181,576.2 1182,576.9 1183,576.8 1184,576.4 1185,576.4 1186,576.9 1187,576.6 1188,576.9 1189,576.2 1190,576.2 1191,576.1 1192,576.2 1193,576.7 1194,576.7 1195,576.4 1196,576.8 1197,576.3 1198,576.6 1199,576.7 1200,576.9 1201,576.2 1202,576.2 1203,576.8 1204,576.8 1205,576.8 1206,576.2 1207,575.9 1208,576.4 1209,576.4 1210,576.7 1211,576.8 1212,576.6 1213,576.2 1214,576.5 1215,576.9 1216,576.9 1217,576.1 1218,576.2 1219,576.5 1220,576.9 1221,576.8 1222,576.2 1223,576.5 1224,576.2 1225,576.2 1226,576.2 1227,576.6 1228,576.7 1229,576.9 1230,576.7 1231,576.4 1232,576.1 1233,576.2 1234,576.1 1235,576.5 1236,576.2 1237,576.4 1238,576.1 1239,576.8 1240,576.7 1241,576.8 1242,576.8 1243,576.9 1244,576.6 1245,576.2 1246,576.7 1247,576.2 1248,576.2 1249,576.2 1250,576.8 1251,576.7 1252,576.9 1253,576.2 1254,576.2 1255,576.9 1256,576.3 1257,576.1 1258,576.1 1259,576.7 1260,576.5 1261,576.4 1262,576.5 1263,576.8 1264,576.3 1265,576.9 1266,576.4 1267,576.3 1268,576.3 1269,576.8 1270,576.9 1271,576.3 1272,576.7 1273,576.5 1274,576.6 1275,576.1 1276,576.2 1277,576.5 1278,576.4 1279,576.3 1280,576.4 1281,576.5 1282,576.6 1283,576.4 1284,576.7 1285,576.6 1286,576.3 1287,576.5 1288,576.1 1289,576.9 1290,576.5 1291,576.4 1292,576.8 1293,576.6 1294,576.9 1295,576.6 1296,576.7 1297,576.1 1298,576.1 1299,576.4 1300,576.9 1301,576.6 1302,576.1 1303,576.5 1304,576.3 1305,576.2 1306,576.4 1307,576.8 1308,576.8 1309,576.1 1310,576.8 1311,576.6 1312,576.8 1313,576.8 1314,576.7 1315,576.6 1316,576.1 1317,576.9 1318,576.4 1319,576.4 1320,576.5 1321,576.5 1322,576.4 1323,576.9 1324,576.8 1325,576.9 1326,576.1 1327,576.6 1328,576.9 1330.1,576.4 1330.4,566.3 1330.8,566.3 1330.8,564.5 1331.2,564.5 1331.2,566.3 1331.8,566.3 1332.1,576.4 1334,576.2 1335,576.7 1336,576.6 1337,576.7 1338,576.4 1339,576.9 1340,576.5 1341,576.3 1342,576.1 1343,576.7 1344,576.5 1345,576.6 1346,576.4 1347,576.3 1348,576.1 1349,576.4 1350,576.8 1351,576.4 1352,576.4 1353,576.8 1354,576.4 1355,576.5 1356,576.9 1357,576.1 1358,576.5 1359,576.4 1360,576.2 1361,576.4 1362,576.2 1363,576.8 1364,576.6 1365,576.7 1366,576.1 1367,576.5 1368,576.7 1369,576.4 1370.8,576.4 1371.1,566.3 1371.5,566.3 1371.5,564.5 1372,564.5 1372,566.3 1372.5,566.3 1372.8,576.4 1375,576.3 1376,576.6 1377,576.9 1378,576.5 1379,576.6 1380,576.1 1381,576.1 1382,576.9 1383,576.7 1384,576.9 1385,576.6 1386,576.5 1387,576.8 1388,576.3 1389,576.1 1390,576.9 1391,576.2 1392,576.7 1393,576.9 1394,576.7 1395,576.8 1396,576.5 1397,576.5 1398,576.3 1399,576.1 1400,576.9 1401,576.8 1402,576.4 1403,576.5 1404,576.7 1405,576.5 1406,576.5 1407,576.6 1408,576.5 1409,576.8 1410,576.6 1411,576.3 1412,576.3 1413,576.3 1414,576.7 1415,576.6 1416,575.8 1417,576.3 1418,576.2 1419,576.9 1420,576.7"/>
</g>
<rect x="259.5" y="387.6" width="1161.5" height="2" fill="#000"/>
<rect x="259.5" y="387.6" width="2" height="212.4" fill="#000"/>
<rect x="261.5" y="599" width="1159.5" height="1" fill="#c8c8c8"/>
</g>
</svg>
</body></html>
